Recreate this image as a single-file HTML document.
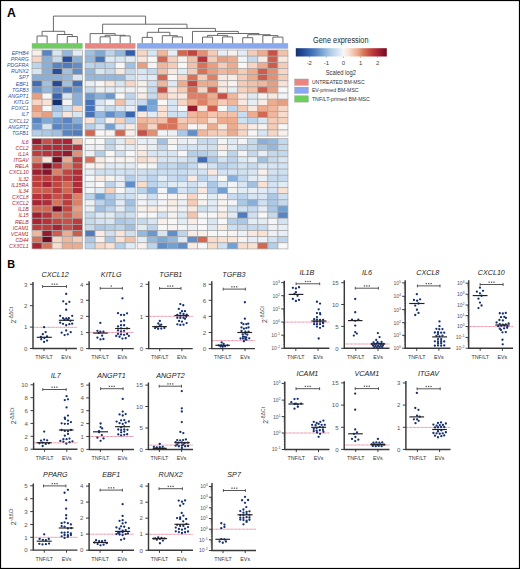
<!DOCTYPE html><html><head><meta charset="utf-8"><style>html,body{margin:0;padding:0;background:#fff}svg{display:block}text{font-family:"Liberation Sans",sans-serif}</style></head><body>
<svg width="520" height="569" viewBox="0 0 520 569">
<rect x="0" y="0" width="520" height="569" fill="#fff"/>
<rect x="0.5" y="0.5" width="519" height="568" fill="none" stroke="#000" stroke-width="1.2"/>
<text x="7.0" y="16.5" font-size="12.2" font-weight="bold" fill="#000">A</text>
<text x="7.2" y="268.3" font-size="10.8" font-weight="bold" fill="#000">B</text>
<rect x="32.00" y="43.3" width="10.08" height="5.2" fill="#6ccf5c" stroke="#a0a0a0" stroke-width="0.35"/>
<rect x="42.08" y="43.3" width="10.08" height="5.2" fill="#6ccf5c" stroke="#a0a0a0" stroke-width="0.35"/>
<rect x="52.16" y="43.3" width="10.08" height="5.2" fill="#6ccf5c" stroke="#a0a0a0" stroke-width="0.35"/>
<rect x="62.24" y="43.3" width="10.08" height="5.2" fill="#6ccf5c" stroke="#a0a0a0" stroke-width="0.35"/>
<rect x="72.32" y="43.3" width="10.08" height="5.2" fill="#6ccf5c" stroke="#a0a0a0" stroke-width="0.35"/>
<rect x="85.10" y="43.3" width="10.02" height="5.2" fill="#ea857f" stroke="#a0a0a0" stroke-width="0.35"/>
<rect x="95.12" y="43.3" width="10.02" height="5.2" fill="#ea857f" stroke="#a0a0a0" stroke-width="0.35"/>
<rect x="105.14" y="43.3" width="10.02" height="5.2" fill="#ea857f" stroke="#a0a0a0" stroke-width="0.35"/>
<rect x="115.16" y="43.3" width="10.02" height="5.2" fill="#ea857f" stroke="#a0a0a0" stroke-width="0.35"/>
<rect x="125.18" y="43.3" width="10.02" height="5.2" fill="#ea857f" stroke="#a0a0a0" stroke-width="0.35"/>
<rect x="137.20" y="43.3" width="10.05" height="5.2" fill="#88a8f2" stroke="#a0a0a0" stroke-width="0.35"/>
<rect x="147.25" y="43.3" width="10.05" height="5.2" fill="#88a8f2" stroke="#a0a0a0" stroke-width="0.35"/>
<rect x="157.30" y="43.3" width="10.05" height="5.2" fill="#88a8f2" stroke="#a0a0a0" stroke-width="0.35"/>
<rect x="167.35" y="43.3" width="10.05" height="5.2" fill="#88a8f2" stroke="#a0a0a0" stroke-width="0.35"/>
<rect x="177.40" y="43.3" width="10.05" height="5.2" fill="#88a8f2" stroke="#a0a0a0" stroke-width="0.35"/>
<rect x="187.45" y="43.3" width="10.05" height="5.2" fill="#88a8f2" stroke="#a0a0a0" stroke-width="0.35"/>
<rect x="197.50" y="43.3" width="10.05" height="5.2" fill="#88a8f2" stroke="#a0a0a0" stroke-width="0.35"/>
<rect x="207.55" y="43.3" width="10.05" height="5.2" fill="#88a8f2" stroke="#a0a0a0" stroke-width="0.35"/>
<rect x="217.60" y="43.3" width="10.05" height="5.2" fill="#88a8f2" stroke="#a0a0a0" stroke-width="0.35"/>
<rect x="227.65" y="43.3" width="10.05" height="5.2" fill="#88a8f2" stroke="#a0a0a0" stroke-width="0.35"/>
<rect x="237.70" y="43.3" width="10.05" height="5.2" fill="#88a8f2" stroke="#a0a0a0" stroke-width="0.35"/>
<rect x="247.75" y="43.3" width="10.05" height="5.2" fill="#88a8f2" stroke="#a0a0a0" stroke-width="0.35"/>
<rect x="257.80" y="43.3" width="10.05" height="5.2" fill="#88a8f2" stroke="#a0a0a0" stroke-width="0.35"/>
<rect x="267.85" y="43.3" width="10.05" height="5.2" fill="#88a8f2" stroke="#a0a0a0" stroke-width="0.35"/>
<rect x="277.90" y="43.3" width="10.05" height="5.2" fill="#88a8f2" stroke="#a0a0a0" stroke-width="0.35"/>
<rect x="32.00" y="50.00" width="10.08" height="6.15" fill="#f8f0eb" stroke="#a6a6a6" stroke-width="0.7"/>
<rect x="42.08" y="50.00" width="10.08" height="6.15" fill="#5785c3" stroke="#a6a6a6" stroke-width="0.7"/>
<rect x="52.16" y="50.00" width="10.08" height="6.15" fill="#d8e6f4" stroke="#a6a6a6" stroke-width="0.7"/>
<rect x="62.24" y="50.00" width="10.08" height="6.15" fill="#95b9de" stroke="#a6a6a6" stroke-width="0.7"/>
<rect x="72.32" y="50.00" width="10.08" height="6.15" fill="#e2ecf5" stroke="#a6a6a6" stroke-width="0.7"/>
<rect x="85.10" y="50.00" width="10.02" height="6.15" fill="#a0c1e2" stroke="#a6a6a6" stroke-width="0.7"/>
<rect x="95.12" y="50.00" width="10.02" height="6.15" fill="#7ea8d6" stroke="#a6a6a6" stroke-width="0.7"/>
<rect x="105.14" y="50.00" width="10.02" height="6.15" fill="#bdd5ec" stroke="#a6a6a6" stroke-width="0.7"/>
<rect x="115.16" y="50.00" width="10.02" height="6.15" fill="#95b9de" stroke="#a6a6a6" stroke-width="0.7"/>
<rect x="125.18" y="50.00" width="10.02" height="6.15" fill="#345da9" stroke="#a6a6a6" stroke-width="0.7"/>
<rect x="137.20" y="50.00" width="10.05" height="6.15" fill="#f7d6c5" stroke="#a6a6a6" stroke-width="0.7"/>
<rect x="147.25" y="50.00" width="10.05" height="6.15" fill="#d8e6f4" stroke="#a6a6a6" stroke-width="0.7"/>
<rect x="157.30" y="50.00" width="10.05" height="6.15" fill="#f0b79c" stroke="#a6a6a6" stroke-width="0.7"/>
<rect x="167.35" y="50.00" width="10.05" height="6.15" fill="#e8eef6" stroke="#a6a6a6" stroke-width="0.7"/>
<rect x="177.40" y="50.00" width="10.05" height="6.15" fill="#d26752" stroke="#a6a6a6" stroke-width="0.7"/>
<rect x="187.45" y="50.00" width="10.05" height="6.15" fill="#c2453f" stroke="#a6a6a6" stroke-width="0.7"/>
<rect x="197.50" y="50.00" width="10.05" height="6.15" fill="#e38f74" stroke="#a6a6a6" stroke-width="0.7"/>
<rect x="207.55" y="50.00" width="10.05" height="6.15" fill="#f5ccb7" stroke="#a6a6a6" stroke-width="0.7"/>
<rect x="217.60" y="50.00" width="10.05" height="6.15" fill="#e8eef6" stroke="#a6a6a6" stroke-width="0.7"/>
<rect x="227.65" y="50.00" width="10.05" height="6.15" fill="#f8f0eb" stroke="#a6a6a6" stroke-width="0.7"/>
<rect x="237.70" y="50.00" width="10.05" height="6.15" fill="#e2ecf5" stroke="#a6a6a6" stroke-width="0.7"/>
<rect x="247.75" y="50.00" width="10.05" height="6.15" fill="#f5ccb7" stroke="#a6a6a6" stroke-width="0.7"/>
<rect x="257.80" y="50.00" width="10.05" height="6.15" fill="#eeac8e" stroke="#a6a6a6" stroke-width="0.7"/>
<rect x="267.85" y="50.00" width="10.05" height="6.15" fill="#c85046" stroke="#a6a6a6" stroke-width="0.7"/>
<rect x="277.90" y="50.00" width="10.05" height="6.15" fill="#f2c1aa" stroke="#a6a6a6" stroke-width="0.7"/>
<rect x="32.00" y="56.15" width="10.08" height="6.15" fill="#f7d6c5" stroke="#a6a6a6" stroke-width="0.7"/>
<rect x="42.08" y="56.15" width="10.08" height="6.15" fill="#89b0da" stroke="#a6a6a6" stroke-width="0.7"/>
<rect x="52.16" y="56.15" width="10.08" height="6.15" fill="#c6daee" stroke="#a6a6a6" stroke-width="0.7"/>
<rect x="62.24" y="56.15" width="10.08" height="6.15" fill="#284f9f" stroke="#a6a6a6" stroke-width="0.7"/>
<rect x="72.32" y="56.15" width="10.08" height="6.15" fill="#89b0da" stroke="#a6a6a6" stroke-width="0.7"/>
<rect x="85.10" y="56.15" width="10.02" height="6.15" fill="#95b9de" stroke="#a6a6a6" stroke-width="0.7"/>
<rect x="95.12" y="56.15" width="10.02" height="6.15" fill="#4573b9" stroke="#a6a6a6" stroke-width="0.7"/>
<rect x="105.14" y="56.15" width="10.02" height="6.15" fill="#dde9f4" stroke="#a6a6a6" stroke-width="0.7"/>
<rect x="115.16" y="56.15" width="10.02" height="6.15" fill="#d8e6f4" stroke="#a6a6a6" stroke-width="0.7"/>
<rect x="125.18" y="56.15" width="10.02" height="6.15" fill="#e2ecf5" stroke="#a6a6a6" stroke-width="0.7"/>
<rect x="137.20" y="56.15" width="10.05" height="6.15" fill="#f9e5d9" stroke="#a6a6a6" stroke-width="0.7"/>
<rect x="147.25" y="56.15" width="10.05" height="6.15" fill="#f7f7f7" stroke="#a6a6a6" stroke-width="0.7"/>
<rect x="157.30" y="56.15" width="10.05" height="6.15" fill="#d26752" stroke="#a6a6a6" stroke-width="0.7"/>
<rect x="167.35" y="56.15" width="10.05" height="6.15" fill="#f6d1be" stroke="#a6a6a6" stroke-width="0.7"/>
<rect x="177.40" y="56.15" width="10.05" height="6.15" fill="#f8f0eb" stroke="#a6a6a6" stroke-width="0.7"/>
<rect x="187.45" y="56.15" width="10.05" height="6.15" fill="#f2c1aa" stroke="#a6a6a6" stroke-width="0.7"/>
<rect x="197.50" y="56.15" width="10.05" height="6.15" fill="#b63439" stroke="#a6a6a6" stroke-width="0.7"/>
<rect x="207.55" y="56.15" width="10.05" height="6.15" fill="#f5ccb7" stroke="#a6a6a6" stroke-width="0.7"/>
<rect x="217.60" y="56.15" width="10.05" height="6.15" fill="#e89e81" stroke="#a6a6a6" stroke-width="0.7"/>
<rect x="227.65" y="56.15" width="10.05" height="6.15" fill="#eeac8e" stroke="#a6a6a6" stroke-width="0.7"/>
<rect x="237.70" y="56.15" width="10.05" height="6.15" fill="#f2f4f6" stroke="#a6a6a6" stroke-width="0.7"/>
<rect x="247.75" y="56.15" width="10.05" height="6.15" fill="#c6daee" stroke="#a6a6a6" stroke-width="0.7"/>
<rect x="257.80" y="56.15" width="10.05" height="6.15" fill="#f8ece5" stroke="#a6a6a6" stroke-width="0.7"/>
<rect x="267.85" y="56.15" width="10.05" height="6.15" fill="#cd5c4c" stroke="#a6a6a6" stroke-width="0.7"/>
<rect x="277.90" y="56.15" width="10.05" height="6.15" fill="#f8e8df" stroke="#a6a6a6" stroke-width="0.7"/>
<rect x="32.00" y="62.30" width="10.08" height="6.15" fill="#bdd5ec" stroke="#a6a6a6" stroke-width="0.7"/>
<rect x="42.08" y="62.30" width="10.08" height="6.15" fill="#89b0da" stroke="#a6a6a6" stroke-width="0.7"/>
<rect x="52.16" y="62.30" width="10.08" height="6.15" fill="#5785c3" stroke="#a6a6a6" stroke-width="0.7"/>
<rect x="62.24" y="62.30" width="10.08" height="6.15" fill="#4e7cbe" stroke="#a6a6a6" stroke-width="0.7"/>
<rect x="72.32" y="62.30" width="10.08" height="6.15" fill="#618ec8" stroke="#a6a6a6" stroke-width="0.7"/>
<rect x="85.10" y="62.30" width="10.02" height="6.15" fill="#bdd5ec" stroke="#a6a6a6" stroke-width="0.7"/>
<rect x="95.12" y="62.30" width="10.02" height="6.15" fill="#b4cfe9" stroke="#a6a6a6" stroke-width="0.7"/>
<rect x="105.14" y="62.30" width="10.02" height="6.15" fill="#bdd5ec" stroke="#a6a6a6" stroke-width="0.7"/>
<rect x="115.16" y="62.30" width="10.02" height="6.15" fill="#f7f7f7" stroke="#a6a6a6" stroke-width="0.7"/>
<rect x="125.18" y="62.30" width="10.02" height="6.15" fill="#a0c1e2" stroke="#a6a6a6" stroke-width="0.7"/>
<rect x="137.20" y="62.30" width="10.05" height="6.15" fill="#e89e81" stroke="#a6a6a6" stroke-width="0.7"/>
<rect x="147.25" y="62.30" width="10.05" height="6.15" fill="#f2f4f6" stroke="#a6a6a6" stroke-width="0.7"/>
<rect x="157.30" y="62.30" width="10.05" height="6.15" fill="#f0b79c" stroke="#a6a6a6" stroke-width="0.7"/>
<rect x="167.35" y="62.30" width="10.05" height="6.15" fill="#f5ccb7" stroke="#a6a6a6" stroke-width="0.7"/>
<rect x="177.40" y="62.30" width="10.05" height="6.15" fill="#f7f7f7" stroke="#a6a6a6" stroke-width="0.7"/>
<rect x="187.45" y="62.30" width="10.05" height="6.15" fill="#f2c1aa" stroke="#a6a6a6" stroke-width="0.7"/>
<rect x="197.50" y="62.30" width="10.05" height="6.15" fill="#d87259" stroke="#a6a6a6" stroke-width="0.7"/>
<rect x="207.55" y="62.30" width="10.05" height="6.15" fill="#e89e81" stroke="#a6a6a6" stroke-width="0.7"/>
<rect x="217.60" y="62.30" width="10.05" height="6.15" fill="#f5ccb7" stroke="#a6a6a6" stroke-width="0.7"/>
<rect x="227.65" y="62.30" width="10.05" height="6.15" fill="#eeac8e" stroke="#a6a6a6" stroke-width="0.7"/>
<rect x="237.70" y="62.30" width="10.05" height="6.15" fill="#f7f7f7" stroke="#a6a6a6" stroke-width="0.7"/>
<rect x="247.75" y="62.30" width="10.05" height="6.15" fill="#f7d6c5" stroke="#a6a6a6" stroke-width="0.7"/>
<rect x="257.80" y="62.30" width="10.05" height="6.15" fill="#eeac8e" stroke="#a6a6a6" stroke-width="0.7"/>
<rect x="267.85" y="62.30" width="10.05" height="6.15" fill="#cd5c4c" stroke="#a6a6a6" stroke-width="0.7"/>
<rect x="277.90" y="62.30" width="10.05" height="6.15" fill="#f5ccb7" stroke="#a6a6a6" stroke-width="0.7"/>
<rect x="32.00" y="68.45" width="10.08" height="6.15" fill="#d8e6f4" stroke="#a6a6a6" stroke-width="0.7"/>
<rect x="42.08" y="68.45" width="10.08" height="6.15" fill="#89b0da" stroke="#a6a6a6" stroke-width="0.7"/>
<rect x="52.16" y="68.45" width="10.08" height="6.15" fill="#284f9f" stroke="#a6a6a6" stroke-width="0.7"/>
<rect x="62.24" y="68.45" width="10.08" height="6.15" fill="#a0c1e2" stroke="#a6a6a6" stroke-width="0.7"/>
<rect x="72.32" y="68.45" width="10.08" height="6.15" fill="#618ec8" stroke="#a6a6a6" stroke-width="0.7"/>
<rect x="85.10" y="68.45" width="10.02" height="6.15" fill="#95b9de" stroke="#a6a6a6" stroke-width="0.7"/>
<rect x="95.12" y="68.45" width="10.02" height="6.15" fill="#d8e6f4" stroke="#a6a6a6" stroke-width="0.7"/>
<rect x="105.14" y="68.45" width="10.02" height="6.15" fill="#c6daee" stroke="#a6a6a6" stroke-width="0.7"/>
<rect x="115.16" y="68.45" width="10.02" height="6.15" fill="#f8e8df" stroke="#a6a6a6" stroke-width="0.7"/>
<rect x="125.18" y="68.45" width="10.02" height="6.15" fill="#c6daee" stroke="#a6a6a6" stroke-width="0.7"/>
<rect x="137.20" y="68.45" width="10.05" height="6.15" fill="#d8e6f4" stroke="#a6a6a6" stroke-width="0.7"/>
<rect x="147.25" y="68.45" width="10.05" height="6.15" fill="#c6daee" stroke="#a6a6a6" stroke-width="0.7"/>
<rect x="157.30" y="68.45" width="10.05" height="6.15" fill="#f2c1aa" stroke="#a6a6a6" stroke-width="0.7"/>
<rect x="167.35" y="68.45" width="10.05" height="6.15" fill="#f8e8df" stroke="#a6a6a6" stroke-width="0.7"/>
<rect x="177.40" y="68.45" width="10.05" height="6.15" fill="#e2ecf5" stroke="#a6a6a6" stroke-width="0.7"/>
<rect x="187.45" y="68.45" width="10.05" height="6.15" fill="#f5ccb7" stroke="#a6a6a6" stroke-width="0.7"/>
<rect x="197.50" y="68.45" width="10.05" height="6.15" fill="#d87259" stroke="#a6a6a6" stroke-width="0.7"/>
<rect x="207.55" y="68.45" width="10.05" height="6.15" fill="#e89e81" stroke="#a6a6a6" stroke-width="0.7"/>
<rect x="217.60" y="68.45" width="10.05" height="6.15" fill="#f0b79c" stroke="#a6a6a6" stroke-width="0.7"/>
<rect x="227.65" y="68.45" width="10.05" height="6.15" fill="#eeac8e" stroke="#a6a6a6" stroke-width="0.7"/>
<rect x="237.70" y="68.45" width="10.05" height="6.15" fill="#f5ccb7" stroke="#a6a6a6" stroke-width="0.7"/>
<rect x="247.75" y="68.45" width="10.05" height="6.15" fill="#eeac8e" stroke="#a6a6a6" stroke-width="0.7"/>
<rect x="257.80" y="68.45" width="10.05" height="6.15" fill="#cd5c4c" stroke="#a6a6a6" stroke-width="0.7"/>
<rect x="267.85" y="68.45" width="10.05" height="6.15" fill="#e38f74" stroke="#a6a6a6" stroke-width="0.7"/>
<rect x="277.90" y="68.45" width="10.05" height="6.15" fill="#f7d6c5" stroke="#a6a6a6" stroke-width="0.7"/>
<rect x="32.00" y="74.60" width="10.08" height="6.15" fill="#89b0da" stroke="#a6a6a6" stroke-width="0.7"/>
<rect x="42.08" y="74.60" width="10.08" height="6.15" fill="#89b0da" stroke="#a6a6a6" stroke-width="0.7"/>
<rect x="52.16" y="74.60" width="10.08" height="6.15" fill="#89b0da" stroke="#a6a6a6" stroke-width="0.7"/>
<rect x="62.24" y="74.60" width="10.08" height="6.15" fill="#95b9de" stroke="#a6a6a6" stroke-width="0.7"/>
<rect x="72.32" y="74.60" width="10.08" height="6.15" fill="#d8e6f4" stroke="#a6a6a6" stroke-width="0.7"/>
<rect x="85.10" y="74.60" width="10.02" height="6.15" fill="#95b9de" stroke="#a6a6a6" stroke-width="0.7"/>
<rect x="95.12" y="74.60" width="10.02" height="6.15" fill="#95b9de" stroke="#a6a6a6" stroke-width="0.7"/>
<rect x="105.14" y="74.60" width="10.02" height="6.15" fill="#95b9de" stroke="#a6a6a6" stroke-width="0.7"/>
<rect x="115.16" y="74.60" width="10.02" height="6.15" fill="#95b9de" stroke="#a6a6a6" stroke-width="0.7"/>
<rect x="125.18" y="74.60" width="10.02" height="6.15" fill="#cfe0f1" stroke="#a6a6a6" stroke-width="0.7"/>
<rect x="137.20" y="74.60" width="10.05" height="6.15" fill="#dde9f4" stroke="#a6a6a6" stroke-width="0.7"/>
<rect x="147.25" y="74.60" width="10.05" height="6.15" fill="#e2ecf5" stroke="#a6a6a6" stroke-width="0.7"/>
<rect x="157.30" y="74.60" width="10.05" height="6.15" fill="#d26752" stroke="#a6a6a6" stroke-width="0.7"/>
<rect x="167.35" y="74.60" width="10.05" height="6.15" fill="#f7f7f7" stroke="#a6a6a6" stroke-width="0.7"/>
<rect x="177.40" y="74.60" width="10.05" height="6.15" fill="#f7d6c5" stroke="#a6a6a6" stroke-width="0.7"/>
<rect x="187.45" y="74.60" width="10.05" height="6.15" fill="#d87259" stroke="#a6a6a6" stroke-width="0.7"/>
<rect x="197.50" y="74.60" width="10.05" height="6.15" fill="#f5ccb7" stroke="#a6a6a6" stroke-width="0.7"/>
<rect x="207.55" y="74.60" width="10.05" height="6.15" fill="#de8066" stroke="#a6a6a6" stroke-width="0.7"/>
<rect x="217.60" y="74.60" width="10.05" height="6.15" fill="#f8e8df" stroke="#a6a6a6" stroke-width="0.7"/>
<rect x="227.65" y="74.60" width="10.05" height="6.15" fill="#f8ece5" stroke="#a6a6a6" stroke-width="0.7"/>
<rect x="237.70" y="74.60" width="10.05" height="6.15" fill="#f5ccb7" stroke="#a6a6a6" stroke-width="0.7"/>
<rect x="247.75" y="74.60" width="10.05" height="6.15" fill="#eeac8e" stroke="#a6a6a6" stroke-width="0.7"/>
<rect x="257.80" y="74.60" width="10.05" height="6.15" fill="#cd5c4c" stroke="#a6a6a6" stroke-width="0.7"/>
<rect x="267.85" y="74.60" width="10.05" height="6.15" fill="#e38f74" stroke="#a6a6a6" stroke-width="0.7"/>
<rect x="277.90" y="74.60" width="10.05" height="6.15" fill="#f5ccb7" stroke="#a6a6a6" stroke-width="0.7"/>
<rect x="32.00" y="80.75" width="10.08" height="6.15" fill="#3f6cb4" stroke="#a6a6a6" stroke-width="0.7"/>
<rect x="42.08" y="80.75" width="10.08" height="6.15" fill="#a0c1e2" stroke="#a6a6a6" stroke-width="0.7"/>
<rect x="52.16" y="80.75" width="10.08" height="6.15" fill="#244995" stroke="#a6a6a6" stroke-width="0.7"/>
<rect x="62.24" y="80.75" width="10.08" height="6.15" fill="#a0c1e2" stroke="#a6a6a6" stroke-width="0.7"/>
<rect x="72.32" y="80.75" width="10.08" height="6.15" fill="#3f6cb4" stroke="#a6a6a6" stroke-width="0.7"/>
<rect x="85.10" y="80.75" width="10.02" height="6.15" fill="#e8eef6" stroke="#a6a6a6" stroke-width="0.7"/>
<rect x="95.12" y="80.75" width="10.02" height="6.15" fill="#f7f7f7" stroke="#a6a6a6" stroke-width="0.7"/>
<rect x="105.14" y="80.75" width="10.02" height="6.15" fill="#f8e8df" stroke="#a6a6a6" stroke-width="0.7"/>
<rect x="115.16" y="80.75" width="10.02" height="6.15" fill="#d8e6f4" stroke="#a6a6a6" stroke-width="0.7"/>
<rect x="125.18" y="80.75" width="10.02" height="6.15" fill="#f7d6c5" stroke="#a6a6a6" stroke-width="0.7"/>
<rect x="137.20" y="80.75" width="10.05" height="6.15" fill="#f8f0eb" stroke="#a6a6a6" stroke-width="0.7"/>
<rect x="147.25" y="80.75" width="10.05" height="6.15" fill="#cfe0f1" stroke="#a6a6a6" stroke-width="0.7"/>
<rect x="157.30" y="80.75" width="10.05" height="6.15" fill="#f0b79c" stroke="#a6a6a6" stroke-width="0.7"/>
<rect x="167.35" y="80.75" width="10.05" height="6.15" fill="#dde9f4" stroke="#a6a6a6" stroke-width="0.7"/>
<rect x="177.40" y="80.75" width="10.05" height="6.15" fill="#eeac8e" stroke="#a6a6a6" stroke-width="0.7"/>
<rect x="187.45" y="80.75" width="10.05" height="6.15" fill="#c2453f" stroke="#a6a6a6" stroke-width="0.7"/>
<rect x="197.50" y="80.75" width="10.05" height="6.15" fill="#eeac8e" stroke="#a6a6a6" stroke-width="0.7"/>
<rect x="207.55" y="80.75" width="10.05" height="6.15" fill="#eeac8e" stroke="#a6a6a6" stroke-width="0.7"/>
<rect x="217.60" y="80.75" width="10.05" height="6.15" fill="#f8e8df" stroke="#a6a6a6" stroke-width="0.7"/>
<rect x="227.65" y="80.75" width="10.05" height="6.15" fill="#f7f3f1" stroke="#a6a6a6" stroke-width="0.7"/>
<rect x="237.70" y="80.75" width="10.05" height="6.15" fill="#f5ccb7" stroke="#a6a6a6" stroke-width="0.7"/>
<rect x="247.75" y="80.75" width="10.05" height="6.15" fill="#f2c1aa" stroke="#a6a6a6" stroke-width="0.7"/>
<rect x="257.80" y="80.75" width="10.05" height="6.15" fill="#f0b79c" stroke="#a6a6a6" stroke-width="0.7"/>
<rect x="267.85" y="80.75" width="10.05" height="6.15" fill="#e89e81" stroke="#a6a6a6" stroke-width="0.7"/>
<rect x="277.90" y="80.75" width="10.05" height="6.15" fill="#f9e1d3" stroke="#a6a6a6" stroke-width="0.7"/>
<rect x="32.00" y="86.90" width="10.08" height="6.15" fill="#6a97cd" stroke="#a6a6a6" stroke-width="0.7"/>
<rect x="42.08" y="86.90" width="10.08" height="6.15" fill="#95b9de" stroke="#a6a6a6" stroke-width="0.7"/>
<rect x="52.16" y="86.90" width="10.08" height="6.15" fill="#618ec8" stroke="#a6a6a6" stroke-width="0.7"/>
<rect x="62.24" y="86.90" width="10.08" height="6.15" fill="#4e7cbe" stroke="#a6a6a6" stroke-width="0.7"/>
<rect x="72.32" y="86.90" width="10.08" height="6.15" fill="#6a97cd" stroke="#a6a6a6" stroke-width="0.7"/>
<rect x="85.10" y="86.90" width="10.02" height="6.15" fill="#c6daee" stroke="#a6a6a6" stroke-width="0.7"/>
<rect x="95.12" y="86.90" width="10.02" height="6.15" fill="#edf1f6" stroke="#a6a6a6" stroke-width="0.7"/>
<rect x="105.14" y="86.90" width="10.02" height="6.15" fill="#e2ecf5" stroke="#a6a6a6" stroke-width="0.7"/>
<rect x="115.16" y="86.90" width="10.02" height="6.15" fill="#edf1f6" stroke="#a6a6a6" stroke-width="0.7"/>
<rect x="125.18" y="86.90" width="10.02" height="6.15" fill="#edf1f6" stroke="#a6a6a6" stroke-width="0.7"/>
<rect x="137.20" y="86.90" width="10.05" height="6.15" fill="#f7f3f1" stroke="#a6a6a6" stroke-width="0.7"/>
<rect x="147.25" y="86.90" width="10.05" height="6.15" fill="#c6daee" stroke="#a6a6a6" stroke-width="0.7"/>
<rect x="157.30" y="86.90" width="10.05" height="6.15" fill="#c85046" stroke="#a6a6a6" stroke-width="0.7"/>
<rect x="167.35" y="86.90" width="10.05" height="6.15" fill="#f8e8df" stroke="#a6a6a6" stroke-width="0.7"/>
<rect x="177.40" y="86.90" width="10.05" height="6.15" fill="#f5ccb7" stroke="#a6a6a6" stroke-width="0.7"/>
<rect x="187.45" y="86.90" width="10.05" height="6.15" fill="#d87259" stroke="#a6a6a6" stroke-width="0.7"/>
<rect x="197.50" y="86.90" width="10.05" height="6.15" fill="#f7d6c5" stroke="#a6a6a6" stroke-width="0.7"/>
<rect x="207.55" y="86.90" width="10.05" height="6.15" fill="#cd5c4c" stroke="#a6a6a6" stroke-width="0.7"/>
<rect x="217.60" y="86.90" width="10.05" height="6.15" fill="#f8e8df" stroke="#a6a6a6" stroke-width="0.7"/>
<rect x="227.65" y="86.90" width="10.05" height="6.15" fill="#e8eef6" stroke="#a6a6a6" stroke-width="0.7"/>
<rect x="237.70" y="86.90" width="10.05" height="6.15" fill="#f6d1be" stroke="#a6a6a6" stroke-width="0.7"/>
<rect x="247.75" y="86.90" width="10.05" height="6.15" fill="#f2c1aa" stroke="#a6a6a6" stroke-width="0.7"/>
<rect x="257.80" y="86.90" width="10.05" height="6.15" fill="#cd5c4c" stroke="#a6a6a6" stroke-width="0.7"/>
<rect x="267.85" y="86.90" width="10.05" height="6.15" fill="#e89e81" stroke="#a6a6a6" stroke-width="0.7"/>
<rect x="277.90" y="86.90" width="10.05" height="6.15" fill="#f7f7f7" stroke="#a6a6a6" stroke-width="0.7"/>
<rect x="32.00" y="93.05" width="10.08" height="6.15" fill="#e89e81" stroke="#a6a6a6" stroke-width="0.7"/>
<rect x="42.08" y="93.05" width="10.08" height="6.15" fill="#f7f7f7" stroke="#a6a6a6" stroke-width="0.7"/>
<rect x="52.16" y="93.05" width="10.08" height="6.15" fill="#3965af" stroke="#a6a6a6" stroke-width="0.7"/>
<rect x="62.24" y="93.05" width="10.08" height="6.15" fill="#d8e6f4" stroke="#a6a6a6" stroke-width="0.7"/>
<rect x="72.32" y="93.05" width="10.08" height="6.15" fill="#89b0da" stroke="#a6a6a6" stroke-width="0.7"/>
<rect x="85.10" y="93.05" width="10.02" height="6.15" fill="#6a97cd" stroke="#a6a6a6" stroke-width="0.7"/>
<rect x="95.12" y="93.05" width="10.02" height="6.15" fill="#89b0da" stroke="#a6a6a6" stroke-width="0.7"/>
<rect x="105.14" y="93.05" width="10.02" height="6.15" fill="#6a97cd" stroke="#a6a6a6" stroke-width="0.7"/>
<rect x="115.16" y="93.05" width="10.02" height="6.15" fill="#f7f7f7" stroke="#a6a6a6" stroke-width="0.7"/>
<rect x="125.18" y="93.05" width="10.02" height="6.15" fill="#bdd5ec" stroke="#a6a6a6" stroke-width="0.7"/>
<rect x="137.20" y="93.05" width="10.05" height="6.15" fill="#f8ece5" stroke="#a6a6a6" stroke-width="0.7"/>
<rect x="147.25" y="93.05" width="10.05" height="6.15" fill="#c6daee" stroke="#a6a6a6" stroke-width="0.7"/>
<rect x="157.30" y="93.05" width="10.05" height="6.15" fill="#f2c1aa" stroke="#a6a6a6" stroke-width="0.7"/>
<rect x="167.35" y="93.05" width="10.05" height="6.15" fill="#f9e5d9" stroke="#a6a6a6" stroke-width="0.7"/>
<rect x="177.40" y="93.05" width="10.05" height="6.15" fill="#f8e8df" stroke="#a6a6a6" stroke-width="0.7"/>
<rect x="187.45" y="93.05" width="10.05" height="6.15" fill="#de8066" stroke="#a6a6a6" stroke-width="0.7"/>
<rect x="197.50" y="93.05" width="10.05" height="6.15" fill="#de8066" stroke="#a6a6a6" stroke-width="0.7"/>
<rect x="207.55" y="93.05" width="10.05" height="6.15" fill="#eeac8e" stroke="#a6a6a6" stroke-width="0.7"/>
<rect x="217.60" y="93.05" width="10.05" height="6.15" fill="#c85046" stroke="#a6a6a6" stroke-width="0.7"/>
<rect x="227.65" y="93.05" width="10.05" height="6.15" fill="#f0b79c" stroke="#a6a6a6" stroke-width="0.7"/>
<rect x="237.70" y="93.05" width="10.05" height="6.15" fill="#f8e8df" stroke="#a6a6a6" stroke-width="0.7"/>
<rect x="247.75" y="93.05" width="10.05" height="6.15" fill="#dde9f4" stroke="#a6a6a6" stroke-width="0.7"/>
<rect x="257.80" y="93.05" width="10.05" height="6.15" fill="#f7f3f1" stroke="#a6a6a6" stroke-width="0.7"/>
<rect x="267.85" y="93.05" width="10.05" height="6.15" fill="#f8e8df" stroke="#a6a6a6" stroke-width="0.7"/>
<rect x="277.90" y="93.05" width="10.05" height="6.15" fill="#f2f4f6" stroke="#a6a6a6" stroke-width="0.7"/>
<rect x="32.00" y="99.20" width="10.08" height="6.15" fill="#f7d6c5" stroke="#a6a6a6" stroke-width="0.7"/>
<rect x="42.08" y="99.20" width="10.08" height="6.15" fill="#f9e1d3" stroke="#a6a6a6" stroke-width="0.7"/>
<rect x="52.16" y="99.20" width="10.08" height="6.15" fill="#14306e" stroke="#a6a6a6" stroke-width="0.7"/>
<rect x="62.24" y="99.20" width="10.08" height="6.15" fill="#f2f4f6" stroke="#a6a6a6" stroke-width="0.7"/>
<rect x="72.32" y="99.20" width="10.08" height="6.15" fill="#89b0da" stroke="#a6a6a6" stroke-width="0.7"/>
<rect x="85.10" y="99.20" width="10.02" height="6.15" fill="#4573b9" stroke="#a6a6a6" stroke-width="0.7"/>
<rect x="95.12" y="99.20" width="10.02" height="6.15" fill="#d8e6f4" stroke="#a6a6a6" stroke-width="0.7"/>
<rect x="105.14" y="99.20" width="10.02" height="6.15" fill="#f2f4f6" stroke="#a6a6a6" stroke-width="0.7"/>
<rect x="115.16" y="99.20" width="10.02" height="6.15" fill="#f2c1aa" stroke="#a6a6a6" stroke-width="0.7"/>
<rect x="125.18" y="99.20" width="10.02" height="6.15" fill="#d8e6f4" stroke="#a6a6a6" stroke-width="0.7"/>
<rect x="137.20" y="99.20" width="10.05" height="6.15" fill="#c6daee" stroke="#a6a6a6" stroke-width="0.7"/>
<rect x="147.25" y="99.20" width="10.05" height="6.15" fill="#73a0d2" stroke="#a6a6a6" stroke-width="0.7"/>
<rect x="157.30" y="99.20" width="10.05" height="6.15" fill="#f7f7f7" stroke="#a6a6a6" stroke-width="0.7"/>
<rect x="167.35" y="99.20" width="10.05" height="6.15" fill="#d8e6f4" stroke="#a6a6a6" stroke-width="0.7"/>
<rect x="177.40" y="99.20" width="10.05" height="6.15" fill="#f7d6c5" stroke="#a6a6a6" stroke-width="0.7"/>
<rect x="187.45" y="99.20" width="10.05" height="6.15" fill="#eeac8e" stroke="#a6a6a6" stroke-width="0.7"/>
<rect x="197.50" y="99.20" width="10.05" height="6.15" fill="#de8066" stroke="#a6a6a6" stroke-width="0.7"/>
<rect x="207.55" y="99.20" width="10.05" height="6.15" fill="#eeac8e" stroke="#a6a6a6" stroke-width="0.7"/>
<rect x="217.60" y="99.20" width="10.05" height="6.15" fill="#f5ccb7" stroke="#a6a6a6" stroke-width="0.7"/>
<rect x="227.65" y="99.20" width="10.05" height="6.15" fill="#f0b79c" stroke="#a6a6a6" stroke-width="0.7"/>
<rect x="237.70" y="99.20" width="10.05" height="6.15" fill="#f8e8df" stroke="#a6a6a6" stroke-width="0.7"/>
<rect x="247.75" y="99.20" width="10.05" height="6.15" fill="#e8eef6" stroke="#a6a6a6" stroke-width="0.7"/>
<rect x="257.80" y="99.20" width="10.05" height="6.15" fill="#f8ece5" stroke="#a6a6a6" stroke-width="0.7"/>
<rect x="267.85" y="99.20" width="10.05" height="6.15" fill="#eeac8e" stroke="#a6a6a6" stroke-width="0.7"/>
<rect x="277.90" y="99.20" width="10.05" height="6.15" fill="#e89e81" stroke="#a6a6a6" stroke-width="0.7"/>
<rect x="32.00" y="105.35" width="10.08" height="6.15" fill="#e89e81" stroke="#a6a6a6" stroke-width="0.7"/>
<rect x="42.08" y="105.35" width="10.08" height="6.15" fill="#f7f7f7" stroke="#a6a6a6" stroke-width="0.7"/>
<rect x="52.16" y="105.35" width="10.08" height="6.15" fill="#a0c1e2" stroke="#a6a6a6" stroke-width="0.7"/>
<rect x="62.24" y="105.35" width="10.08" height="6.15" fill="#c6daee" stroke="#a6a6a6" stroke-width="0.7"/>
<rect x="72.32" y="105.35" width="10.08" height="6.15" fill="#f7d6c5" stroke="#a6a6a6" stroke-width="0.7"/>
<rect x="85.10" y="105.35" width="10.02" height="6.15" fill="#4573b9" stroke="#a6a6a6" stroke-width="0.7"/>
<rect x="95.12" y="105.35" width="10.02" height="6.15" fill="#e2ecf5" stroke="#a6a6a6" stroke-width="0.7"/>
<rect x="105.14" y="105.35" width="10.02" height="6.15" fill="#c6daee" stroke="#a6a6a6" stroke-width="0.7"/>
<rect x="115.16" y="105.35" width="10.02" height="6.15" fill="#d8e6f4" stroke="#a6a6a6" stroke-width="0.7"/>
<rect x="125.18" y="105.35" width="10.02" height="6.15" fill="#e8eef6" stroke="#a6a6a6" stroke-width="0.7"/>
<rect x="137.20" y="105.35" width="10.05" height="6.15" fill="#4573b9" stroke="#a6a6a6" stroke-width="0.7"/>
<rect x="147.25" y="105.35" width="10.05" height="6.15" fill="#7ea8d6" stroke="#a6a6a6" stroke-width="0.7"/>
<rect x="157.30" y="105.35" width="10.05" height="6.15" fill="#f9e1d3" stroke="#a6a6a6" stroke-width="0.7"/>
<rect x="167.35" y="105.35" width="10.05" height="6.15" fill="#d8e6f4" stroke="#a6a6a6" stroke-width="0.7"/>
<rect x="177.40" y="105.35" width="10.05" height="6.15" fill="#f7f7f7" stroke="#a6a6a6" stroke-width="0.7"/>
<rect x="187.45" y="105.35" width="10.05" height="6.15" fill="#941a2c" stroke="#a6a6a6" stroke-width="0.7"/>
<rect x="197.50" y="105.35" width="10.05" height="6.15" fill="#f9e5d9" stroke="#a6a6a6" stroke-width="0.7"/>
<rect x="207.55" y="105.35" width="10.05" height="6.15" fill="#cd5c4c" stroke="#a6a6a6" stroke-width="0.7"/>
<rect x="217.60" y="105.35" width="10.05" height="6.15" fill="#f7f7f7" stroke="#a6a6a6" stroke-width="0.7"/>
<rect x="227.65" y="105.35" width="10.05" height="6.15" fill="#bdd5ec" stroke="#a6a6a6" stroke-width="0.7"/>
<rect x="237.70" y="105.35" width="10.05" height="6.15" fill="#f5ccb7" stroke="#a6a6a6" stroke-width="0.7"/>
<rect x="247.75" y="105.35" width="10.05" height="6.15" fill="#f8e8df" stroke="#a6a6a6" stroke-width="0.7"/>
<rect x="257.80" y="105.35" width="10.05" height="6.15" fill="#eeac8e" stroke="#a6a6a6" stroke-width="0.7"/>
<rect x="267.85" y="105.35" width="10.05" height="6.15" fill="#f0b79c" stroke="#a6a6a6" stroke-width="0.7"/>
<rect x="277.90" y="105.35" width="10.05" height="6.15" fill="#f7d6c5" stroke="#a6a6a6" stroke-width="0.7"/>
<rect x="32.00" y="111.50" width="10.08" height="6.15" fill="#f0b79c" stroke="#a6a6a6" stroke-width="0.7"/>
<rect x="42.08" y="111.50" width="10.08" height="6.15" fill="#e89e81" stroke="#a6a6a6" stroke-width="0.7"/>
<rect x="52.16" y="111.50" width="10.08" height="6.15" fill="#bdd5ec" stroke="#a6a6a6" stroke-width="0.7"/>
<rect x="62.24" y="111.50" width="10.08" height="6.15" fill="#f9e5d9" stroke="#a6a6a6" stroke-width="0.7"/>
<rect x="72.32" y="111.50" width="10.08" height="6.15" fill="#d8e6f4" stroke="#a6a6a6" stroke-width="0.7"/>
<rect x="85.10" y="111.50" width="10.02" height="6.15" fill="#4573b9" stroke="#a6a6a6" stroke-width="0.7"/>
<rect x="95.12" y="111.50" width="10.02" height="6.15" fill="#95b9de" stroke="#a6a6a6" stroke-width="0.7"/>
<rect x="105.14" y="111.50" width="10.02" height="6.15" fill="#618ec8" stroke="#a6a6a6" stroke-width="0.7"/>
<rect x="115.16" y="111.50" width="10.02" height="6.15" fill="#89b0da" stroke="#a6a6a6" stroke-width="0.7"/>
<rect x="125.18" y="111.50" width="10.02" height="6.15" fill="#3965af" stroke="#a6a6a6" stroke-width="0.7"/>
<rect x="137.20" y="111.50" width="10.05" height="6.15" fill="#f8e8df" stroke="#a6a6a6" stroke-width="0.7"/>
<rect x="147.25" y="111.50" width="10.05" height="6.15" fill="#e2ecf5" stroke="#a6a6a6" stroke-width="0.7"/>
<rect x="157.30" y="111.50" width="10.05" height="6.15" fill="#f9e1d3" stroke="#a6a6a6" stroke-width="0.7"/>
<rect x="167.35" y="111.50" width="10.05" height="6.15" fill="#cfe0f1" stroke="#a6a6a6" stroke-width="0.7"/>
<rect x="177.40" y="111.50" width="10.05" height="6.15" fill="#cfe0f1" stroke="#a6a6a6" stroke-width="0.7"/>
<rect x="187.45" y="111.50" width="10.05" height="6.15" fill="#f0b79c" stroke="#a6a6a6" stroke-width="0.7"/>
<rect x="197.50" y="111.50" width="10.05" height="6.15" fill="#eeac8e" stroke="#a6a6a6" stroke-width="0.7"/>
<rect x="207.55" y="111.50" width="10.05" height="6.15" fill="#f4c6b0" stroke="#a6a6a6" stroke-width="0.7"/>
<rect x="217.60" y="111.50" width="10.05" height="6.15" fill="#f2c1aa" stroke="#a6a6a6" stroke-width="0.7"/>
<rect x="227.65" y="111.50" width="10.05" height="6.15" fill="#f2c1aa" stroke="#a6a6a6" stroke-width="0.7"/>
<rect x="237.70" y="111.50" width="10.05" height="6.15" fill="#caddf0" stroke="#a6a6a6" stroke-width="0.7"/>
<rect x="247.75" y="111.50" width="10.05" height="6.15" fill="#eeac8e" stroke="#a6a6a6" stroke-width="0.7"/>
<rect x="257.80" y="111.50" width="10.05" height="6.15" fill="#d26752" stroke="#a6a6a6" stroke-width="0.7"/>
<rect x="267.85" y="111.50" width="10.05" height="6.15" fill="#f0b79c" stroke="#a6a6a6" stroke-width="0.7"/>
<rect x="277.90" y="111.50" width="10.05" height="6.15" fill="#f8dccc" stroke="#a6a6a6" stroke-width="0.7"/>
<rect x="32.00" y="117.65" width="10.08" height="6.15" fill="#5785c3" stroke="#a6a6a6" stroke-width="0.7"/>
<rect x="42.08" y="117.65" width="10.08" height="6.15" fill="#7ea8d6" stroke="#a6a6a6" stroke-width="0.7"/>
<rect x="52.16" y="117.65" width="10.08" height="6.15" fill="#6a97cd" stroke="#a6a6a6" stroke-width="0.7"/>
<rect x="62.24" y="117.65" width="10.08" height="6.15" fill="#5785c3" stroke="#a6a6a6" stroke-width="0.7"/>
<rect x="72.32" y="117.65" width="10.08" height="6.15" fill="#89b0da" stroke="#a6a6a6" stroke-width="0.7"/>
<rect x="85.10" y="117.65" width="10.02" height="6.15" fill="#f9e1d3" stroke="#a6a6a6" stroke-width="0.7"/>
<rect x="95.12" y="117.65" width="10.02" height="6.15" fill="#bdd5ec" stroke="#a6a6a6" stroke-width="0.7"/>
<rect x="105.14" y="117.65" width="10.02" height="6.15" fill="#f8f0eb" stroke="#a6a6a6" stroke-width="0.7"/>
<rect x="115.16" y="117.65" width="10.02" height="6.15" fill="#f6d1be" stroke="#a6a6a6" stroke-width="0.7"/>
<rect x="125.18" y="117.65" width="10.02" height="6.15" fill="#bdd5ec" stroke="#a6a6a6" stroke-width="0.7"/>
<rect x="137.20" y="117.65" width="10.05" height="6.15" fill="#f0b79c" stroke="#a6a6a6" stroke-width="0.7"/>
<rect x="147.25" y="117.65" width="10.05" height="6.15" fill="#f2c1aa" stroke="#a6a6a6" stroke-width="0.7"/>
<rect x="157.30" y="117.65" width="10.05" height="6.15" fill="#f2c1aa" stroke="#a6a6a6" stroke-width="0.7"/>
<rect x="167.35" y="117.65" width="10.05" height="6.15" fill="#d87259" stroke="#a6a6a6" stroke-width="0.7"/>
<rect x="177.40" y="117.65" width="10.05" height="6.15" fill="#f5ccb7" stroke="#a6a6a6" stroke-width="0.7"/>
<rect x="187.45" y="117.65" width="10.05" height="6.15" fill="#f2c1aa" stroke="#a6a6a6" stroke-width="0.7"/>
<rect x="197.50" y="117.65" width="10.05" height="6.15" fill="#f0b79c" stroke="#a6a6a6" stroke-width="0.7"/>
<rect x="207.55" y="117.65" width="10.05" height="6.15" fill="#f9e1d3" stroke="#a6a6a6" stroke-width="0.7"/>
<rect x="217.60" y="117.65" width="10.05" height="6.15" fill="#eeac8e" stroke="#a6a6a6" stroke-width="0.7"/>
<rect x="227.65" y="117.65" width="10.05" height="6.15" fill="#eeac8e" stroke="#a6a6a6" stroke-width="0.7"/>
<rect x="237.70" y="117.65" width="10.05" height="6.15" fill="#cfe0f1" stroke="#a6a6a6" stroke-width="0.7"/>
<rect x="247.75" y="117.65" width="10.05" height="6.15" fill="#bdd5ec" stroke="#a6a6a6" stroke-width="0.7"/>
<rect x="257.80" y="117.65" width="10.05" height="6.15" fill="#d8e6f4" stroke="#a6a6a6" stroke-width="0.7"/>
<rect x="267.85" y="117.65" width="10.05" height="6.15" fill="#f5ccb7" stroke="#a6a6a6" stroke-width="0.7"/>
<rect x="277.90" y="117.65" width="10.05" height="6.15" fill="#f6d1be" stroke="#a6a6a6" stroke-width="0.7"/>
<rect x="32.00" y="123.80" width="10.08" height="6.15" fill="#6a97cd" stroke="#a6a6a6" stroke-width="0.7"/>
<rect x="42.08" y="123.80" width="10.08" height="6.15" fill="#d8e6f4" stroke="#a6a6a6" stroke-width="0.7"/>
<rect x="52.16" y="123.80" width="10.08" height="6.15" fill="#5785c3" stroke="#a6a6a6" stroke-width="0.7"/>
<rect x="62.24" y="123.80" width="10.08" height="6.15" fill="#618ec8" stroke="#a6a6a6" stroke-width="0.7"/>
<rect x="72.32" y="123.80" width="10.08" height="6.15" fill="#618ec8" stroke="#a6a6a6" stroke-width="0.7"/>
<rect x="85.10" y="123.80" width="10.02" height="6.15" fill="#b4cfe9" stroke="#a6a6a6" stroke-width="0.7"/>
<rect x="95.12" y="123.80" width="10.02" height="6.15" fill="#d8e6f4" stroke="#a6a6a6" stroke-width="0.7"/>
<rect x="105.14" y="123.80" width="10.02" height="6.15" fill="#73a0d2" stroke="#a6a6a6" stroke-width="0.7"/>
<rect x="115.16" y="123.80" width="10.02" height="6.15" fill="#d8e6f4" stroke="#a6a6a6" stroke-width="0.7"/>
<rect x="125.18" y="123.80" width="10.02" height="6.15" fill="#f8ece5" stroke="#a6a6a6" stroke-width="0.7"/>
<rect x="137.20" y="123.80" width="10.05" height="6.15" fill="#e89e81" stroke="#a6a6a6" stroke-width="0.7"/>
<rect x="147.25" y="123.80" width="10.05" height="6.15" fill="#f7d6c5" stroke="#a6a6a6" stroke-width="0.7"/>
<rect x="157.30" y="123.80" width="10.05" height="6.15" fill="#d87259" stroke="#a6a6a6" stroke-width="0.7"/>
<rect x="167.35" y="123.80" width="10.05" height="6.15" fill="#d87259" stroke="#a6a6a6" stroke-width="0.7"/>
<rect x="177.40" y="123.80" width="10.05" height="6.15" fill="#f0b79c" stroke="#a6a6a6" stroke-width="0.7"/>
<rect x="187.45" y="123.80" width="10.05" height="6.15" fill="#f7f7f7" stroke="#a6a6a6" stroke-width="0.7"/>
<rect x="197.50" y="123.80" width="10.05" height="6.15" fill="#f8ece5" stroke="#a6a6a6" stroke-width="0.7"/>
<rect x="207.55" y="123.80" width="10.05" height="6.15" fill="#eeac8e" stroke="#a6a6a6" stroke-width="0.7"/>
<rect x="217.60" y="123.80" width="10.05" height="6.15" fill="#f8e8df" stroke="#a6a6a6" stroke-width="0.7"/>
<rect x="227.65" y="123.80" width="10.05" height="6.15" fill="#eeac8e" stroke="#a6a6a6" stroke-width="0.7"/>
<rect x="237.70" y="123.80" width="10.05" height="6.15" fill="#f7d6c5" stroke="#a6a6a6" stroke-width="0.7"/>
<rect x="247.75" y="123.80" width="10.05" height="6.15" fill="#f8ece5" stroke="#a6a6a6" stroke-width="0.7"/>
<rect x="257.80" y="123.80" width="10.05" height="6.15" fill="#f7f3f1" stroke="#a6a6a6" stroke-width="0.7"/>
<rect x="267.85" y="123.80" width="10.05" height="6.15" fill="#f5ccb7" stroke="#a6a6a6" stroke-width="0.7"/>
<rect x="277.90" y="123.80" width="10.05" height="6.15" fill="#f7f7f7" stroke="#a6a6a6" stroke-width="0.7"/>
<rect x="32.00" y="129.95" width="10.08" height="6.15" fill="#b4cfe9" stroke="#a6a6a6" stroke-width="0.7"/>
<rect x="42.08" y="129.95" width="10.08" height="6.15" fill="#abc9e6" stroke="#a6a6a6" stroke-width="0.7"/>
<rect x="52.16" y="129.95" width="10.08" height="6.15" fill="#a0c1e2" stroke="#a6a6a6" stroke-width="0.7"/>
<rect x="62.24" y="129.95" width="10.08" height="6.15" fill="#5785c3" stroke="#a6a6a6" stroke-width="0.7"/>
<rect x="72.32" y="129.95" width="10.08" height="6.15" fill="#4e7cbe" stroke="#a6a6a6" stroke-width="0.7"/>
<rect x="85.10" y="129.95" width="10.02" height="6.15" fill="#d26752" stroke="#a6a6a6" stroke-width="0.7"/>
<rect x="95.12" y="129.95" width="10.02" height="6.15" fill="#f7f7f7" stroke="#a6a6a6" stroke-width="0.7"/>
<rect x="105.14" y="129.95" width="10.02" height="6.15" fill="#f7f3f1" stroke="#a6a6a6" stroke-width="0.7"/>
<rect x="115.16" y="129.95" width="10.02" height="6.15" fill="#d26752" stroke="#a6a6a6" stroke-width="0.7"/>
<rect x="125.18" y="129.95" width="10.02" height="6.15" fill="#f8f0eb" stroke="#a6a6a6" stroke-width="0.7"/>
<rect x="137.20" y="129.95" width="10.05" height="6.15" fill="#c85046" stroke="#a6a6a6" stroke-width="0.7"/>
<rect x="147.25" y="129.95" width="10.05" height="6.15" fill="#e38f74" stroke="#a6a6a6" stroke-width="0.7"/>
<rect x="157.30" y="129.95" width="10.05" height="6.15" fill="#f2f4f6" stroke="#a6a6a6" stroke-width="0.7"/>
<rect x="167.35" y="129.95" width="10.05" height="6.15" fill="#edf1f6" stroke="#a6a6a6" stroke-width="0.7"/>
<rect x="177.40" y="129.95" width="10.05" height="6.15" fill="#abc9e6" stroke="#a6a6a6" stroke-width="0.7"/>
<rect x="187.45" y="129.95" width="10.05" height="6.15" fill="#618ec8" stroke="#a6a6a6" stroke-width="0.7"/>
<rect x="197.50" y="129.95" width="10.05" height="6.15" fill="#f0b79c" stroke="#a6a6a6" stroke-width="0.7"/>
<rect x="207.55" y="129.95" width="10.05" height="6.15" fill="#f5ccb7" stroke="#a6a6a6" stroke-width="0.7"/>
<rect x="217.60" y="129.95" width="10.05" height="6.15" fill="#f6d1be" stroke="#a6a6a6" stroke-width="0.7"/>
<rect x="227.65" y="129.95" width="10.05" height="6.15" fill="#eeac8e" stroke="#a6a6a6" stroke-width="0.7"/>
<rect x="237.70" y="129.95" width="10.05" height="6.15" fill="#f7d6c5" stroke="#a6a6a6" stroke-width="0.7"/>
<rect x="247.75" y="129.95" width="10.05" height="6.15" fill="#f7f7f7" stroke="#a6a6a6" stroke-width="0.7"/>
<rect x="257.80" y="129.95" width="10.05" height="6.15" fill="#d8e6f4" stroke="#a6a6a6" stroke-width="0.7"/>
<rect x="267.85" y="129.95" width="10.05" height="6.15" fill="#f7d6c5" stroke="#a6a6a6" stroke-width="0.7"/>
<rect x="277.90" y="129.95" width="10.05" height="6.15" fill="#f8f0eb" stroke="#a6a6a6" stroke-width="0.7"/>
<rect x="32.00" y="138.40" width="10.08" height="6.14" fill="#941a2c" stroke="#a6a6a6" stroke-width="0.7"/>
<rect x="42.08" y="138.40" width="10.08" height="6.14" fill="#c85046" stroke="#a6a6a6" stroke-width="0.7"/>
<rect x="52.16" y="138.40" width="10.08" height="6.14" fill="#b02c36" stroke="#a6a6a6" stroke-width="0.7"/>
<rect x="62.24" y="138.40" width="10.08" height="6.14" fill="#aa2433" stroke="#a6a6a6" stroke-width="0.7"/>
<rect x="72.32" y="138.40" width="10.08" height="6.14" fill="#f2c1aa" stroke="#a6a6a6" stroke-width="0.7"/>
<rect x="85.10" y="138.40" width="10.02" height="6.14" fill="#f7f7f7" stroke="#a6a6a6" stroke-width="0.7"/>
<rect x="95.12" y="138.40" width="10.02" height="6.14" fill="#f7f7f7" stroke="#a6a6a6" stroke-width="0.7"/>
<rect x="105.14" y="138.40" width="10.02" height="6.14" fill="#bdd5ec" stroke="#a6a6a6" stroke-width="0.7"/>
<rect x="115.16" y="138.40" width="10.02" height="6.14" fill="#e2ecf5" stroke="#a6a6a6" stroke-width="0.7"/>
<rect x="125.18" y="138.40" width="10.02" height="6.14" fill="#f8dccc" stroke="#a6a6a6" stroke-width="0.7"/>
<rect x="137.20" y="138.40" width="10.05" height="6.14" fill="#e8eef6" stroke="#a6a6a6" stroke-width="0.7"/>
<rect x="147.25" y="138.40" width="10.05" height="6.14" fill="#e8eef6" stroke="#a6a6a6" stroke-width="0.7"/>
<rect x="157.30" y="138.40" width="10.05" height="6.14" fill="#a0c1e2" stroke="#a6a6a6" stroke-width="0.7"/>
<rect x="167.35" y="138.40" width="10.05" height="6.14" fill="#f8f0eb" stroke="#a6a6a6" stroke-width="0.7"/>
<rect x="177.40" y="138.40" width="10.05" height="6.14" fill="#e8eef6" stroke="#a6a6a6" stroke-width="0.7"/>
<rect x="187.45" y="138.40" width="10.05" height="6.14" fill="#edf1f6" stroke="#a6a6a6" stroke-width="0.7"/>
<rect x="197.50" y="138.40" width="10.05" height="6.14" fill="#c6daee" stroke="#a6a6a6" stroke-width="0.7"/>
<rect x="207.55" y="138.40" width="10.05" height="6.14" fill="#c6daee" stroke="#a6a6a6" stroke-width="0.7"/>
<rect x="217.60" y="138.40" width="10.05" height="6.14" fill="#f2f4f6" stroke="#a6a6a6" stroke-width="0.7"/>
<rect x="227.65" y="138.40" width="10.05" height="6.14" fill="#dde9f4" stroke="#a6a6a6" stroke-width="0.7"/>
<rect x="237.70" y="138.40" width="10.05" height="6.14" fill="#f2f4f6" stroke="#a6a6a6" stroke-width="0.7"/>
<rect x="247.75" y="138.40" width="10.05" height="6.14" fill="#c6daee" stroke="#a6a6a6" stroke-width="0.7"/>
<rect x="257.80" y="138.40" width="10.05" height="6.14" fill="#89b0da" stroke="#a6a6a6" stroke-width="0.7"/>
<rect x="267.85" y="138.40" width="10.05" height="6.14" fill="#95b9de" stroke="#a6a6a6" stroke-width="0.7"/>
<rect x="277.90" y="138.40" width="10.05" height="6.14" fill="#c2d8ed" stroke="#a6a6a6" stroke-width="0.7"/>
<rect x="32.00" y="144.54" width="10.08" height="6.14" fill="#bc3d3c" stroke="#a6a6a6" stroke-width="0.7"/>
<rect x="42.08" y="144.54" width="10.08" height="6.14" fill="#b02c36" stroke="#a6a6a6" stroke-width="0.7"/>
<rect x="52.16" y="144.54" width="10.08" height="6.14" fill="#b02c36" stroke="#a6a6a6" stroke-width="0.7"/>
<rect x="62.24" y="144.54" width="10.08" height="6.14" fill="#b02c36" stroke="#a6a6a6" stroke-width="0.7"/>
<rect x="72.32" y="144.54" width="10.08" height="6.14" fill="#b63439" stroke="#a6a6a6" stroke-width="0.7"/>
<rect x="85.10" y="144.54" width="10.02" height="6.14" fill="#edf1f6" stroke="#a6a6a6" stroke-width="0.7"/>
<rect x="95.12" y="144.54" width="10.02" height="6.14" fill="#edf1f6" stroke="#a6a6a6" stroke-width="0.7"/>
<rect x="105.14" y="144.54" width="10.02" height="6.14" fill="#c2d8ed" stroke="#a6a6a6" stroke-width="0.7"/>
<rect x="115.16" y="144.54" width="10.02" height="6.14" fill="#edf1f6" stroke="#a6a6a6" stroke-width="0.7"/>
<rect x="125.18" y="144.54" width="10.02" height="6.14" fill="#e2ecf5" stroke="#a6a6a6" stroke-width="0.7"/>
<rect x="137.20" y="144.54" width="10.05" height="6.14" fill="#f8f0eb" stroke="#a6a6a6" stroke-width="0.7"/>
<rect x="147.25" y="144.54" width="10.05" height="6.14" fill="#e8eef6" stroke="#a6a6a6" stroke-width="0.7"/>
<rect x="157.30" y="144.54" width="10.05" height="6.14" fill="#c2d8ed" stroke="#a6a6a6" stroke-width="0.7"/>
<rect x="167.35" y="144.54" width="10.05" height="6.14" fill="#f7f7f7" stroke="#a6a6a6" stroke-width="0.7"/>
<rect x="177.40" y="144.54" width="10.05" height="6.14" fill="#d4e3f3" stroke="#a6a6a6" stroke-width="0.7"/>
<rect x="187.45" y="144.54" width="10.05" height="6.14" fill="#d4e3f3" stroke="#a6a6a6" stroke-width="0.7"/>
<rect x="197.50" y="144.54" width="10.05" height="6.14" fill="#d4e3f3" stroke="#a6a6a6" stroke-width="0.7"/>
<rect x="207.55" y="144.54" width="10.05" height="6.14" fill="#cfe0f1" stroke="#a6a6a6" stroke-width="0.7"/>
<rect x="217.60" y="144.54" width="10.05" height="6.14" fill="#f8ece5" stroke="#a6a6a6" stroke-width="0.7"/>
<rect x="227.65" y="144.54" width="10.05" height="6.14" fill="#e2ecf5" stroke="#a6a6a6" stroke-width="0.7"/>
<rect x="237.70" y="144.54" width="10.05" height="6.14" fill="#c6daee" stroke="#a6a6a6" stroke-width="0.7"/>
<rect x="247.75" y="144.54" width="10.05" height="6.14" fill="#c6daee" stroke="#a6a6a6" stroke-width="0.7"/>
<rect x="257.80" y="144.54" width="10.05" height="6.14" fill="#abc9e6" stroke="#a6a6a6" stroke-width="0.7"/>
<rect x="267.85" y="144.54" width="10.05" height="6.14" fill="#95b9de" stroke="#a6a6a6" stroke-width="0.7"/>
<rect x="277.90" y="144.54" width="10.05" height="6.14" fill="#c6daee" stroke="#a6a6a6" stroke-width="0.7"/>
<rect x="32.00" y="150.68" width="10.08" height="6.14" fill="#bc3d3c" stroke="#a6a6a6" stroke-width="0.7"/>
<rect x="42.08" y="150.68" width="10.08" height="6.14" fill="#b63439" stroke="#a6a6a6" stroke-width="0.7"/>
<rect x="52.16" y="150.68" width="10.08" height="6.14" fill="#aa2433" stroke="#a6a6a6" stroke-width="0.7"/>
<rect x="62.24" y="150.68" width="10.08" height="6.14" fill="#941a2c" stroke="#a6a6a6" stroke-width="0.7"/>
<rect x="72.32" y="150.68" width="10.08" height="6.14" fill="#e38f74" stroke="#a6a6a6" stroke-width="0.7"/>
<rect x="85.10" y="150.68" width="10.02" height="6.14" fill="#edf1f6" stroke="#a6a6a6" stroke-width="0.7"/>
<rect x="95.12" y="150.68" width="10.02" height="6.14" fill="#b4cfe9" stroke="#a6a6a6" stroke-width="0.7"/>
<rect x="105.14" y="150.68" width="10.02" height="6.14" fill="#f7f7f7" stroke="#a6a6a6" stroke-width="0.7"/>
<rect x="115.16" y="150.68" width="10.02" height="6.14" fill="#cfe0f1" stroke="#a6a6a6" stroke-width="0.7"/>
<rect x="125.18" y="150.68" width="10.02" height="6.14" fill="#f7f7f7" stroke="#a6a6a6" stroke-width="0.7"/>
<rect x="137.20" y="150.68" width="10.05" height="6.14" fill="#f8e8df" stroke="#a6a6a6" stroke-width="0.7"/>
<rect x="147.25" y="150.68" width="10.05" height="6.14" fill="#d8e6f4" stroke="#a6a6a6" stroke-width="0.7"/>
<rect x="157.30" y="150.68" width="10.05" height="6.14" fill="#d8e6f4" stroke="#a6a6a6" stroke-width="0.7"/>
<rect x="167.35" y="150.68" width="10.05" height="6.14" fill="#d8e6f4" stroke="#a6a6a6" stroke-width="0.7"/>
<rect x="177.40" y="150.68" width="10.05" height="6.14" fill="#f7f7f7" stroke="#a6a6a6" stroke-width="0.7"/>
<rect x="187.45" y="150.68" width="10.05" height="6.14" fill="#b4cfe9" stroke="#a6a6a6" stroke-width="0.7"/>
<rect x="197.50" y="150.68" width="10.05" height="6.14" fill="#b4cfe9" stroke="#a6a6a6" stroke-width="0.7"/>
<rect x="207.55" y="150.68" width="10.05" height="6.14" fill="#c2d8ed" stroke="#a6a6a6" stroke-width="0.7"/>
<rect x="217.60" y="150.68" width="10.05" height="6.14" fill="#f2f4f6" stroke="#a6a6a6" stroke-width="0.7"/>
<rect x="227.65" y="150.68" width="10.05" height="6.14" fill="#bdd5ec" stroke="#a6a6a6" stroke-width="0.7"/>
<rect x="237.70" y="150.68" width="10.05" height="6.14" fill="#f2f4f6" stroke="#a6a6a6" stroke-width="0.7"/>
<rect x="247.75" y="150.68" width="10.05" height="6.14" fill="#c2d8ed" stroke="#a6a6a6" stroke-width="0.7"/>
<rect x="257.80" y="150.68" width="10.05" height="6.14" fill="#e8eef6" stroke="#a6a6a6" stroke-width="0.7"/>
<rect x="267.85" y="150.68" width="10.05" height="6.14" fill="#c2d8ed" stroke="#a6a6a6" stroke-width="0.7"/>
<rect x="277.90" y="150.68" width="10.05" height="6.14" fill="#c2d8ed" stroke="#a6a6a6" stroke-width="0.7"/>
<rect x="32.00" y="156.82" width="10.08" height="6.14" fill="#de8066" stroke="#a6a6a6" stroke-width="0.7"/>
<rect x="42.08" y="156.82" width="10.08" height="6.14" fill="#f9e5d9" stroke="#a6a6a6" stroke-width="0.7"/>
<rect x="52.16" y="156.82" width="10.08" height="6.14" fill="#720b22" stroke="#a6a6a6" stroke-width="0.7"/>
<rect x="62.24" y="156.82" width="10.08" height="6.14" fill="#eeac8e" stroke="#a6a6a6" stroke-width="0.7"/>
<rect x="72.32" y="156.82" width="10.08" height="6.14" fill="#bc3d3c" stroke="#a6a6a6" stroke-width="0.7"/>
<rect x="85.10" y="156.82" width="10.02" height="6.14" fill="#d87259" stroke="#a6a6a6" stroke-width="0.7"/>
<rect x="95.12" y="156.82" width="10.02" height="6.14" fill="#f8ece5" stroke="#a6a6a6" stroke-width="0.7"/>
<rect x="105.14" y="156.82" width="10.02" height="6.14" fill="#f7f7f7" stroke="#a6a6a6" stroke-width="0.7"/>
<rect x="115.16" y="156.82" width="10.02" height="6.14" fill="#f7f3f1" stroke="#a6a6a6" stroke-width="0.7"/>
<rect x="125.18" y="156.82" width="10.02" height="6.14" fill="#f7f3f1" stroke="#a6a6a6" stroke-width="0.7"/>
<rect x="137.20" y="156.82" width="10.05" height="6.14" fill="#f8dccc" stroke="#a6a6a6" stroke-width="0.7"/>
<rect x="147.25" y="156.82" width="10.05" height="6.14" fill="#f8e8df" stroke="#a6a6a6" stroke-width="0.7"/>
<rect x="157.30" y="156.82" width="10.05" height="6.14" fill="#d8e6f4" stroke="#a6a6a6" stroke-width="0.7"/>
<rect x="167.35" y="156.82" width="10.05" height="6.14" fill="#d8e6f4" stroke="#a6a6a6" stroke-width="0.7"/>
<rect x="177.40" y="156.82" width="10.05" height="6.14" fill="#d8e6f4" stroke="#a6a6a6" stroke-width="0.7"/>
<rect x="187.45" y="156.82" width="10.05" height="6.14" fill="#c6daee" stroke="#a6a6a6" stroke-width="0.7"/>
<rect x="197.50" y="156.82" width="10.05" height="6.14" fill="#3f6cb4" stroke="#a6a6a6" stroke-width="0.7"/>
<rect x="207.55" y="156.82" width="10.05" height="6.14" fill="#abc9e6" stroke="#a6a6a6" stroke-width="0.7"/>
<rect x="217.60" y="156.82" width="10.05" height="6.14" fill="#d4e3f3" stroke="#a6a6a6" stroke-width="0.7"/>
<rect x="227.65" y="156.82" width="10.05" height="6.14" fill="#bdd5ec" stroke="#a6a6a6" stroke-width="0.7"/>
<rect x="237.70" y="156.82" width="10.05" height="6.14" fill="#dde9f4" stroke="#a6a6a6" stroke-width="0.7"/>
<rect x="247.75" y="156.82" width="10.05" height="6.14" fill="#e8eef6" stroke="#a6a6a6" stroke-width="0.7"/>
<rect x="257.80" y="156.82" width="10.05" height="6.14" fill="#a0c1e2" stroke="#a6a6a6" stroke-width="0.7"/>
<rect x="267.85" y="156.82" width="10.05" height="6.14" fill="#c6daee" stroke="#a6a6a6" stroke-width="0.7"/>
<rect x="277.90" y="156.82" width="10.05" height="6.14" fill="#d8e6f4" stroke="#a6a6a6" stroke-width="0.7"/>
<rect x="32.00" y="162.96" width="10.08" height="6.14" fill="#bc3d3c" stroke="#a6a6a6" stroke-width="0.7"/>
<rect x="42.08" y="162.96" width="10.08" height="6.14" fill="#720b22" stroke="#a6a6a6" stroke-width="0.7"/>
<rect x="52.16" y="162.96" width="10.08" height="6.14" fill="#b63439" stroke="#a6a6a6" stroke-width="0.7"/>
<rect x="62.24" y="162.96" width="10.08" height="6.14" fill="#de8066" stroke="#a6a6a6" stroke-width="0.7"/>
<rect x="72.32" y="162.96" width="10.08" height="6.14" fill="#c2453f" stroke="#a6a6a6" stroke-width="0.7"/>
<rect x="85.10" y="162.96" width="10.02" height="6.14" fill="#f7f3f1" stroke="#a6a6a6" stroke-width="0.7"/>
<rect x="95.12" y="162.96" width="10.02" height="6.14" fill="#f8f0eb" stroke="#a6a6a6" stroke-width="0.7"/>
<rect x="105.14" y="162.96" width="10.02" height="6.14" fill="#dde9f4" stroke="#a6a6a6" stroke-width="0.7"/>
<rect x="115.16" y="162.96" width="10.02" height="6.14" fill="#e2ecf5" stroke="#a6a6a6" stroke-width="0.7"/>
<rect x="125.18" y="162.96" width="10.02" height="6.14" fill="#e2ecf5" stroke="#a6a6a6" stroke-width="0.7"/>
<rect x="137.20" y="162.96" width="10.05" height="6.14" fill="#f7f7f7" stroke="#a6a6a6" stroke-width="0.7"/>
<rect x="147.25" y="162.96" width="10.05" height="6.14" fill="#f2f4f6" stroke="#a6a6a6" stroke-width="0.7"/>
<rect x="157.30" y="162.96" width="10.05" height="6.14" fill="#bdd5ec" stroke="#a6a6a6" stroke-width="0.7"/>
<rect x="167.35" y="162.96" width="10.05" height="6.14" fill="#c6daee" stroke="#a6a6a6" stroke-width="0.7"/>
<rect x="177.40" y="162.96" width="10.05" height="6.14" fill="#b0cce7" stroke="#a6a6a6" stroke-width="0.7"/>
<rect x="187.45" y="162.96" width="10.05" height="6.14" fill="#c6daee" stroke="#a6a6a6" stroke-width="0.7"/>
<rect x="197.50" y="162.96" width="10.05" height="6.14" fill="#edf1f6" stroke="#a6a6a6" stroke-width="0.7"/>
<rect x="207.55" y="162.96" width="10.05" height="6.14" fill="#d4e3f3" stroke="#a6a6a6" stroke-width="0.7"/>
<rect x="217.60" y="162.96" width="10.05" height="6.14" fill="#b4cfe9" stroke="#a6a6a6" stroke-width="0.7"/>
<rect x="227.65" y="162.96" width="10.05" height="6.14" fill="#c2d8ed" stroke="#a6a6a6" stroke-width="0.7"/>
<rect x="237.70" y="162.96" width="10.05" height="6.14" fill="#d4e3f3" stroke="#a6a6a6" stroke-width="0.7"/>
<rect x="247.75" y="162.96" width="10.05" height="6.14" fill="#c6daee" stroke="#a6a6a6" stroke-width="0.7"/>
<rect x="257.80" y="162.96" width="10.05" height="6.14" fill="#dde9f4" stroke="#a6a6a6" stroke-width="0.7"/>
<rect x="267.85" y="162.96" width="10.05" height="6.14" fill="#d8e6f4" stroke="#a6a6a6" stroke-width="0.7"/>
<rect x="277.90" y="162.96" width="10.05" height="6.14" fill="#d4e3f3" stroke="#a6a6a6" stroke-width="0.7"/>
<rect x="32.00" y="169.10" width="10.08" height="6.14" fill="#9f1f30" stroke="#a6a6a6" stroke-width="0.7"/>
<rect x="42.08" y="169.10" width="10.08" height="6.14" fill="#881529" stroke="#a6a6a6" stroke-width="0.7"/>
<rect x="52.16" y="169.10" width="10.08" height="6.14" fill="#de8066" stroke="#a6a6a6" stroke-width="0.7"/>
<rect x="62.24" y="169.10" width="10.08" height="6.14" fill="#c2453f" stroke="#a6a6a6" stroke-width="0.7"/>
<rect x="72.32" y="169.10" width="10.08" height="6.14" fill="#b02c36" stroke="#a6a6a6" stroke-width="0.7"/>
<rect x="85.10" y="169.10" width="10.02" height="6.14" fill="#e8eef6" stroke="#a6a6a6" stroke-width="0.7"/>
<rect x="95.12" y="169.10" width="10.02" height="6.14" fill="#cfe0f1" stroke="#a6a6a6" stroke-width="0.7"/>
<rect x="105.14" y="169.10" width="10.02" height="6.14" fill="#cfe0f1" stroke="#a6a6a6" stroke-width="0.7"/>
<rect x="115.16" y="169.10" width="10.02" height="6.14" fill="#d4e3f3" stroke="#a6a6a6" stroke-width="0.7"/>
<rect x="125.18" y="169.10" width="10.02" height="6.14" fill="#cfe0f1" stroke="#a6a6a6" stroke-width="0.7"/>
<rect x="137.20" y="169.10" width="10.05" height="6.14" fill="#cfe0f1" stroke="#a6a6a6" stroke-width="0.7"/>
<rect x="147.25" y="169.10" width="10.05" height="6.14" fill="#caddf0" stroke="#a6a6a6" stroke-width="0.7"/>
<rect x="157.30" y="169.10" width="10.05" height="6.14" fill="#caddf0" stroke="#a6a6a6" stroke-width="0.7"/>
<rect x="167.35" y="169.10" width="10.05" height="6.14" fill="#caddf0" stroke="#a6a6a6" stroke-width="0.7"/>
<rect x="177.40" y="169.10" width="10.05" height="6.14" fill="#caddf0" stroke="#a6a6a6" stroke-width="0.7"/>
<rect x="187.45" y="169.10" width="10.05" height="6.14" fill="#d4e3f3" stroke="#a6a6a6" stroke-width="0.7"/>
<rect x="197.50" y="169.10" width="10.05" height="6.14" fill="#d4e3f3" stroke="#a6a6a6" stroke-width="0.7"/>
<rect x="207.55" y="169.10" width="10.05" height="6.14" fill="#f8e8df" stroke="#a6a6a6" stroke-width="0.7"/>
<rect x="217.60" y="169.10" width="10.05" height="6.14" fill="#d4e3f3" stroke="#a6a6a6" stroke-width="0.7"/>
<rect x="227.65" y="169.10" width="10.05" height="6.14" fill="#d4e3f3" stroke="#a6a6a6" stroke-width="0.7"/>
<rect x="237.70" y="169.10" width="10.05" height="6.14" fill="#cfe0f1" stroke="#a6a6a6" stroke-width="0.7"/>
<rect x="247.75" y="169.10" width="10.05" height="6.14" fill="#d8e6f4" stroke="#a6a6a6" stroke-width="0.7"/>
<rect x="257.80" y="169.10" width="10.05" height="6.14" fill="#f8f0eb" stroke="#a6a6a6" stroke-width="0.7"/>
<rect x="267.85" y="169.10" width="10.05" height="6.14" fill="#d4e3f3" stroke="#a6a6a6" stroke-width="0.7"/>
<rect x="277.90" y="169.10" width="10.05" height="6.14" fill="#cfe0f1" stroke="#a6a6a6" stroke-width="0.7"/>
<rect x="32.00" y="175.24" width="10.08" height="6.14" fill="#bc3d3c" stroke="#a6a6a6" stroke-width="0.7"/>
<rect x="42.08" y="175.24" width="10.08" height="6.14" fill="#bc3d3c" stroke="#a6a6a6" stroke-width="0.7"/>
<rect x="52.16" y="175.24" width="10.08" height="6.14" fill="#bc3d3c" stroke="#a6a6a6" stroke-width="0.7"/>
<rect x="62.24" y="175.24" width="10.08" height="6.14" fill="#bc3d3c" stroke="#a6a6a6" stroke-width="0.7"/>
<rect x="72.32" y="175.24" width="10.08" height="6.14" fill="#b02c36" stroke="#a6a6a6" stroke-width="0.7"/>
<rect x="85.10" y="175.24" width="10.02" height="6.14" fill="#f7f7f7" stroke="#a6a6a6" stroke-width="0.7"/>
<rect x="95.12" y="175.24" width="10.02" height="6.14" fill="#f8ece5" stroke="#a6a6a6" stroke-width="0.7"/>
<rect x="105.14" y="175.24" width="10.02" height="6.14" fill="#f7f3f1" stroke="#a6a6a6" stroke-width="0.7"/>
<rect x="115.16" y="175.24" width="10.02" height="6.14" fill="#e8eef6" stroke="#a6a6a6" stroke-width="0.7"/>
<rect x="125.18" y="175.24" width="10.02" height="6.14" fill="#b4cfe9" stroke="#a6a6a6" stroke-width="0.7"/>
<rect x="137.20" y="175.24" width="10.05" height="6.14" fill="#cfe0f1" stroke="#a6a6a6" stroke-width="0.7"/>
<rect x="147.25" y="175.24" width="10.05" height="6.14" fill="#bdd5ec" stroke="#a6a6a6" stroke-width="0.7"/>
<rect x="157.30" y="175.24" width="10.05" height="6.14" fill="#e2ecf5" stroke="#a6a6a6" stroke-width="0.7"/>
<rect x="167.35" y="175.24" width="10.05" height="6.14" fill="#caddf0" stroke="#a6a6a6" stroke-width="0.7"/>
<rect x="177.40" y="175.24" width="10.05" height="6.14" fill="#bdd5ec" stroke="#a6a6a6" stroke-width="0.7"/>
<rect x="187.45" y="175.24" width="10.05" height="6.14" fill="#f8ece5" stroke="#a6a6a6" stroke-width="0.7"/>
<rect x="197.50" y="175.24" width="10.05" height="6.14" fill="#bdd5ec" stroke="#a6a6a6" stroke-width="0.7"/>
<rect x="207.55" y="175.24" width="10.05" height="6.14" fill="#d4e3f3" stroke="#a6a6a6" stroke-width="0.7"/>
<rect x="217.60" y="175.24" width="10.05" height="6.14" fill="#f7f7f7" stroke="#a6a6a6" stroke-width="0.7"/>
<rect x="227.65" y="175.24" width="10.05" height="6.14" fill="#89b0da" stroke="#a6a6a6" stroke-width="0.7"/>
<rect x="237.70" y="175.24" width="10.05" height="6.14" fill="#c2d8ed" stroke="#a6a6a6" stroke-width="0.7"/>
<rect x="247.75" y="175.24" width="10.05" height="6.14" fill="#e2ecf5" stroke="#a6a6a6" stroke-width="0.7"/>
<rect x="257.80" y="175.24" width="10.05" height="6.14" fill="#e8eef6" stroke="#a6a6a6" stroke-width="0.7"/>
<rect x="267.85" y="175.24" width="10.05" height="6.14" fill="#c6daee" stroke="#a6a6a6" stroke-width="0.7"/>
<rect x="277.90" y="175.24" width="10.05" height="6.14" fill="#c6daee" stroke="#a6a6a6" stroke-width="0.7"/>
<rect x="32.00" y="181.38" width="10.08" height="6.14" fill="#bc3d3c" stroke="#a6a6a6" stroke-width="0.7"/>
<rect x="42.08" y="181.38" width="10.08" height="6.14" fill="#aa2433" stroke="#a6a6a6" stroke-width="0.7"/>
<rect x="52.16" y="181.38" width="10.08" height="6.14" fill="#c2453f" stroke="#a6a6a6" stroke-width="0.7"/>
<rect x="62.24" y="181.38" width="10.08" height="6.14" fill="#d26752" stroke="#a6a6a6" stroke-width="0.7"/>
<rect x="72.32" y="181.38" width="10.08" height="6.14" fill="#b02c36" stroke="#a6a6a6" stroke-width="0.7"/>
<rect x="85.10" y="181.38" width="10.02" height="6.14" fill="#edf1f6" stroke="#a6a6a6" stroke-width="0.7"/>
<rect x="95.12" y="181.38" width="10.02" height="6.14" fill="#f7f7f7" stroke="#a6a6a6" stroke-width="0.7"/>
<rect x="105.14" y="181.38" width="10.02" height="6.14" fill="#bdd5ec" stroke="#a6a6a6" stroke-width="0.7"/>
<rect x="115.16" y="181.38" width="10.02" height="6.14" fill="#e8eef6" stroke="#a6a6a6" stroke-width="0.7"/>
<rect x="125.18" y="181.38" width="10.02" height="6.14" fill="#618ec8" stroke="#a6a6a6" stroke-width="0.7"/>
<rect x="137.20" y="181.38" width="10.05" height="6.14" fill="#f8dccc" stroke="#a6a6a6" stroke-width="0.7"/>
<rect x="147.25" y="181.38" width="10.05" height="6.14" fill="#bdd5ec" stroke="#a6a6a6" stroke-width="0.7"/>
<rect x="157.30" y="181.38" width="10.05" height="6.14" fill="#cfe0f1" stroke="#a6a6a6" stroke-width="0.7"/>
<rect x="167.35" y="181.38" width="10.05" height="6.14" fill="#e2ecf5" stroke="#a6a6a6" stroke-width="0.7"/>
<rect x="177.40" y="181.38" width="10.05" height="6.14" fill="#e2ecf5" stroke="#a6a6a6" stroke-width="0.7"/>
<rect x="187.45" y="181.38" width="10.05" height="6.14" fill="#cfe0f1" stroke="#a6a6a6" stroke-width="0.7"/>
<rect x="197.50" y="181.38" width="10.05" height="6.14" fill="#e8eef6" stroke="#a6a6a6" stroke-width="0.7"/>
<rect x="207.55" y="181.38" width="10.05" height="6.14" fill="#abc9e6" stroke="#a6a6a6" stroke-width="0.7"/>
<rect x="217.60" y="181.38" width="10.05" height="6.14" fill="#d8e6f4" stroke="#a6a6a6" stroke-width="0.7"/>
<rect x="227.65" y="181.38" width="10.05" height="6.14" fill="#f2f4f6" stroke="#a6a6a6" stroke-width="0.7"/>
<rect x="237.70" y="181.38" width="10.05" height="6.14" fill="#d8e6f4" stroke="#a6a6a6" stroke-width="0.7"/>
<rect x="247.75" y="181.38" width="10.05" height="6.14" fill="#a0c1e2" stroke="#a6a6a6" stroke-width="0.7"/>
<rect x="257.80" y="181.38" width="10.05" height="6.14" fill="#f9e1d3" stroke="#a6a6a6" stroke-width="0.7"/>
<rect x="267.85" y="181.38" width="10.05" height="6.14" fill="#d4e3f3" stroke="#a6a6a6" stroke-width="0.7"/>
<rect x="277.90" y="181.38" width="10.05" height="6.14" fill="#e2ecf5" stroke="#a6a6a6" stroke-width="0.7"/>
<rect x="32.00" y="187.52" width="10.08" height="6.14" fill="#cd5c4c" stroke="#a6a6a6" stroke-width="0.7"/>
<rect x="42.08" y="187.52" width="10.08" height="6.14" fill="#cd5c4c" stroke="#a6a6a6" stroke-width="0.7"/>
<rect x="52.16" y="187.52" width="10.08" height="6.14" fill="#bc3d3c" stroke="#a6a6a6" stroke-width="0.7"/>
<rect x="62.24" y="187.52" width="10.08" height="6.14" fill="#d26752" stroke="#a6a6a6" stroke-width="0.7"/>
<rect x="72.32" y="187.52" width="10.08" height="6.14" fill="#b02c36" stroke="#a6a6a6" stroke-width="0.7"/>
<rect x="85.10" y="187.52" width="10.02" height="6.14" fill="#f2f4f6" stroke="#a6a6a6" stroke-width="0.7"/>
<rect x="95.12" y="187.52" width="10.02" height="6.14" fill="#e2ecf5" stroke="#a6a6a6" stroke-width="0.7"/>
<rect x="105.14" y="187.52" width="10.02" height="6.14" fill="#f6d1be" stroke="#a6a6a6" stroke-width="0.7"/>
<rect x="115.16" y="187.52" width="10.02" height="6.14" fill="#f7f7f7" stroke="#a6a6a6" stroke-width="0.7"/>
<rect x="125.18" y="187.52" width="10.02" height="6.14" fill="#d8e6f4" stroke="#a6a6a6" stroke-width="0.7"/>
<rect x="137.20" y="187.52" width="10.05" height="6.14" fill="#bdd5ec" stroke="#a6a6a6" stroke-width="0.7"/>
<rect x="147.25" y="187.52" width="10.05" height="6.14" fill="#89b0da" stroke="#a6a6a6" stroke-width="0.7"/>
<rect x="157.30" y="187.52" width="10.05" height="6.14" fill="#f2f4f6" stroke="#a6a6a6" stroke-width="0.7"/>
<rect x="167.35" y="187.52" width="10.05" height="6.14" fill="#7ea8d6" stroke="#a6a6a6" stroke-width="0.7"/>
<rect x="177.40" y="187.52" width="10.05" height="6.14" fill="#d8e6f4" stroke="#a6a6a6" stroke-width="0.7"/>
<rect x="187.45" y="187.52" width="10.05" height="6.14" fill="#c6daee" stroke="#a6a6a6" stroke-width="0.7"/>
<rect x="197.50" y="187.52" width="10.05" height="6.14" fill="#f8e8df" stroke="#a6a6a6" stroke-width="0.7"/>
<rect x="207.55" y="187.52" width="10.05" height="6.14" fill="#b4cfe9" stroke="#a6a6a6" stroke-width="0.7"/>
<rect x="217.60" y="187.52" width="10.05" height="6.14" fill="#73a0d2" stroke="#a6a6a6" stroke-width="0.7"/>
<rect x="227.65" y="187.52" width="10.05" height="6.14" fill="#f2f4f6" stroke="#a6a6a6" stroke-width="0.7"/>
<rect x="237.70" y="187.52" width="10.05" height="6.14" fill="#e2ecf5" stroke="#a6a6a6" stroke-width="0.7"/>
<rect x="247.75" y="187.52" width="10.05" height="6.14" fill="#e8eef6" stroke="#a6a6a6" stroke-width="0.7"/>
<rect x="257.80" y="187.52" width="10.05" height="6.14" fill="#e2ecf5" stroke="#a6a6a6" stroke-width="0.7"/>
<rect x="267.85" y="187.52" width="10.05" height="6.14" fill="#d4e3f3" stroke="#a6a6a6" stroke-width="0.7"/>
<rect x="277.90" y="187.52" width="10.05" height="6.14" fill="#f9e1d3" stroke="#a6a6a6" stroke-width="0.7"/>
<rect x="32.00" y="193.66" width="10.08" height="6.14" fill="#b63439" stroke="#a6a6a6" stroke-width="0.7"/>
<rect x="42.08" y="193.66" width="10.08" height="6.14" fill="#b63439" stroke="#a6a6a6" stroke-width="0.7"/>
<rect x="52.16" y="193.66" width="10.08" height="6.14" fill="#c85046" stroke="#a6a6a6" stroke-width="0.7"/>
<rect x="62.24" y="193.66" width="10.08" height="6.14" fill="#bc3d3c" stroke="#a6a6a6" stroke-width="0.7"/>
<rect x="72.32" y="193.66" width="10.08" height="6.14" fill="#de8066" stroke="#a6a6a6" stroke-width="0.7"/>
<rect x="85.10" y="193.66" width="10.02" height="6.14" fill="#bdd5ec" stroke="#a6a6a6" stroke-width="0.7"/>
<rect x="95.12" y="193.66" width="10.02" height="6.14" fill="#73a0d2" stroke="#a6a6a6" stroke-width="0.7"/>
<rect x="105.14" y="193.66" width="10.02" height="6.14" fill="#abc9e6" stroke="#a6a6a6" stroke-width="0.7"/>
<rect x="115.16" y="193.66" width="10.02" height="6.14" fill="#cfe0f1" stroke="#a6a6a6" stroke-width="0.7"/>
<rect x="125.18" y="193.66" width="10.02" height="6.14" fill="#cfe0f1" stroke="#a6a6a6" stroke-width="0.7"/>
<rect x="137.20" y="193.66" width="10.05" height="6.14" fill="#edf1f6" stroke="#a6a6a6" stroke-width="0.7"/>
<rect x="147.25" y="193.66" width="10.05" height="6.14" fill="#cfe0f1" stroke="#a6a6a6" stroke-width="0.7"/>
<rect x="157.30" y="193.66" width="10.05" height="6.14" fill="#f7f7f7" stroke="#a6a6a6" stroke-width="0.7"/>
<rect x="167.35" y="193.66" width="10.05" height="6.14" fill="#f7f3f1" stroke="#a6a6a6" stroke-width="0.7"/>
<rect x="177.40" y="193.66" width="10.05" height="6.14" fill="#f7f3f1" stroke="#a6a6a6" stroke-width="0.7"/>
<rect x="187.45" y="193.66" width="10.05" height="6.14" fill="#f7d6c5" stroke="#a6a6a6" stroke-width="0.7"/>
<rect x="197.50" y="193.66" width="10.05" height="6.14" fill="#f7f7f7" stroke="#a6a6a6" stroke-width="0.7"/>
<rect x="207.55" y="193.66" width="10.05" height="6.14" fill="#e2ecf5" stroke="#a6a6a6" stroke-width="0.7"/>
<rect x="217.60" y="193.66" width="10.05" height="6.14" fill="#f7f3f1" stroke="#a6a6a6" stroke-width="0.7"/>
<rect x="227.65" y="193.66" width="10.05" height="6.14" fill="#caddf0" stroke="#a6a6a6" stroke-width="0.7"/>
<rect x="237.70" y="193.66" width="10.05" height="6.14" fill="#bdd5ec" stroke="#a6a6a6" stroke-width="0.7"/>
<rect x="247.75" y="193.66" width="10.05" height="6.14" fill="#d8e6f4" stroke="#a6a6a6" stroke-width="0.7"/>
<rect x="257.80" y="193.66" width="10.05" height="6.14" fill="#d8e6f4" stroke="#a6a6a6" stroke-width="0.7"/>
<rect x="267.85" y="193.66" width="10.05" height="6.14" fill="#abc9e6" stroke="#a6a6a6" stroke-width="0.7"/>
<rect x="277.90" y="193.66" width="10.05" height="6.14" fill="#cfe0f1" stroke="#a6a6a6" stroke-width="0.7"/>
<rect x="32.00" y="199.80" width="10.08" height="6.14" fill="#aa2433" stroke="#a6a6a6" stroke-width="0.7"/>
<rect x="42.08" y="199.80" width="10.08" height="6.14" fill="#b02c36" stroke="#a6a6a6" stroke-width="0.7"/>
<rect x="52.16" y="199.80" width="10.08" height="6.14" fill="#d87259" stroke="#a6a6a6" stroke-width="0.7"/>
<rect x="62.24" y="199.80" width="10.08" height="6.14" fill="#bc3d3c" stroke="#a6a6a6" stroke-width="0.7"/>
<rect x="72.32" y="199.80" width="10.08" height="6.14" fill="#de8066" stroke="#a6a6a6" stroke-width="0.7"/>
<rect x="85.10" y="199.80" width="10.02" height="6.14" fill="#edf1f6" stroke="#a6a6a6" stroke-width="0.7"/>
<rect x="95.12" y="199.80" width="10.02" height="6.14" fill="#bdd5ec" stroke="#a6a6a6" stroke-width="0.7"/>
<rect x="105.14" y="199.80" width="10.02" height="6.14" fill="#a0c1e2" stroke="#a6a6a6" stroke-width="0.7"/>
<rect x="115.16" y="199.80" width="10.02" height="6.14" fill="#e2ecf5" stroke="#a6a6a6" stroke-width="0.7"/>
<rect x="125.18" y="199.80" width="10.02" height="6.14" fill="#a0c1e2" stroke="#a6a6a6" stroke-width="0.7"/>
<rect x="137.20" y="199.80" width="10.05" height="6.14" fill="#f2f4f6" stroke="#a6a6a6" stroke-width="0.7"/>
<rect x="147.25" y="199.80" width="10.05" height="6.14" fill="#e2ecf5" stroke="#a6a6a6" stroke-width="0.7"/>
<rect x="157.30" y="199.80" width="10.05" height="6.14" fill="#f2f4f6" stroke="#a6a6a6" stroke-width="0.7"/>
<rect x="167.35" y="199.80" width="10.05" height="6.14" fill="#f8ece5" stroke="#a6a6a6" stroke-width="0.7"/>
<rect x="177.40" y="199.80" width="10.05" height="6.14" fill="#edf1f6" stroke="#a6a6a6" stroke-width="0.7"/>
<rect x="187.45" y="199.80" width="10.05" height="6.14" fill="#f5ccb7" stroke="#a6a6a6" stroke-width="0.7"/>
<rect x="197.50" y="199.80" width="10.05" height="6.14" fill="#f7f3f1" stroke="#a6a6a6" stroke-width="0.7"/>
<rect x="207.55" y="199.80" width="10.05" height="6.14" fill="#e2ecf5" stroke="#a6a6a6" stroke-width="0.7"/>
<rect x="217.60" y="199.80" width="10.05" height="6.14" fill="#f7f3f1" stroke="#a6a6a6" stroke-width="0.7"/>
<rect x="227.65" y="199.80" width="10.05" height="6.14" fill="#f2f4f6" stroke="#a6a6a6" stroke-width="0.7"/>
<rect x="237.70" y="199.80" width="10.05" height="6.14" fill="#abc9e6" stroke="#a6a6a6" stroke-width="0.7"/>
<rect x="247.75" y="199.80" width="10.05" height="6.14" fill="#89b0da" stroke="#a6a6a6" stroke-width="0.7"/>
<rect x="257.80" y="199.80" width="10.05" height="6.14" fill="#cfe0f1" stroke="#a6a6a6" stroke-width="0.7"/>
<rect x="267.85" y="199.80" width="10.05" height="6.14" fill="#abc9e6" stroke="#a6a6a6" stroke-width="0.7"/>
<rect x="277.90" y="199.80" width="10.05" height="6.14" fill="#c6daee" stroke="#a6a6a6" stroke-width="0.7"/>
<rect x="32.00" y="205.94" width="10.08" height="6.14" fill="#d26752" stroke="#a6a6a6" stroke-width="0.7"/>
<rect x="42.08" y="205.94" width="10.08" height="6.14" fill="#d26752" stroke="#a6a6a6" stroke-width="0.7"/>
<rect x="52.16" y="205.94" width="10.08" height="6.14" fill="#720b22" stroke="#a6a6a6" stroke-width="0.7"/>
<rect x="62.24" y="205.94" width="10.08" height="6.14" fill="#c2453f" stroke="#a6a6a6" stroke-width="0.7"/>
<rect x="72.32" y="205.94" width="10.08" height="6.14" fill="#e89e81" stroke="#a6a6a6" stroke-width="0.7"/>
<rect x="85.10" y="205.94" width="10.02" height="6.14" fill="#e8eef6" stroke="#a6a6a6" stroke-width="0.7"/>
<rect x="95.12" y="205.94" width="10.02" height="6.14" fill="#a0c1e2" stroke="#a6a6a6" stroke-width="0.7"/>
<rect x="105.14" y="205.94" width="10.02" height="6.14" fill="#bdd5ec" stroke="#a6a6a6" stroke-width="0.7"/>
<rect x="115.16" y="205.94" width="10.02" height="6.14" fill="#e2ecf5" stroke="#a6a6a6" stroke-width="0.7"/>
<rect x="125.18" y="205.94" width="10.02" height="6.14" fill="#b4cfe9" stroke="#a6a6a6" stroke-width="0.7"/>
<rect x="137.20" y="205.94" width="10.05" height="6.14" fill="#f8f0eb" stroke="#a6a6a6" stroke-width="0.7"/>
<rect x="147.25" y="205.94" width="10.05" height="6.14" fill="#f8ece5" stroke="#a6a6a6" stroke-width="0.7"/>
<rect x="157.30" y="205.94" width="10.05" height="6.14" fill="#f7f3f1" stroke="#a6a6a6" stroke-width="0.7"/>
<rect x="167.35" y="205.94" width="10.05" height="6.14" fill="#f8f0eb" stroke="#a6a6a6" stroke-width="0.7"/>
<rect x="177.40" y="205.94" width="10.05" height="6.14" fill="#edf1f6" stroke="#a6a6a6" stroke-width="0.7"/>
<rect x="187.45" y="205.94" width="10.05" height="6.14" fill="#f8e8df" stroke="#a6a6a6" stroke-width="0.7"/>
<rect x="197.50" y="205.94" width="10.05" height="6.14" fill="#cfe0f1" stroke="#a6a6a6" stroke-width="0.7"/>
<rect x="207.55" y="205.94" width="10.05" height="6.14" fill="#dde9f4" stroke="#a6a6a6" stroke-width="0.7"/>
<rect x="217.60" y="205.94" width="10.05" height="6.14" fill="#f7f3f1" stroke="#a6a6a6" stroke-width="0.7"/>
<rect x="227.65" y="205.94" width="10.05" height="6.14" fill="#d4e3f3" stroke="#a6a6a6" stroke-width="0.7"/>
<rect x="237.70" y="205.94" width="10.05" height="6.14" fill="#cfe0f1" stroke="#a6a6a6" stroke-width="0.7"/>
<rect x="247.75" y="205.94" width="10.05" height="6.14" fill="#c6daee" stroke="#a6a6a6" stroke-width="0.7"/>
<rect x="257.80" y="205.94" width="10.05" height="6.14" fill="#e2ecf5" stroke="#a6a6a6" stroke-width="0.7"/>
<rect x="267.85" y="205.94" width="10.05" height="6.14" fill="#abc9e6" stroke="#a6a6a6" stroke-width="0.7"/>
<rect x="277.90" y="205.94" width="10.05" height="6.14" fill="#73a0d2" stroke="#a6a6a6" stroke-width="0.7"/>
<rect x="32.00" y="212.08" width="10.08" height="6.14" fill="#9f1f30" stroke="#a6a6a6" stroke-width="0.7"/>
<rect x="42.08" y="212.08" width="10.08" height="6.14" fill="#b63439" stroke="#a6a6a6" stroke-width="0.7"/>
<rect x="52.16" y="212.08" width="10.08" height="6.14" fill="#d87259" stroke="#a6a6a6" stroke-width="0.7"/>
<rect x="62.24" y="212.08" width="10.08" height="6.14" fill="#cd5c4c" stroke="#a6a6a6" stroke-width="0.7"/>
<rect x="72.32" y="212.08" width="10.08" height="6.14" fill="#e38f74" stroke="#a6a6a6" stroke-width="0.7"/>
<rect x="85.10" y="212.08" width="10.02" height="6.14" fill="#c6daee" stroke="#a6a6a6" stroke-width="0.7"/>
<rect x="95.12" y="212.08" width="10.02" height="6.14" fill="#dde9f4" stroke="#a6a6a6" stroke-width="0.7"/>
<rect x="105.14" y="212.08" width="10.02" height="6.14" fill="#e2ecf5" stroke="#a6a6a6" stroke-width="0.7"/>
<rect x="115.16" y="212.08" width="10.02" height="6.14" fill="#c6daee" stroke="#a6a6a6" stroke-width="0.7"/>
<rect x="125.18" y="212.08" width="10.02" height="6.14" fill="#cfe0f1" stroke="#a6a6a6" stroke-width="0.7"/>
<rect x="137.20" y="212.08" width="10.05" height="6.14" fill="#f7f7f7" stroke="#a6a6a6" stroke-width="0.7"/>
<rect x="147.25" y="212.08" width="10.05" height="6.14" fill="#f7f7f7" stroke="#a6a6a6" stroke-width="0.7"/>
<rect x="157.30" y="212.08" width="10.05" height="6.14" fill="#d4e3f3" stroke="#a6a6a6" stroke-width="0.7"/>
<rect x="167.35" y="212.08" width="10.05" height="6.14" fill="#f7f3f1" stroke="#a6a6a6" stroke-width="0.7"/>
<rect x="177.40" y="212.08" width="10.05" height="6.14" fill="#dde9f4" stroke="#a6a6a6" stroke-width="0.7"/>
<rect x="187.45" y="212.08" width="10.05" height="6.14" fill="#f4c6b0" stroke="#a6a6a6" stroke-width="0.7"/>
<rect x="197.50" y="212.08" width="10.05" height="6.14" fill="#f7f7f7" stroke="#a6a6a6" stroke-width="0.7"/>
<rect x="207.55" y="212.08" width="10.05" height="6.14" fill="#f7f7f7" stroke="#a6a6a6" stroke-width="0.7"/>
<rect x="217.60" y="212.08" width="10.05" height="6.14" fill="#f8ece5" stroke="#a6a6a6" stroke-width="0.7"/>
<rect x="227.65" y="212.08" width="10.05" height="6.14" fill="#e2ecf5" stroke="#a6a6a6" stroke-width="0.7"/>
<rect x="237.70" y="212.08" width="10.05" height="6.14" fill="#4e7cbe" stroke="#a6a6a6" stroke-width="0.7"/>
<rect x="247.75" y="212.08" width="10.05" height="6.14" fill="#cfe0f1" stroke="#a6a6a6" stroke-width="0.7"/>
<rect x="257.80" y="212.08" width="10.05" height="6.14" fill="#f7f7f7" stroke="#a6a6a6" stroke-width="0.7"/>
<rect x="267.85" y="212.08" width="10.05" height="6.14" fill="#c6daee" stroke="#a6a6a6" stroke-width="0.7"/>
<rect x="277.90" y="212.08" width="10.05" height="6.14" fill="#5785c3" stroke="#a6a6a6" stroke-width="0.7"/>
<rect x="32.00" y="218.22" width="10.08" height="6.14" fill="#aa2433" stroke="#a6a6a6" stroke-width="0.7"/>
<rect x="42.08" y="218.22" width="10.08" height="6.14" fill="#b63439" stroke="#a6a6a6" stroke-width="0.7"/>
<rect x="52.16" y="218.22" width="10.08" height="6.14" fill="#c2453f" stroke="#a6a6a6" stroke-width="0.7"/>
<rect x="62.24" y="218.22" width="10.08" height="6.14" fill="#c85046" stroke="#a6a6a6" stroke-width="0.7"/>
<rect x="72.32" y="218.22" width="10.08" height="6.14" fill="#bc3d3c" stroke="#a6a6a6" stroke-width="0.7"/>
<rect x="85.10" y="218.22" width="10.02" height="6.14" fill="#c6daee" stroke="#a6a6a6" stroke-width="0.7"/>
<rect x="95.12" y="218.22" width="10.02" height="6.14" fill="#d4e3f3" stroke="#a6a6a6" stroke-width="0.7"/>
<rect x="105.14" y="218.22" width="10.02" height="6.14" fill="#d8e6f4" stroke="#a6a6a6" stroke-width="0.7"/>
<rect x="115.16" y="218.22" width="10.02" height="6.14" fill="#abc9e6" stroke="#a6a6a6" stroke-width="0.7"/>
<rect x="125.18" y="218.22" width="10.02" height="6.14" fill="#b4cfe9" stroke="#a6a6a6" stroke-width="0.7"/>
<rect x="137.20" y="218.22" width="10.05" height="6.14" fill="#c6daee" stroke="#a6a6a6" stroke-width="0.7"/>
<rect x="147.25" y="218.22" width="10.05" height="6.14" fill="#d8e6f4" stroke="#a6a6a6" stroke-width="0.7"/>
<rect x="157.30" y="218.22" width="10.05" height="6.14" fill="#f8f0eb" stroke="#a6a6a6" stroke-width="0.7"/>
<rect x="167.35" y="218.22" width="10.05" height="6.14" fill="#f7f7f7" stroke="#a6a6a6" stroke-width="0.7"/>
<rect x="177.40" y="218.22" width="10.05" height="6.14" fill="#e2ecf5" stroke="#a6a6a6" stroke-width="0.7"/>
<rect x="187.45" y="218.22" width="10.05" height="6.14" fill="#f8ece5" stroke="#a6a6a6" stroke-width="0.7"/>
<rect x="197.50" y="218.22" width="10.05" height="6.14" fill="#f7f7f7" stroke="#a6a6a6" stroke-width="0.7"/>
<rect x="207.55" y="218.22" width="10.05" height="6.14" fill="#d8e6f4" stroke="#a6a6a6" stroke-width="0.7"/>
<rect x="217.60" y="218.22" width="10.05" height="6.14" fill="#f7f7f7" stroke="#a6a6a6" stroke-width="0.7"/>
<rect x="227.65" y="218.22" width="10.05" height="6.14" fill="#b4cfe9" stroke="#a6a6a6" stroke-width="0.7"/>
<rect x="237.70" y="218.22" width="10.05" height="6.14" fill="#abc9e6" stroke="#a6a6a6" stroke-width="0.7"/>
<rect x="247.75" y="218.22" width="10.05" height="6.14" fill="#e2ecf5" stroke="#a6a6a6" stroke-width="0.7"/>
<rect x="257.80" y="218.22" width="10.05" height="6.14" fill="#e2ecf5" stroke="#a6a6a6" stroke-width="0.7"/>
<rect x="267.85" y="218.22" width="10.05" height="6.14" fill="#f2f4f6" stroke="#a6a6a6" stroke-width="0.7"/>
<rect x="277.90" y="218.22" width="10.05" height="6.14" fill="#d4e3f3" stroke="#a6a6a6" stroke-width="0.7"/>
<rect x="32.00" y="224.36" width="10.08" height="6.14" fill="#bc3d3c" stroke="#a6a6a6" stroke-width="0.7"/>
<rect x="42.08" y="224.36" width="10.08" height="6.14" fill="#bc3d3c" stroke="#a6a6a6" stroke-width="0.7"/>
<rect x="52.16" y="224.36" width="10.08" height="6.14" fill="#aa2433" stroke="#a6a6a6" stroke-width="0.7"/>
<rect x="62.24" y="224.36" width="10.08" height="6.14" fill="#c85046" stroke="#a6a6a6" stroke-width="0.7"/>
<rect x="72.32" y="224.36" width="10.08" height="6.14" fill="#b63439" stroke="#a6a6a6" stroke-width="0.7"/>
<rect x="85.10" y="224.36" width="10.02" height="6.14" fill="#c6daee" stroke="#a6a6a6" stroke-width="0.7"/>
<rect x="95.12" y="224.36" width="10.02" height="6.14" fill="#abc9e6" stroke="#a6a6a6" stroke-width="0.7"/>
<rect x="105.14" y="224.36" width="10.02" height="6.14" fill="#b4cfe9" stroke="#a6a6a6" stroke-width="0.7"/>
<rect x="115.16" y="224.36" width="10.02" height="6.14" fill="#bdd5ec" stroke="#a6a6a6" stroke-width="0.7"/>
<rect x="125.18" y="224.36" width="10.02" height="6.14" fill="#a0c1e2" stroke="#a6a6a6" stroke-width="0.7"/>
<rect x="137.20" y="224.36" width="10.05" height="6.14" fill="#e2ecf5" stroke="#a6a6a6" stroke-width="0.7"/>
<rect x="147.25" y="224.36" width="10.05" height="6.14" fill="#bdd5ec" stroke="#a6a6a6" stroke-width="0.7"/>
<rect x="157.30" y="224.36" width="10.05" height="6.14" fill="#f7f7f7" stroke="#a6a6a6" stroke-width="0.7"/>
<rect x="167.35" y="224.36" width="10.05" height="6.14" fill="#f7f3f1" stroke="#a6a6a6" stroke-width="0.7"/>
<rect x="177.40" y="224.36" width="10.05" height="6.14" fill="#f2f4f6" stroke="#a6a6a6" stroke-width="0.7"/>
<rect x="187.45" y="224.36" width="10.05" height="6.14" fill="#edf1f6" stroke="#a6a6a6" stroke-width="0.7"/>
<rect x="197.50" y="224.36" width="10.05" height="6.14" fill="#f7f7f7" stroke="#a6a6a6" stroke-width="0.7"/>
<rect x="207.55" y="224.36" width="10.05" height="6.14" fill="#dde9f4" stroke="#a6a6a6" stroke-width="0.7"/>
<rect x="217.60" y="224.36" width="10.05" height="6.14" fill="#f8ece5" stroke="#a6a6a6" stroke-width="0.7"/>
<rect x="227.65" y="224.36" width="10.05" height="6.14" fill="#cfe0f1" stroke="#a6a6a6" stroke-width="0.7"/>
<rect x="237.70" y="224.36" width="10.05" height="6.14" fill="#c6daee" stroke="#a6a6a6" stroke-width="0.7"/>
<rect x="247.75" y="224.36" width="10.05" height="6.14" fill="#c6daee" stroke="#a6a6a6" stroke-width="0.7"/>
<rect x="257.80" y="224.36" width="10.05" height="6.14" fill="#c6daee" stroke="#a6a6a6" stroke-width="0.7"/>
<rect x="267.85" y="224.36" width="10.05" height="6.14" fill="#edf1f6" stroke="#a6a6a6" stroke-width="0.7"/>
<rect x="277.90" y="224.36" width="10.05" height="6.14" fill="#e8eef6" stroke="#a6a6a6" stroke-width="0.7"/>
<rect x="32.00" y="230.50" width="10.08" height="6.14" fill="#f0b79c" stroke="#a6a6a6" stroke-width="0.7"/>
<rect x="42.08" y="230.50" width="10.08" height="6.14" fill="#941a2c" stroke="#a6a6a6" stroke-width="0.7"/>
<rect x="52.16" y="230.50" width="10.08" height="6.14" fill="#cd5c4c" stroke="#a6a6a6" stroke-width="0.7"/>
<rect x="62.24" y="230.50" width="10.08" height="6.14" fill="#eeac8e" stroke="#a6a6a6" stroke-width="0.7"/>
<rect x="72.32" y="230.50" width="10.08" height="6.14" fill="#cd5c4c" stroke="#a6a6a6" stroke-width="0.7"/>
<rect x="85.10" y="230.50" width="10.02" height="6.14" fill="#4e7cbe" stroke="#a6a6a6" stroke-width="0.7"/>
<rect x="95.12" y="230.50" width="10.02" height="6.14" fill="#f8ece5" stroke="#a6a6a6" stroke-width="0.7"/>
<rect x="105.14" y="230.50" width="10.02" height="6.14" fill="#cfe0f1" stroke="#a6a6a6" stroke-width="0.7"/>
<rect x="115.16" y="230.50" width="10.02" height="6.14" fill="#f9e5d9" stroke="#a6a6a6" stroke-width="0.7"/>
<rect x="125.18" y="230.50" width="10.02" height="6.14" fill="#cfe0f1" stroke="#a6a6a6" stroke-width="0.7"/>
<rect x="137.20" y="230.50" width="10.05" height="6.14" fill="#95b9de" stroke="#a6a6a6" stroke-width="0.7"/>
<rect x="147.25" y="230.50" width="10.05" height="6.14" fill="#6a97cd" stroke="#a6a6a6" stroke-width="0.7"/>
<rect x="157.30" y="230.50" width="10.05" height="6.14" fill="#d8e6f4" stroke="#a6a6a6" stroke-width="0.7"/>
<rect x="167.35" y="230.50" width="10.05" height="6.14" fill="#618ec8" stroke="#a6a6a6" stroke-width="0.7"/>
<rect x="177.40" y="230.50" width="10.05" height="6.14" fill="#bdd5ec" stroke="#a6a6a6" stroke-width="0.7"/>
<rect x="187.45" y="230.50" width="10.05" height="6.14" fill="#f8ece5" stroke="#a6a6a6" stroke-width="0.7"/>
<rect x="197.50" y="230.50" width="10.05" height="6.14" fill="#f8f0eb" stroke="#a6a6a6" stroke-width="0.7"/>
<rect x="207.55" y="230.50" width="10.05" height="6.14" fill="#f7f7f7" stroke="#a6a6a6" stroke-width="0.7"/>
<rect x="217.60" y="230.50" width="10.05" height="6.14" fill="#f7f7f7" stroke="#a6a6a6" stroke-width="0.7"/>
<rect x="227.65" y="230.50" width="10.05" height="6.14" fill="#f7f3f1" stroke="#a6a6a6" stroke-width="0.7"/>
<rect x="237.70" y="230.50" width="10.05" height="6.14" fill="#edf1f6" stroke="#a6a6a6" stroke-width="0.7"/>
<rect x="247.75" y="230.50" width="10.05" height="6.14" fill="#f8e8df" stroke="#a6a6a6" stroke-width="0.7"/>
<rect x="257.80" y="230.50" width="10.05" height="6.14" fill="#f9e1d3" stroke="#a6a6a6" stroke-width="0.7"/>
<rect x="267.85" y="230.50" width="10.05" height="6.14" fill="#edf1f6" stroke="#a6a6a6" stroke-width="0.7"/>
<rect x="277.90" y="230.50" width="10.05" height="6.14" fill="#e8eef6" stroke="#a6a6a6" stroke-width="0.7"/>
<rect x="32.00" y="236.64" width="10.08" height="6.14" fill="#d87259" stroke="#a6a6a6" stroke-width="0.7"/>
<rect x="42.08" y="236.64" width="10.08" height="6.14" fill="#720b22" stroke="#a6a6a6" stroke-width="0.7"/>
<rect x="52.16" y="236.64" width="10.08" height="6.14" fill="#f7d6c5" stroke="#a6a6a6" stroke-width="0.7"/>
<rect x="62.24" y="236.64" width="10.08" height="6.14" fill="#f0b79c" stroke="#a6a6a6" stroke-width="0.7"/>
<rect x="72.32" y="236.64" width="10.08" height="6.14" fill="#f5ccb7" stroke="#a6a6a6" stroke-width="0.7"/>
<rect x="85.10" y="236.64" width="10.02" height="6.14" fill="#abc9e6" stroke="#a6a6a6" stroke-width="0.7"/>
<rect x="95.12" y="236.64" width="10.02" height="6.14" fill="#f8f0eb" stroke="#a6a6a6" stroke-width="0.7"/>
<rect x="105.14" y="236.64" width="10.02" height="6.14" fill="#abc9e6" stroke="#a6a6a6" stroke-width="0.7"/>
<rect x="115.16" y="236.64" width="10.02" height="6.14" fill="#f9e1d3" stroke="#a6a6a6" stroke-width="0.7"/>
<rect x="125.18" y="236.64" width="10.02" height="6.14" fill="#f2c1aa" stroke="#a6a6a6" stroke-width="0.7"/>
<rect x="137.20" y="236.64" width="10.05" height="6.14" fill="#e2ecf5" stroke="#a6a6a6" stroke-width="0.7"/>
<rect x="147.25" y="236.64" width="10.05" height="6.14" fill="#95b9de" stroke="#a6a6a6" stroke-width="0.7"/>
<rect x="157.30" y="236.64" width="10.05" height="6.14" fill="#7ea8d6" stroke="#a6a6a6" stroke-width="0.7"/>
<rect x="167.35" y="236.64" width="10.05" height="6.14" fill="#95b9de" stroke="#a6a6a6" stroke-width="0.7"/>
<rect x="177.40" y="236.64" width="10.05" height="6.14" fill="#dde9f4" stroke="#a6a6a6" stroke-width="0.7"/>
<rect x="187.45" y="236.64" width="10.05" height="6.14" fill="#618ec8" stroke="#a6a6a6" stroke-width="0.7"/>
<rect x="197.50" y="236.64" width="10.05" height="6.14" fill="#d26752" stroke="#a6a6a6" stroke-width="0.7"/>
<rect x="207.55" y="236.64" width="10.05" height="6.14" fill="#f8dccc" stroke="#a6a6a6" stroke-width="0.7"/>
<rect x="217.60" y="236.64" width="10.05" height="6.14" fill="#f9e1d3" stroke="#a6a6a6" stroke-width="0.7"/>
<rect x="227.65" y="236.64" width="10.05" height="6.14" fill="#f9e5d9" stroke="#a6a6a6" stroke-width="0.7"/>
<rect x="237.70" y="236.64" width="10.05" height="6.14" fill="#f7f3f1" stroke="#a6a6a6" stroke-width="0.7"/>
<rect x="247.75" y="236.64" width="10.05" height="6.14" fill="#e8eef6" stroke="#a6a6a6" stroke-width="0.7"/>
<rect x="257.80" y="236.64" width="10.05" height="6.14" fill="#edf1f6" stroke="#a6a6a6" stroke-width="0.7"/>
<rect x="267.85" y="236.64" width="10.05" height="6.14" fill="#d4e3f3" stroke="#a6a6a6" stroke-width="0.7"/>
<rect x="277.90" y="236.64" width="10.05" height="6.14" fill="#bdd5ec" stroke="#a6a6a6" stroke-width="0.7"/>
<rect x="32.00" y="242.78" width="10.08" height="6.14" fill="#aa2433" stroke="#a6a6a6" stroke-width="0.7"/>
<rect x="42.08" y="242.78" width="10.08" height="6.14" fill="#d87259" stroke="#a6a6a6" stroke-width="0.7"/>
<rect x="52.16" y="242.78" width="10.08" height="6.14" fill="#f8dccc" stroke="#a6a6a6" stroke-width="0.7"/>
<rect x="62.24" y="242.78" width="10.08" height="6.14" fill="#eeac8e" stroke="#a6a6a6" stroke-width="0.7"/>
<rect x="72.32" y="242.78" width="10.08" height="6.14" fill="#eeac8e" stroke="#a6a6a6" stroke-width="0.7"/>
<rect x="85.10" y="242.78" width="10.02" height="6.14" fill="#bdd5ec" stroke="#a6a6a6" stroke-width="0.7"/>
<rect x="95.12" y="242.78" width="10.02" height="6.14" fill="#f7d6c5" stroke="#a6a6a6" stroke-width="0.7"/>
<rect x="105.14" y="242.78" width="10.02" height="6.14" fill="#f9e1d3" stroke="#a6a6a6" stroke-width="0.7"/>
<rect x="115.16" y="242.78" width="10.02" height="6.14" fill="#b4cfe9" stroke="#a6a6a6" stroke-width="0.7"/>
<rect x="125.18" y="242.78" width="10.02" height="6.14" fill="#e2ecf5" stroke="#a6a6a6" stroke-width="0.7"/>
<rect x="137.20" y="242.78" width="10.05" height="6.14" fill="#f8f0eb" stroke="#a6a6a6" stroke-width="0.7"/>
<rect x="147.25" y="242.78" width="10.05" height="6.14" fill="#bdd5ec" stroke="#a6a6a6" stroke-width="0.7"/>
<rect x="157.30" y="242.78" width="10.05" height="6.14" fill="#618ec8" stroke="#a6a6a6" stroke-width="0.7"/>
<rect x="167.35" y="242.78" width="10.05" height="6.14" fill="#73a0d2" stroke="#a6a6a6" stroke-width="0.7"/>
<rect x="177.40" y="242.78" width="10.05" height="6.14" fill="#618ec8" stroke="#a6a6a6" stroke-width="0.7"/>
<rect x="187.45" y="242.78" width="10.05" height="6.14" fill="#f8ece5" stroke="#a6a6a6" stroke-width="0.7"/>
<rect x="197.50" y="242.78" width="10.05" height="6.14" fill="#f7f7f7" stroke="#a6a6a6" stroke-width="0.7"/>
<rect x="207.55" y="242.78" width="10.05" height="6.14" fill="#f8dccc" stroke="#a6a6a6" stroke-width="0.7"/>
<rect x="217.60" y="242.78" width="10.05" height="6.14" fill="#cfe0f1" stroke="#a6a6a6" stroke-width="0.7"/>
<rect x="227.65" y="242.78" width="10.05" height="6.14" fill="#73a0d2" stroke="#a6a6a6" stroke-width="0.7"/>
<rect x="237.70" y="242.78" width="10.05" height="6.14" fill="#f8dccc" stroke="#a6a6a6" stroke-width="0.7"/>
<rect x="247.75" y="242.78" width="10.05" height="6.14" fill="#f9e1d3" stroke="#a6a6a6" stroke-width="0.7"/>
<rect x="257.80" y="242.78" width="10.05" height="6.14" fill="#d26752" stroke="#a6a6a6" stroke-width="0.7"/>
<rect x="267.85" y="242.78" width="10.05" height="6.14" fill="#b4cfe9" stroke="#a6a6a6" stroke-width="0.7"/>
<rect x="277.90" y="242.78" width="10.05" height="6.14" fill="#f7f7f7" stroke="#a6a6a6" stroke-width="0.7"/>
<text transform="translate(28.7,54.87) scale(0.84,1)" font-size="6.2" font-style="italic" text-anchor="end" fill="#3654a0">EPHB4</text>
<text transform="translate(28.7,61.02) scale(0.84,1)" font-size="6.2" font-style="italic" text-anchor="end" fill="#3654a0">PPARG</text>
<text transform="translate(28.7,67.17) scale(0.84,1)" font-size="6.2" font-style="italic" text-anchor="end" fill="#3654a0">PDGFRA</text>
<text transform="translate(28.7,73.32) scale(0.84,1)" font-size="6.2" font-style="italic" text-anchor="end" fill="#3654a0">RUNX2</text>
<text transform="translate(28.7,79.47) scale(0.84,1)" font-size="6.2" font-style="italic" text-anchor="end" fill="#3654a0">SP7</text>
<text transform="translate(28.7,85.62) scale(0.84,1)" font-size="6.2" font-style="italic" text-anchor="end" fill="#3654a0">EBF1</text>
<text transform="translate(28.7,91.77) scale(0.84,1)" font-size="6.2" font-style="italic" text-anchor="end" fill="#3654a0">TGFB3</text>
<text transform="translate(28.7,97.92) scale(0.84,1)" font-size="6.2" font-style="italic" text-anchor="end" fill="#3654a0">ANGPT1</text>
<text transform="translate(28.7,104.07) scale(0.84,1)" font-size="6.2" font-style="italic" text-anchor="end" fill="#3654a0">KITLG</text>
<text transform="translate(28.7,110.22) scale(0.84,1)" font-size="6.2" font-style="italic" text-anchor="end" fill="#3654a0">FOXC1</text>
<text transform="translate(28.7,116.37) scale(0.84,1)" font-size="6.2" font-style="italic" text-anchor="end" fill="#3654a0">IL7</text>
<text transform="translate(28.7,122.52) scale(0.84,1)" font-size="6.2" font-style="italic" text-anchor="end" fill="#3654a0">CXCL12</text>
<text transform="translate(28.7,128.67) scale(0.84,1)" font-size="6.2" font-style="italic" text-anchor="end" fill="#3654a0">ANGPT2</text>
<text transform="translate(28.7,134.82) scale(0.84,1)" font-size="6.2" font-style="italic" text-anchor="end" fill="#3654a0">TGFB1</text>
<text transform="translate(28.7,143.72) scale(0.84,1)" font-size="6.2" font-style="italic" text-anchor="end" fill="#b0282c">IL6</text>
<text transform="translate(28.7,149.86) scale(0.84,1)" font-size="6.2" font-style="italic" text-anchor="end" fill="#b0282c">CCL2</text>
<text transform="translate(28.7,156.00) scale(0.84,1)" font-size="6.2" font-style="italic" text-anchor="end" fill="#b0282c">IL1A</text>
<text transform="translate(28.7,162.14) scale(0.84,1)" font-size="6.2" font-style="italic" text-anchor="end" fill="#b0282c">ITGAV</text>
<text transform="translate(28.7,168.28) scale(0.84,1)" font-size="6.2" font-style="italic" text-anchor="end" fill="#b0282c">RELA</text>
<text transform="translate(28.7,174.42) scale(0.84,1)" font-size="6.2" font-style="italic" text-anchor="end" fill="#b0282c">CXCL10</text>
<text transform="translate(28.7,180.56) scale(0.84,1)" font-size="6.2" font-style="italic" text-anchor="end" fill="#b0282c">IL32</text>
<text transform="translate(28.7,186.70) scale(0.84,1)" font-size="6.2" font-style="italic" text-anchor="end" fill="#b0282c">IL15RA</text>
<text transform="translate(28.7,192.84) scale(0.84,1)" font-size="6.2" font-style="italic" text-anchor="end" fill="#b0282c">IL34</text>
<text transform="translate(28.7,198.98) scale(0.84,1)" font-size="6.2" font-style="italic" text-anchor="end" fill="#b0282c">CXCL8</text>
<text transform="translate(28.7,205.12) scale(0.84,1)" font-size="6.2" font-style="italic" text-anchor="end" fill="#b0282c">CXCL2</text>
<text transform="translate(28.7,211.26) scale(0.84,1)" font-size="6.2" font-style="italic" text-anchor="end" fill="#b0282c">IL1B</text>
<text transform="translate(28.7,217.40) scale(0.84,1)" font-size="6.2" font-style="italic" text-anchor="end" fill="#b0282c">IL15</text>
<text transform="translate(28.7,223.54) scale(0.84,1)" font-size="6.2" font-style="italic" text-anchor="end" fill="#b0282c">RELB</text>
<text transform="translate(28.7,229.68) scale(0.84,1)" font-size="6.2" font-style="italic" text-anchor="end" fill="#b0282c">ICAM1</text>
<text transform="translate(28.7,235.82) scale(0.84,1)" font-size="6.2" font-style="italic" text-anchor="end" fill="#b0282c">VCAM1</text>
<text transform="translate(28.7,241.96) scale(0.84,1)" font-size="6.2" font-style="italic" text-anchor="end" fill="#b0282c">CD44</text>
<text transform="translate(28.7,248.10) scale(0.84,1)" font-size="6.2" font-style="italic" text-anchor="end" fill="#b0282c">CX3CL1</text>
<path d="M37.04,43.30V36.00H47.12V43.30M67.28,43.30V36.50H77.36V43.30M57.20,43.30V34.50H72.32V36.50M42.08,36.00V31.30H64.76V34.50M100.13,43.30V36.80H110.15V43.30M120.17,43.30V35.90H130.19V43.30M105.14,36.80V35.30H125.18V35.90M90.11,43.30V33.60H115.16V35.30M142.22,43.30V37.40H152.28V43.30M172.38,43.30V36.90H182.42V43.30M162.32,43.30V35.70H177.40V36.90M147.25,37.40V32.30H169.86V35.70M202.53,43.30V37.10H212.58V43.30M222.62,43.30V36.90H232.67V43.30M207.55,37.10V35.40H227.65V36.90M242.72,43.30V37.70H252.78V43.30M272.88,43.30V37.10H282.92V43.30M262.82,43.30V35.60H277.90V37.10M247.75,37.70V34.70H270.36V35.60M217.60,35.40V33.50H259.06V34.70M192.47,43.30V31.40H238.33V33.50M158.56,32.30V28.40H215.40V31.40M102.63,33.60V24.20H186.98V28.40M53.42,31.30V16.10H145.60V24.20" fill="none" stroke="#5a5a5a" stroke-width="0.9"/>
<text x="313.1" y="42.8" font-size="8.5" fill="#2a2a2a" textLength="55.4" lengthAdjust="spacingAndGlyphs">Gene expression</text>
<defs><linearGradient id="lg" x1="0" x2="1" y1="0" y2="0">
<stop offset="0.000" stop-color="#14316f"/>
<stop offset="0.025" stop-color="#1a397c"/>
<stop offset="0.050" stop-color="#1f4189"/>
<stop offset="0.075" stop-color="#244996"/>
<stop offset="0.100" stop-color="#2a52a1"/>
<stop offset="0.125" stop-color="#325ca8"/>
<stop offset="0.150" stop-color="#3a65af"/>
<stop offset="0.175" stop-color="#426fb6"/>
<stop offset="0.200" stop-color="#4c7abd"/>
<stop offset="0.225" stop-color="#5886c3"/>
<stop offset="0.250" stop-color="#6492ca"/>
<stop offset="0.275" stop-color="#719ed1"/>
<stop offset="0.300" stop-color="#7fa9d6"/>
<stop offset="0.325" stop-color="#8eb4dc"/>
<stop offset="0.350" stop-color="#9dbfe1"/>
<stop offset="0.375" stop-color="#abc9e6"/>
<stop offset="0.400" stop-color="#b7d1ea"/>
<stop offset="0.425" stop-color="#c3d9ee"/>
<stop offset="0.450" stop-color="#cfe0f1"/>
<stop offset="0.475" stop-color="#dce8f4"/>
<stop offset="0.500" stop-color="#eaf0f6"/>
<stop offset="0.525" stop-color="#f7f7f7"/>
<stop offset="0.550" stop-color="#f8ede7"/>
<stop offset="0.575" stop-color="#f9e3d7"/>
<stop offset="0.600" stop-color="#f7d6c5"/>
<stop offset="0.625" stop-color="#f4c8b3"/>
<stop offset="0.650" stop-color="#f1baa0"/>
<stop offset="0.675" stop-color="#eeac8e"/>
<stop offset="0.700" stop-color="#e7997c"/>
<stop offset="0.725" stop-color="#df856b"/>
<stop offset="0.750" stop-color="#d87259"/>
<stop offset="0.775" stop-color="#d16350"/>
<stop offset="0.800" stop-color="#c95448"/>
<stop offset="0.825" stop-color="#c2453f"/>
<stop offset="0.850" stop-color="#ba3a3b"/>
<stop offset="0.875" stop-color="#b22f37"/>
<stop offset="0.900" stop-color="#aa2433"/>
<stop offset="0.925" stop-color="#9b1d2f"/>
<stop offset="0.950" stop-color="#8c172a"/>
<stop offset="0.975" stop-color="#7e1026"/>
<stop offset="1.000" stop-color="#720b22"/>
</linearGradient></defs>
<rect x="295.8" y="48.2" width="91" height="8.3" fill="url(#lg)"/>
<line x1="309.3" y1="56.5" x2="309.3" y2="57.8" stroke="#666" stroke-width="0.5"/>
<text x="309.3" y="65.1" font-size="6" text-anchor="middle" fill="#444">-2</text>
<line x1="326.4" y1="56.5" x2="326.4" y2="57.8" stroke="#666" stroke-width="0.5"/>
<text x="326.4" y="65.1" font-size="6" text-anchor="middle" fill="#444">-1</text>
<line x1="343.5" y1="56.5" x2="343.5" y2="57.8" stroke="#666" stroke-width="0.5"/>
<text x="343.5" y="65.1" font-size="6" text-anchor="middle" fill="#444">0</text>
<line x1="360.6" y1="56.5" x2="360.6" y2="57.8" stroke="#666" stroke-width="0.5"/>
<text x="360.6" y="65.1" font-size="6" text-anchor="middle" fill="#444">1</text>
<line x1="377.7" y1="56.5" x2="377.7" y2="57.8" stroke="#666" stroke-width="0.5"/>
<text x="377.7" y="65.1" font-size="6" text-anchor="middle" fill="#444">2</text>
<text x="325.7" y="75.2" font-size="7.2" fill="#333" textLength="30.3" lengthAdjust="spacingAndGlyphs">Scaled log2</text>
<rect x="294.6" y="79.0" width="13.8" height="6.3" fill="#ea857f" stroke="#999" stroke-width="0.4"/>
<text x="311.9" y="84.2" font-size="5.1" fill="#333" textLength="52.8" lengthAdjust="spacingAndGlyphs">UNTREATED BM-MSC</text>
<rect x="294.6" y="87.1" width="13.8" height="6.3" fill="#88a8f2" stroke="#999" stroke-width="0.4"/>
<text x="311.9" y="92.3" font-size="5.1" fill="#333" textLength="46.7" lengthAdjust="spacingAndGlyphs">EV-primed BM-MSC</text>
<rect x="294.6" y="95.8" width="13.8" height="6.3" fill="#6ccf5c" stroke="#999" stroke-width="0.4"/>
<text x="311.9" y="101.0" font-size="5.1" fill="#333" textLength="58.0" lengthAdjust="spacingAndGlyphs">TNF/LT-primed BM-MSC</text>
<text transform="translate(55.10,276.50) scale(0.92,1)" font-size="7.8" font-style="italic" text-anchor="middle" fill="#222">CXCL12</text>
<line x1="33.0" y1="327.30" x2="76.9" y2="327.30" stroke="#e05574" stroke-width="0.72" stroke-dasharray="0.95,0.4"/>
<path d="M33.00,282.00V348.50H76.90" fill="none" stroke="#3a3a3a" stroke-width="1.45"/>
<line x1="29.9" y1="348.50" x2="33.0" y2="348.50" stroke="#333" stroke-width="0.95"/>
<text x="27.4" y="350.70" font-size="6.1" text-anchor="end" fill="#555">0</text>
<line x1="29.9" y1="327.10" x2="33.0" y2="327.10" stroke="#333" stroke-width="0.95"/>
<text x="27.4" y="329.30" font-size="6.1" text-anchor="end" fill="#555">1</text>
<line x1="29.9" y1="305.70" x2="33.0" y2="305.70" stroke="#333" stroke-width="0.95"/>
<text x="27.4" y="307.90" font-size="6.1" text-anchor="end" fill="#555">2</text>
<line x1="29.9" y1="284.30" x2="33.0" y2="284.30" stroke="#333" stroke-width="0.95"/>
<text x="27.4" y="286.50" font-size="6.1" text-anchor="end" fill="#555">3</text>
<line x1="44.0" y1="348.50" x2="44.0" y2="351.10" stroke="#2e2e2e" stroke-width="0.9"/>
<text x="44.0" y="359.2" font-size="5.3" text-anchor="middle" fill="#333">TNF/LT</text>
<line x1="66.2" y1="348.50" x2="66.2" y2="351.10" stroke="#2e2e2e" stroke-width="0.9"/>
<text x="66.2" y="359.2" font-size="5.3" text-anchor="middle" fill="#333">EVs</text>
<path d="M42.6,285.1V287.9M42.6,286.5H66.5M66.5,285.1V287.9" fill="none" stroke="#444" stroke-width="0.9"/>
<rect x="51.50" y="283.55" width="1.3" height="1.3" fill="#555"/>
<rect x="53.90" y="283.55" width="1.3" height="1.3" fill="#555"/>
<rect x="56.30" y="283.55" width="1.3" height="1.3" fill="#555"/>
<circle cx="44.06" cy="327.15" r="1.15" fill="#15306f"/>
<circle cx="45.64" cy="332.10" r="1.15" fill="#15306f"/>
<circle cx="42.80" cy="334.21" r="1.15" fill="#15306f"/>
<circle cx="47.01" cy="336.42" r="1.15" fill="#15306f"/>
<circle cx="40.90" cy="336.95" r="1.15" fill="#15306f"/>
<circle cx="44.38" cy="338.00" r="1.15" fill="#15306f"/>
<circle cx="41.22" cy="339.27" r="1.15" fill="#15306f"/>
<circle cx="47.01" cy="340.53" r="1.15" fill="#15306f"/>
<circle cx="44.06" cy="341.90" r="1.15" fill="#15306f"/>
<circle cx="66.19" cy="293.96" r="1.15" fill="#15306f"/>
<circle cx="63.24" cy="301.33" r="1.15" fill="#15306f"/>
<circle cx="69.35" cy="301.86" r="1.15" fill="#15306f"/>
<circle cx="66.19" cy="303.97" r="1.15" fill="#15306f"/>
<circle cx="66.19" cy="309.76" r="1.15" fill="#15306f"/>
<circle cx="60.19" cy="315.87" r="1.15" fill="#15306f"/>
<circle cx="72.20" cy="315.87" r="1.15" fill="#15306f"/>
<circle cx="63.03" cy="318.19" r="1.15" fill="#15306f"/>
<circle cx="66.19" cy="318.51" r="1.15" fill="#15306f"/>
<circle cx="68.83" cy="318.19" r="1.15" fill="#15306f"/>
<circle cx="64.40" cy="319.77" r="1.15" fill="#15306f"/>
<circle cx="67.77" cy="319.77" r="1.15" fill="#15306f"/>
<circle cx="70.41" cy="320.83" r="1.15" fill="#15306f"/>
<circle cx="60.19" cy="322.72" r="1.15" fill="#15306f"/>
<circle cx="63.03" cy="323.78" r="1.15" fill="#15306f"/>
<circle cx="66.19" cy="325.25" r="1.15" fill="#15306f"/>
<circle cx="69.35" cy="324.20" r="1.15" fill="#15306f"/>
<circle cx="72.20" cy="323.67" r="1.15" fill="#15306f"/>
<circle cx="66.19" cy="330.52" r="1.15" fill="#15306f"/>
<circle cx="61.66" cy="332.63" r="1.15" fill="#15306f"/>
<circle cx="70.72" cy="332.21" r="1.15" fill="#15306f"/>
<circle cx="64.61" cy="335.05" r="1.15" fill="#15306f"/>
<circle cx="67.77" cy="334.32" r="1.15" fill="#15306f"/>
<line x1="36.7" y1="337.30" x2="51.8" y2="337.30" stroke="#222" stroke-width="1.15"/>
<line x1="58.8" y1="320.30" x2="73.9" y2="320.30" stroke="#222" stroke-width="1.15"/>
<text transform="translate(15.7,315.2) rotate(-90)" font-size="6.8" text-anchor="middle" fill="#444">2<tspan dy="-2.6" font-size="4.9">-ΔΔCt</tspan></text>
<text transform="translate(111.20,276.50) scale(0.92,1)" font-size="7.8" font-style="italic" text-anchor="middle" fill="#222">KITLG</text>
<line x1="89.1" y1="332.40" x2="133.8" y2="332.40" stroke="#e05574" stroke-width="0.72" stroke-dasharray="0.95,0.4"/>
<path d="M89.10,281.30V348.60H133.80" fill="none" stroke="#3a3a3a" stroke-width="1.45"/>
<line x1="86.0" y1="348.60" x2="89.1" y2="348.60" stroke="#333" stroke-width="0.95"/>
<text x="83.5" y="350.80" font-size="6.1" text-anchor="end" fill="#555">0</text>
<line x1="86.0" y1="332.60" x2="89.1" y2="332.60" stroke="#333" stroke-width="0.95"/>
<text x="83.5" y="334.80" font-size="6.1" text-anchor="end" fill="#555">1</text>
<line x1="86.0" y1="316.40" x2="89.1" y2="316.40" stroke="#333" stroke-width="0.95"/>
<text x="83.5" y="318.60" font-size="6.1" text-anchor="end" fill="#555">2</text>
<line x1="86.0" y1="300.30" x2="89.1" y2="300.30" stroke="#333" stroke-width="0.95"/>
<text x="83.5" y="302.50" font-size="6.1" text-anchor="end" fill="#555">3</text>
<line x1="86.0" y1="284.30" x2="89.1" y2="284.30" stroke="#333" stroke-width="0.95"/>
<text x="83.5" y="286.50" font-size="6.1" text-anchor="end" fill="#555">4</text>
<line x1="100.1" y1="348.60" x2="100.1" y2="351.20" stroke="#2e2e2e" stroke-width="0.9"/>
<text x="100.1" y="359.2" font-size="5.3" text-anchor="middle" fill="#333">TNF/LT</text>
<line x1="122.3" y1="348.60" x2="122.3" y2="351.20" stroke="#2e2e2e" stroke-width="0.9"/>
<text x="122.3" y="359.2" font-size="5.3" text-anchor="middle" fill="#333">EVs</text>
<path d="M100.2,286.9V289.7M100.2,288.3H122.4M122.4,286.9V289.7" fill="none" stroke="#444" stroke-width="0.9"/>
<rect x="110.65" y="285.35" width="1.3" height="1.3" fill="#555"/>
<circle cx="100.33" cy="322.88" r="1.15" fill="#15306f"/>
<circle cx="97.41" cy="330.84" r="1.15" fill="#15306f"/>
<circle cx="100.33" cy="331.73" r="1.15" fill="#15306f"/>
<circle cx="103.42" cy="331.73" r="1.15" fill="#15306f"/>
<circle cx="98.73" cy="332.88" r="1.15" fill="#15306f"/>
<circle cx="102.10" cy="335.71" r="1.15" fill="#15306f"/>
<circle cx="97.41" cy="337.65" r="1.15" fill="#15306f"/>
<circle cx="100.50" cy="339.42" r="1.15" fill="#15306f"/>
<circle cx="103.42" cy="338.98" r="1.15" fill="#15306f"/>
<circle cx="122.45" cy="298.36" r="1.15" fill="#15306f"/>
<circle cx="118.03" cy="313.14" r="1.15" fill="#15306f"/>
<circle cx="121.04" cy="314.91" r="1.15" fill="#15306f"/>
<circle cx="124.13" cy="314.91" r="1.15" fill="#15306f"/>
<circle cx="127.05" cy="313.32" r="1.15" fill="#15306f"/>
<circle cx="121.04" cy="321.37" r="1.15" fill="#15306f"/>
<circle cx="124.13" cy="320.49" r="1.15" fill="#15306f"/>
<circle cx="118.03" cy="326.42" r="1.15" fill="#15306f"/>
<circle cx="121.04" cy="325.27" r="1.15" fill="#15306f"/>
<circle cx="124.13" cy="325.27" r="1.15" fill="#15306f"/>
<circle cx="121.04" cy="328.45" r="1.15" fill="#15306f"/>
<circle cx="127.05" cy="328.45" r="1.15" fill="#15306f"/>
<circle cx="118.03" cy="330.40" r="1.15" fill="#15306f"/>
<circle cx="121.04" cy="331.46" r="1.15" fill="#15306f"/>
<circle cx="124.13" cy="330.84" r="1.15" fill="#15306f"/>
<circle cx="118.03" cy="333.94" r="1.15" fill="#15306f"/>
<circle cx="121.04" cy="334.38" r="1.15" fill="#15306f"/>
<circle cx="124.13" cy="334.82" r="1.15" fill="#15306f"/>
<circle cx="127.05" cy="333.94" r="1.15" fill="#15306f"/>
<circle cx="116.26" cy="335.88" r="1.15" fill="#15306f"/>
<circle cx="119.53" cy="336.77" r="1.15" fill="#15306f"/>
<circle cx="122.45" cy="338.54" r="1.15" fill="#15306f"/>
<circle cx="125.73" cy="338.19" r="1.15" fill="#15306f"/>
<circle cx="128.82" cy="335.88" r="1.15" fill="#15306f"/>
<line x1="93.2" y1="333.10" x2="107.8" y2="333.10" stroke="#222" stroke-width="1.15"/>
<line x1="115.1" y1="328.50" x2="130.2" y2="328.50" stroke="#222" stroke-width="1.15"/>
<text transform="translate(170.80,276.50) scale(0.92,1)" font-size="7.8" font-style="italic" text-anchor="middle" fill="#222">TGFB1</text>
<line x1="148.7" y1="316.30" x2="192.7" y2="316.30" stroke="#e05574" stroke-width="0.72" stroke-dasharray="0.95,0.4"/>
<path d="M148.70,281.30V348.60H192.70" fill="none" stroke="#3a3a3a" stroke-width="1.45"/>
<line x1="145.6" y1="348.60" x2="148.7" y2="348.60" stroke="#333" stroke-width="0.95"/>
<text x="143.1" y="350.80" font-size="6.1" text-anchor="end" fill="#555">0</text>
<line x1="145.6" y1="316.40" x2="148.7" y2="316.40" stroke="#333" stroke-width="0.95"/>
<text x="143.1" y="318.60" font-size="6.1" text-anchor="end" fill="#555">1</text>
<line x1="145.6" y1="284.30" x2="148.7" y2="284.30" stroke="#333" stroke-width="0.95"/>
<text x="143.1" y="286.50" font-size="6.1" text-anchor="end" fill="#555">2</text>
<line x1="159.7" y1="348.60" x2="159.7" y2="351.20" stroke="#2e2e2e" stroke-width="0.9"/>
<text x="159.7" y="359.2" font-size="5.3" text-anchor="middle" fill="#333">TNF/LT</text>
<line x1="181.9" y1="348.60" x2="181.9" y2="351.20" stroke="#2e2e2e" stroke-width="0.9"/>
<text x="181.9" y="359.2" font-size="5.3" text-anchor="middle" fill="#333">EVs</text>
<path d="M159.6,287.0V289.8M159.6,288.4H181.0M181.0,287.0V289.8" fill="none" stroke="#444" stroke-width="0.9"/>
<rect x="167.25" y="285.45" width="1.3" height="1.3" fill="#555"/>
<rect x="169.65" y="285.45" width="1.3" height="1.3" fill="#555"/>
<rect x="172.05" y="285.45" width="1.3" height="1.3" fill="#555"/>
<circle cx="159.83" cy="320.90" r="1.15" fill="#15306f"/>
<circle cx="158.31" cy="323.52" r="1.15" fill="#15306f"/>
<circle cx="161.27" cy="324.53" r="1.15" fill="#15306f"/>
<circle cx="159.83" cy="325.38" r="1.15" fill="#15306f"/>
<circle cx="156.61" cy="326.90" r="1.15" fill="#15306f"/>
<circle cx="155.09" cy="328.09" r="1.15" fill="#15306f"/>
<circle cx="158.14" cy="328.76" r="1.15" fill="#15306f"/>
<circle cx="161.27" cy="328.60" r="1.15" fill="#15306f"/>
<circle cx="164.40" cy="327.92" r="1.15" fill="#15306f"/>
<circle cx="180.30" cy="304.06" r="1.15" fill="#15306f"/>
<circle cx="183.26" cy="305.25" r="1.15" fill="#15306f"/>
<circle cx="178.78" cy="308.88" r="1.15" fill="#15306f"/>
<circle cx="181.99" cy="311.17" r="1.15" fill="#15306f"/>
<circle cx="184.96" cy="311.17" r="1.15" fill="#15306f"/>
<circle cx="180.30" cy="313.11" r="1.15" fill="#15306f"/>
<circle cx="177.34" cy="314.81" r="1.15" fill="#15306f"/>
<circle cx="183.52" cy="313.96" r="1.15" fill="#15306f"/>
<circle cx="186.65" cy="314.55" r="1.15" fill="#15306f"/>
<circle cx="180.30" cy="315.65" r="1.15" fill="#15306f"/>
<circle cx="177.34" cy="317.77" r="1.15" fill="#15306f"/>
<circle cx="180.30" cy="317.94" r="1.15" fill="#15306f"/>
<circle cx="183.52" cy="317.77" r="1.15" fill="#15306f"/>
<circle cx="186.23" cy="316.75" r="1.15" fill="#15306f"/>
<circle cx="184.96" cy="318.78" r="1.15" fill="#15306f"/>
<circle cx="179.03" cy="320.98" r="1.15" fill="#15306f"/>
<circle cx="181.99" cy="321.57" r="1.15" fill="#15306f"/>
<circle cx="177.34" cy="324.28" r="1.15" fill="#15306f"/>
<circle cx="180.30" cy="324.96" r="1.15" fill="#15306f"/>
<circle cx="183.52" cy="324.70" r="1.15" fill="#15306f"/>
<circle cx="186.65" cy="323.10" r="1.15" fill="#15306f"/>
<line x1="152.2" y1="326.60" x2="166.9" y2="326.60" stroke="#222" stroke-width="1.15"/>
<line x1="174.4" y1="315.50" x2="188.9" y2="315.50" stroke="#222" stroke-width="1.15"/>
<text transform="translate(233.90,276.50) scale(0.92,1)" font-size="7.8" font-style="italic" text-anchor="middle" fill="#222">TGFB3</text>
<line x1="211.8" y1="340.60" x2="255.0" y2="340.60" stroke="#e05574" stroke-width="0.72" stroke-dasharray="0.95,0.4"/>
<path d="M211.80,281.30V348.60H255.00" fill="none" stroke="#3a3a3a" stroke-width="1.45"/>
<line x1="208.7" y1="348.60" x2="211.8" y2="348.60" stroke="#333" stroke-width="0.95"/>
<text x="206.2" y="350.80" font-size="6.1" text-anchor="end" fill="#555">0</text>
<line x1="208.7" y1="332.50" x2="211.8" y2="332.50" stroke="#333" stroke-width="0.95"/>
<text x="206.2" y="334.70" font-size="6.1" text-anchor="end" fill="#555">2</text>
<line x1="208.7" y1="316.40" x2="211.8" y2="316.40" stroke="#333" stroke-width="0.95"/>
<text x="206.2" y="318.60" font-size="6.1" text-anchor="end" fill="#555">4</text>
<line x1="208.7" y1="300.30" x2="211.8" y2="300.30" stroke="#333" stroke-width="0.95"/>
<text x="206.2" y="302.50" font-size="6.1" text-anchor="end" fill="#555">6</text>
<line x1="208.7" y1="284.30" x2="211.8" y2="284.30" stroke="#333" stroke-width="0.95"/>
<text x="206.2" y="286.50" font-size="6.1" text-anchor="end" fill="#555">8</text>
<line x1="222.8" y1="348.60" x2="222.8" y2="351.20" stroke="#2e2e2e" stroke-width="0.9"/>
<text x="222.8" y="359.2" font-size="5.3" text-anchor="middle" fill="#333">TNF/LT</text>
<line x1="245.0" y1="348.60" x2="245.0" y2="351.20" stroke="#2e2e2e" stroke-width="0.9"/>
<text x="245.0" y="359.2" font-size="5.3" text-anchor="middle" fill="#333">EVs</text>
<path d="M223.2,287.7V290.5M223.2,289.1H245.4M245.4,287.7V290.5" fill="none" stroke="#444" stroke-width="0.9"/>
<rect x="231.25" y="286.15" width="1.3" height="1.3" fill="#555"/>
<rect x="233.65" y="286.15" width="1.3" height="1.3" fill="#555"/>
<rect x="236.05" y="286.15" width="1.3" height="1.3" fill="#555"/>
<circle cx="221.67" cy="342.39" r="1.15" fill="#15306f"/>
<circle cx="223.61" cy="343.84" r="1.15" fill="#15306f"/>
<circle cx="218.77" cy="345.29" r="1.15" fill="#15306f"/>
<circle cx="221.19" cy="345.48" r="1.15" fill="#15306f"/>
<circle cx="223.61" cy="345.29" r="1.15" fill="#15306f"/>
<circle cx="227.47" cy="345.29" r="1.15" fill="#15306f"/>
<circle cx="220.51" cy="346.45" r="1.15" fill="#15306f"/>
<circle cx="222.64" cy="346.74" r="1.15" fill="#15306f"/>
<circle cx="225.06" cy="346.26" r="1.15" fill="#15306f"/>
<circle cx="244.88" cy="302.25" r="1.15" fill="#15306f"/>
<circle cx="244.88" cy="318.69" r="1.15" fill="#15306f"/>
<circle cx="241.50" cy="322.85" r="1.15" fill="#15306f"/>
<circle cx="243.43" cy="324.21" r="1.15" fill="#15306f"/>
<circle cx="246.33" cy="324.21" r="1.15" fill="#15306f"/>
<circle cx="248.27" cy="323.72" r="1.15" fill="#15306f"/>
<circle cx="241.50" cy="327.40" r="1.15" fill="#15306f"/>
<circle cx="243.91" cy="328.66" r="1.15" fill="#15306f"/>
<circle cx="246.33" cy="328.08" r="1.15" fill="#15306f"/>
<circle cx="248.56" cy="327.40" r="1.15" fill="#15306f"/>
<circle cx="241.50" cy="330.98" r="1.15" fill="#15306f"/>
<circle cx="245.37" cy="331.75" r="1.15" fill="#15306f"/>
<circle cx="248.56" cy="331.56" r="1.15" fill="#15306f"/>
<circle cx="242.75" cy="334.46" r="1.15" fill="#15306f"/>
<circle cx="245.37" cy="333.68" r="1.15" fill="#15306f"/>
<circle cx="247.30" cy="334.65" r="1.15" fill="#15306f"/>
<circle cx="242.95" cy="336.59" r="1.15" fill="#15306f"/>
<circle cx="244.88" cy="336.78" r="1.15" fill="#15306f"/>
<circle cx="246.33" cy="337.36" r="1.15" fill="#15306f"/>
<circle cx="240.53" cy="338.52" r="1.15" fill="#15306f"/>
<circle cx="242.95" cy="338.52" r="1.15" fill="#15306f"/>
<circle cx="245.37" cy="339.00" r="1.15" fill="#15306f"/>
<circle cx="249.23" cy="338.33" r="1.15" fill="#15306f"/>
<circle cx="243.91" cy="341.23" r="1.15" fill="#15306f"/>
<circle cx="246.33" cy="339.68" r="1.15" fill="#15306f"/>
<line x1="215.4" y1="345.30" x2="229.9" y2="345.30" stroke="#222" stroke-width="1.15"/>
<line x1="237.3" y1="332.50" x2="252.1" y2="332.50" stroke="#222" stroke-width="1.15"/>
<text transform="translate(306.90,274.60) scale(0.92,1)" font-size="7.8" font-style="italic" text-anchor="middle" fill="#222">IL1B</text>
<line x1="284.3" y1="322.10" x2="329.4" y2="322.10" stroke="#e05574" stroke-width="0.72" stroke-dasharray="0.95,0.4"/>
<line x1="283.0" y1="344.34" x2="284.3" y2="344.34" stroke="#333" stroke-width="0.4"/>
<line x1="283.0" y1="342.03" x2="284.3" y2="342.03" stroke="#333" stroke-width="0.4"/>
<line x1="283.0" y1="340.38" x2="284.3" y2="340.38" stroke="#333" stroke-width="0.4"/>
<line x1="283.0" y1="339.11" x2="284.3" y2="339.11" stroke="#333" stroke-width="0.4"/>
<line x1="283.0" y1="338.07" x2="284.3" y2="338.07" stroke="#333" stroke-width="0.4"/>
<line x1="283.0" y1="337.19" x2="284.3" y2="337.19" stroke="#333" stroke-width="0.4"/>
<line x1="283.0" y1="336.42" x2="284.3" y2="336.42" stroke="#333" stroke-width="0.4"/>
<line x1="283.0" y1="335.75" x2="284.3" y2="335.75" stroke="#333" stroke-width="0.4"/>
<line x1="283.0" y1="331.24" x2="284.3" y2="331.24" stroke="#333" stroke-width="0.4"/>
<line x1="283.0" y1="328.93" x2="284.3" y2="328.93" stroke="#333" stroke-width="0.4"/>
<line x1="283.0" y1="327.28" x2="284.3" y2="327.28" stroke="#333" stroke-width="0.4"/>
<line x1="283.0" y1="326.01" x2="284.3" y2="326.01" stroke="#333" stroke-width="0.4"/>
<line x1="283.0" y1="324.97" x2="284.3" y2="324.97" stroke="#333" stroke-width="0.4"/>
<line x1="283.0" y1="324.09" x2="284.3" y2="324.09" stroke="#333" stroke-width="0.4"/>
<line x1="283.0" y1="323.32" x2="284.3" y2="323.32" stroke="#333" stroke-width="0.4"/>
<line x1="283.0" y1="322.65" x2="284.3" y2="322.65" stroke="#333" stroke-width="0.4"/>
<line x1="283.0" y1="318.14" x2="284.3" y2="318.14" stroke="#333" stroke-width="0.4"/>
<line x1="283.0" y1="315.83" x2="284.3" y2="315.83" stroke="#333" stroke-width="0.4"/>
<line x1="283.0" y1="314.18" x2="284.3" y2="314.18" stroke="#333" stroke-width="0.4"/>
<line x1="283.0" y1="312.91" x2="284.3" y2="312.91" stroke="#333" stroke-width="0.4"/>
<line x1="283.0" y1="311.87" x2="284.3" y2="311.87" stroke="#333" stroke-width="0.4"/>
<line x1="283.0" y1="310.99" x2="284.3" y2="310.99" stroke="#333" stroke-width="0.4"/>
<line x1="283.0" y1="310.22" x2="284.3" y2="310.22" stroke="#333" stroke-width="0.4"/>
<line x1="283.0" y1="309.55" x2="284.3" y2="309.55" stroke="#333" stroke-width="0.4"/>
<line x1="283.0" y1="304.94" x2="284.3" y2="304.94" stroke="#333" stroke-width="0.4"/>
<line x1="283.0" y1="302.63" x2="284.3" y2="302.63" stroke="#333" stroke-width="0.4"/>
<line x1="283.0" y1="300.98" x2="284.3" y2="300.98" stroke="#333" stroke-width="0.4"/>
<line x1="283.0" y1="299.71" x2="284.3" y2="299.71" stroke="#333" stroke-width="0.4"/>
<line x1="283.0" y1="298.67" x2="284.3" y2="298.67" stroke="#333" stroke-width="0.4"/>
<line x1="283.0" y1="297.79" x2="284.3" y2="297.79" stroke="#333" stroke-width="0.4"/>
<line x1="283.0" y1="297.02" x2="284.3" y2="297.02" stroke="#333" stroke-width="0.4"/>
<line x1="283.0" y1="296.35" x2="284.3" y2="296.35" stroke="#333" stroke-width="0.4"/>
<line x1="283.0" y1="291.74" x2="284.3" y2="291.74" stroke="#333" stroke-width="0.4"/>
<line x1="283.0" y1="289.43" x2="284.3" y2="289.43" stroke="#333" stroke-width="0.4"/>
<line x1="283.0" y1="287.78" x2="284.3" y2="287.78" stroke="#333" stroke-width="0.4"/>
<line x1="283.0" y1="286.51" x2="284.3" y2="286.51" stroke="#333" stroke-width="0.4"/>
<line x1="283.0" y1="285.47" x2="284.3" y2="285.47" stroke="#333" stroke-width="0.4"/>
<line x1="283.0" y1="284.59" x2="284.3" y2="284.59" stroke="#333" stroke-width="0.4"/>
<line x1="283.0" y1="283.82" x2="284.3" y2="283.82" stroke="#333" stroke-width="0.4"/>
<line x1="283.0" y1="283.15" x2="284.3" y2="283.15" stroke="#333" stroke-width="0.4"/>
<path d="M284.30,280.70V348.30H329.40" fill="none" stroke="#3a3a3a" stroke-width="1.45"/>
<line x1="281.2" y1="348.30" x2="284.3" y2="348.30" stroke="#333" stroke-width="0.95"/>
<text x="280.1" y="350.20" font-size="5.0" text-anchor="end" fill="#555">10<tspan dy="-2.0" font-size="3.7">-2</tspan></text>
<line x1="281.2" y1="335.20" x2="284.3" y2="335.20" stroke="#333" stroke-width="0.95"/>
<text x="280.1" y="337.10" font-size="5.0" text-anchor="end" fill="#555">10<tspan dy="-2.0" font-size="3.7">-1</tspan></text>
<line x1="281.2" y1="322.10" x2="284.3" y2="322.10" stroke="#333" stroke-width="0.95"/>
<text x="280.1" y="324.00" font-size="5.0" text-anchor="end" fill="#555">10<tspan dy="-2.0" font-size="3.7">0</tspan></text>
<line x1="281.2" y1="308.90" x2="284.3" y2="308.90" stroke="#333" stroke-width="0.95"/>
<text x="280.1" y="310.80" font-size="5.0" text-anchor="end" fill="#555">10<tspan dy="-2.0" font-size="3.7">1</tspan></text>
<line x1="281.2" y1="295.70" x2="284.3" y2="295.70" stroke="#333" stroke-width="0.95"/>
<text x="280.1" y="297.60" font-size="5.0" text-anchor="end" fill="#555">10<tspan dy="-2.0" font-size="3.7">2</tspan></text>
<line x1="281.2" y1="282.60" x2="284.3" y2="282.60" stroke="#333" stroke-width="0.95"/>
<text x="280.1" y="284.50" font-size="5.0" text-anchor="end" fill="#555">10<tspan dy="-2.0" font-size="3.7">3</tspan></text>
<line x1="295.8" y1="348.30" x2="295.8" y2="350.90" stroke="#2e2e2e" stroke-width="0.9"/>
<text x="295.8" y="359.2" font-size="5.3" text-anchor="middle" fill="#333">TNF/LT</text>
<line x1="318.0" y1="348.30" x2="318.0" y2="350.90" stroke="#2e2e2e" stroke-width="0.9"/>
<text x="318.0" y="359.2" font-size="5.3" text-anchor="middle" fill="#333">EVs</text>
<path d="M296.1,282.4V285.2M296.1,283.8H319.7M319.7,282.4V285.2" fill="none" stroke="#444" stroke-width="0.9"/>
<rect x="304.85" y="280.85" width="1.3" height="1.3" fill="#555"/>
<rect x="307.25" y="280.85" width="1.3" height="1.3" fill="#555"/>
<rect x="309.65" y="280.85" width="1.3" height="1.3" fill="#555"/>
<circle cx="292.86" cy="287.84" r="1.15" fill="#15306f"/>
<circle cx="295.93" cy="288.46" r="1.15" fill="#15306f"/>
<circle cx="299.01" cy="287.23" r="1.15" fill="#15306f"/>
<circle cx="295.93" cy="292.15" r="1.15" fill="#15306f"/>
<circle cx="294.46" cy="293.99" r="1.15" fill="#15306f"/>
<circle cx="297.53" cy="295.84" r="1.15" fill="#15306f"/>
<circle cx="292.86" cy="298.91" r="1.15" fill="#15306f"/>
<circle cx="295.93" cy="301.00" r="1.15" fill="#15306f"/>
<circle cx="299.01" cy="299.89" r="1.15" fill="#15306f"/>
<circle cx="316.96" cy="301.74" r="1.15" fill="#15306f"/>
<circle cx="320.04" cy="303.58" r="1.15" fill="#15306f"/>
<circle cx="318.69" cy="309.37" r="1.15" fill="#15306f"/>
<circle cx="316.96" cy="313.06" r="1.15" fill="#15306f"/>
<circle cx="320.04" cy="313.06" r="1.15" fill="#15306f"/>
<circle cx="320.29" cy="314.29" r="1.15" fill="#15306f"/>
<circle cx="316.96" cy="317.11" r="1.15" fill="#15306f"/>
<circle cx="314.14" cy="319.21" r="1.15" fill="#15306f"/>
<circle cx="316.96" cy="319.57" r="1.15" fill="#15306f"/>
<circle cx="320.04" cy="319.82" r="1.15" fill="#15306f"/>
<circle cx="323.11" cy="319.82" r="1.15" fill="#15306f"/>
<circle cx="314.14" cy="321.67" r="1.15" fill="#15306f"/>
<circle cx="316.96" cy="321.67" r="1.15" fill="#15306f"/>
<circle cx="320.04" cy="321.67" r="1.15" fill="#15306f"/>
<circle cx="323.11" cy="322.28" r="1.15" fill="#15306f"/>
<circle cx="314.14" cy="324.13" r="1.15" fill="#15306f"/>
<circle cx="316.96" cy="324.13" r="1.15" fill="#15306f"/>
<circle cx="320.04" cy="324.13" r="1.15" fill="#15306f"/>
<circle cx="323.11" cy="323.14" r="1.15" fill="#15306f"/>
<circle cx="316.96" cy="326.59" r="1.15" fill="#15306f"/>
<circle cx="320.04" cy="327.82" r="1.15" fill="#15306f"/>
<circle cx="323.11" cy="326.22" r="1.15" fill="#15306f"/>
<circle cx="318.69" cy="338.52" r="1.15" fill="#15306f"/>
<line x1="288.7" y1="294.40" x2="303.4" y2="294.40" stroke="#222" stroke-width="1.15"/>
<line x1="311.3" y1="321.00" x2="326.4" y2="321.00" stroke="#222" stroke-width="1.15"/>
<text transform="translate(267.0,314.5) rotate(-90)" font-size="6.8" text-anchor="middle" fill="#444">2<tspan dy="-2.6" font-size="4.9">-ΔΔCt</tspan></text>
<text transform="translate(366.90,274.60) scale(0.92,1)" font-size="7.8" font-style="italic" text-anchor="middle" fill="#222">IL6</text>
<line x1="344.3" y1="344.00" x2="389.5" y2="344.00" stroke="#e05574" stroke-width="0.72" stroke-dasharray="0.95,0.4"/>
<path d="M344.30,280.30V348.30H389.50" fill="none" stroke="#3a3a3a" stroke-width="1.45"/>
<line x1="341.2" y1="348.30" x2="344.3" y2="348.30" stroke="#333" stroke-width="0.95"/>
<text x="338.7" y="350.50" font-size="6.1" text-anchor="end" fill="#555">0</text>
<line x1="341.2" y1="326.40" x2="344.3" y2="326.40" stroke="#333" stroke-width="0.95"/>
<text x="338.7" y="328.60" font-size="6.1" text-anchor="end" fill="#555">5</text>
<line x1="341.2" y1="304.50" x2="344.3" y2="304.50" stroke="#333" stroke-width="0.95"/>
<text x="338.7" y="306.70" font-size="6.1" text-anchor="end" fill="#555">10</text>
<line x1="341.2" y1="282.70" x2="344.3" y2="282.70" stroke="#333" stroke-width="0.95"/>
<text x="338.7" y="284.90" font-size="6.1" text-anchor="end" fill="#555">15</text>
<line x1="355.8" y1="348.30" x2="355.8" y2="350.90" stroke="#2e2e2e" stroke-width="0.9"/>
<text x="355.8" y="359.2" font-size="5.3" text-anchor="middle" fill="#333">TNF/LT</text>
<line x1="378.0" y1="348.30" x2="378.0" y2="350.90" stroke="#2e2e2e" stroke-width="0.9"/>
<text x="378.0" y="359.2" font-size="5.3" text-anchor="middle" fill="#333">EVs</text>
<path d="M355.3,286.8V289.6M355.3,288.2H378.4M378.4,286.8V289.6" fill="none" stroke="#444" stroke-width="0.9"/>
<rect x="363.80" y="285.25" width="1.3" height="1.3" fill="#555"/>
<rect x="366.20" y="285.25" width="1.3" height="1.3" fill="#555"/>
<rect x="368.60" y="285.25" width="1.3" height="1.3" fill="#555"/>
<circle cx="355.22" cy="299.01" r="1.15" fill="#15306f"/>
<circle cx="355.22" cy="312.23" r="1.15" fill="#15306f"/>
<circle cx="352.01" cy="319.75" r="1.15" fill="#15306f"/>
<circle cx="355.22" cy="320.85" r="1.15" fill="#15306f"/>
<circle cx="358.33" cy="319.55" r="1.15" fill="#15306f"/>
<circle cx="355.22" cy="325.56" r="1.15" fill="#15306f"/>
<circle cx="355.22" cy="332.07" r="1.15" fill="#15306f"/>
<circle cx="356.82" cy="333.58" r="1.15" fill="#15306f"/>
<circle cx="353.82" cy="335.58" r="1.15" fill="#15306f"/>
<circle cx="377.87" cy="333.08" r="1.15" fill="#15306f"/>
<circle cx="379.57" cy="337.08" r="1.15" fill="#15306f"/>
<circle cx="376.26" cy="339.89" r="1.15" fill="#15306f"/>
<circle cx="373.56" cy="342.29" r="1.15" fill="#15306f"/>
<circle cx="377.57" cy="342.09" r="1.15" fill="#15306f"/>
<circle cx="381.57" cy="341.89" r="1.15" fill="#15306f"/>
<circle cx="371.85" cy="344.10" r="1.15" fill="#15306f"/>
<circle cx="374.56" cy="344.10" r="1.15" fill="#15306f"/>
<circle cx="376.56" cy="343.60" r="1.15" fill="#15306f"/>
<circle cx="379.07" cy="343.60" r="1.15" fill="#15306f"/>
<circle cx="381.07" cy="343.90" r="1.15" fill="#15306f"/>
<circle cx="383.58" cy="343.90" r="1.15" fill="#15306f"/>
<circle cx="373.06" cy="345.60" r="1.15" fill="#15306f"/>
<circle cx="375.56" cy="345.90" r="1.15" fill="#15306f"/>
<circle cx="378.07" cy="345.90" r="1.15" fill="#15306f"/>
<circle cx="380.57" cy="345.60" r="1.15" fill="#15306f"/>
<circle cx="382.88" cy="345.60" r="1.15" fill="#15306f"/>
<circle cx="374.26" cy="347.10" r="1.15" fill="#15306f"/>
<circle cx="376.86" cy="347.30" r="1.15" fill="#15306f"/>
<circle cx="379.57" cy="347.10" r="1.15" fill="#15306f"/>
<circle cx="382.07" cy="346.90" r="1.15" fill="#15306f"/>
<line x1="348.0" y1="320.60" x2="362.5" y2="320.60" stroke="#222" stroke-width="1.15"/>
<line x1="370.9" y1="343.90" x2="385.1" y2="343.90" stroke="#222" stroke-width="1.15"/>
<text transform="translate(427.80,274.60) scale(0.92,1)" font-size="7.8" font-style="italic" text-anchor="middle" fill="#222">CXCL8</text>
<line x1="403.9" y1="344.27" x2="405.2" y2="344.27" stroke="#333" stroke-width="0.4"/>
<line x1="403.9" y1="341.97" x2="405.2" y2="341.97" stroke="#333" stroke-width="0.4"/>
<line x1="403.9" y1="340.34" x2="405.2" y2="340.34" stroke="#333" stroke-width="0.4"/>
<line x1="403.9" y1="339.08" x2="405.2" y2="339.08" stroke="#333" stroke-width="0.4"/>
<line x1="403.9" y1="338.05" x2="405.2" y2="338.05" stroke="#333" stroke-width="0.4"/>
<line x1="403.9" y1="337.17" x2="405.2" y2="337.17" stroke="#333" stroke-width="0.4"/>
<line x1="403.9" y1="336.41" x2="405.2" y2="336.41" stroke="#333" stroke-width="0.4"/>
<line x1="403.9" y1="335.75" x2="405.2" y2="335.75" stroke="#333" stroke-width="0.4"/>
<line x1="403.9" y1="331.37" x2="405.2" y2="331.37" stroke="#333" stroke-width="0.4"/>
<line x1="403.9" y1="329.07" x2="405.2" y2="329.07" stroke="#333" stroke-width="0.4"/>
<line x1="403.9" y1="327.44" x2="405.2" y2="327.44" stroke="#333" stroke-width="0.4"/>
<line x1="403.9" y1="326.18" x2="405.2" y2="326.18" stroke="#333" stroke-width="0.4"/>
<line x1="403.9" y1="325.15" x2="405.2" y2="325.15" stroke="#333" stroke-width="0.4"/>
<line x1="403.9" y1="324.27" x2="405.2" y2="324.27" stroke="#333" stroke-width="0.4"/>
<line x1="403.9" y1="323.51" x2="405.2" y2="323.51" stroke="#333" stroke-width="0.4"/>
<line x1="403.9" y1="322.85" x2="405.2" y2="322.85" stroke="#333" stroke-width="0.4"/>
<line x1="403.9" y1="318.77" x2="405.2" y2="318.77" stroke="#333" stroke-width="0.4"/>
<line x1="403.9" y1="316.47" x2="405.2" y2="316.47" stroke="#333" stroke-width="0.4"/>
<line x1="403.9" y1="314.84" x2="405.2" y2="314.84" stroke="#333" stroke-width="0.4"/>
<line x1="403.9" y1="313.58" x2="405.2" y2="313.58" stroke="#333" stroke-width="0.4"/>
<line x1="403.9" y1="312.55" x2="405.2" y2="312.55" stroke="#333" stroke-width="0.4"/>
<line x1="403.9" y1="311.67" x2="405.2" y2="311.67" stroke="#333" stroke-width="0.4"/>
<line x1="403.9" y1="310.91" x2="405.2" y2="310.91" stroke="#333" stroke-width="0.4"/>
<line x1="403.9" y1="310.25" x2="405.2" y2="310.25" stroke="#333" stroke-width="0.4"/>
<line x1="403.9" y1="305.67" x2="405.2" y2="305.67" stroke="#333" stroke-width="0.4"/>
<line x1="403.9" y1="303.37" x2="405.2" y2="303.37" stroke="#333" stroke-width="0.4"/>
<line x1="403.9" y1="301.74" x2="405.2" y2="301.74" stroke="#333" stroke-width="0.4"/>
<line x1="403.9" y1="300.48" x2="405.2" y2="300.48" stroke="#333" stroke-width="0.4"/>
<line x1="403.9" y1="299.45" x2="405.2" y2="299.45" stroke="#333" stroke-width="0.4"/>
<line x1="403.9" y1="298.57" x2="405.2" y2="298.57" stroke="#333" stroke-width="0.4"/>
<line x1="403.9" y1="297.81" x2="405.2" y2="297.81" stroke="#333" stroke-width="0.4"/>
<line x1="403.9" y1="297.15" x2="405.2" y2="297.15" stroke="#333" stroke-width="0.4"/>
<line x1="403.9" y1="292.37" x2="405.2" y2="292.37" stroke="#333" stroke-width="0.4"/>
<line x1="403.9" y1="290.07" x2="405.2" y2="290.07" stroke="#333" stroke-width="0.4"/>
<line x1="403.9" y1="288.44" x2="405.2" y2="288.44" stroke="#333" stroke-width="0.4"/>
<line x1="403.9" y1="287.18" x2="405.2" y2="287.18" stroke="#333" stroke-width="0.4"/>
<line x1="403.9" y1="286.15" x2="405.2" y2="286.15" stroke="#333" stroke-width="0.4"/>
<line x1="403.9" y1="285.27" x2="405.2" y2="285.27" stroke="#333" stroke-width="0.4"/>
<line x1="403.9" y1="284.51" x2="405.2" y2="284.51" stroke="#333" stroke-width="0.4"/>
<line x1="403.9" y1="283.85" x2="405.2" y2="283.85" stroke="#333" stroke-width="0.4"/>
<path d="M405.20,280.30V348.20H450.50" fill="none" stroke="#3a3a3a" stroke-width="1.45"/>
<line x1="402.1" y1="348.20" x2="405.2" y2="348.20" stroke="#333" stroke-width="0.95"/>
<text x="401.0" y="350.10" font-size="5.0" text-anchor="end" fill="#555">10<tspan dy="-2.0" font-size="3.7">0</tspan></text>
<line x1="402.1" y1="335.30" x2="405.2" y2="335.30" stroke="#333" stroke-width="0.95"/>
<text x="401.0" y="337.20" font-size="5.0" text-anchor="end" fill="#555">10<tspan dy="-2.0" font-size="3.7">1</tspan></text>
<line x1="402.1" y1="322.70" x2="405.2" y2="322.70" stroke="#333" stroke-width="0.95"/>
<text x="401.0" y="324.60" font-size="5.0" text-anchor="end" fill="#555">10<tspan dy="-2.0" font-size="3.7">2</tspan></text>
<line x1="402.1" y1="309.60" x2="405.2" y2="309.60" stroke="#333" stroke-width="0.95"/>
<text x="401.0" y="311.50" font-size="5.0" text-anchor="end" fill="#555">10<tspan dy="-2.0" font-size="3.7">3</tspan></text>
<line x1="402.1" y1="296.30" x2="405.2" y2="296.30" stroke="#333" stroke-width="0.95"/>
<text x="401.0" y="298.20" font-size="5.0" text-anchor="end" fill="#555">10<tspan dy="-2.0" font-size="3.7">4</tspan></text>
<line x1="402.1" y1="282.90" x2="405.2" y2="282.90" stroke="#333" stroke-width="0.95"/>
<text x="401.0" y="284.80" font-size="5.0" text-anchor="end" fill="#555">10<tspan dy="-2.0" font-size="3.7">5</tspan></text>
<line x1="416.7" y1="348.20" x2="416.7" y2="350.80" stroke="#2e2e2e" stroke-width="0.9"/>
<text x="416.7" y="359.2" font-size="5.3" text-anchor="middle" fill="#333">TNF/LT</text>
<line x1="438.9" y1="348.20" x2="438.9" y2="350.80" stroke="#2e2e2e" stroke-width="0.9"/>
<text x="438.9" y="359.2" font-size="5.3" text-anchor="middle" fill="#333">EVs</text>
<path d="M417.4,284.5V287.3M417.4,285.9H440.0M440.0,284.5V287.3" fill="none" stroke="#444" stroke-width="0.9"/>
<rect x="425.65" y="282.95" width="1.3" height="1.3" fill="#555"/>
<rect x="428.05" y="282.95" width="1.3" height="1.3" fill="#555"/>
<rect x="430.45" y="282.95" width="1.3" height="1.3" fill="#555"/>
<circle cx="416.81" cy="294.22" r="1.15" fill="#15306f"/>
<circle cx="413.97" cy="300.02" r="1.15" fill="#15306f"/>
<circle cx="417.13" cy="300.76" r="1.15" fill="#15306f"/>
<circle cx="420.08" cy="299.28" r="1.15" fill="#15306f"/>
<circle cx="418.50" cy="303.50" r="1.15" fill="#15306f"/>
<circle cx="415.23" cy="305.61" r="1.15" fill="#15306f"/>
<circle cx="416.92" cy="309.73" r="1.15" fill="#15306f"/>
<circle cx="418.50" cy="312.89" r="1.15" fill="#15306f"/>
<circle cx="415.23" cy="315.00" r="1.15" fill="#15306f"/>
<circle cx="439.49" cy="321.43" r="1.15" fill="#15306f"/>
<circle cx="439.49" cy="326.18" r="1.15" fill="#15306f"/>
<circle cx="436.43" cy="328.82" r="1.15" fill="#15306f"/>
<circle cx="439.28" cy="329.24" r="1.15" fill="#15306f"/>
<circle cx="442.45" cy="329.03" r="1.15" fill="#15306f"/>
<circle cx="434.85" cy="332.51" r="1.15" fill="#15306f"/>
<circle cx="438.02" cy="332.19" r="1.15" fill="#15306f"/>
<circle cx="441.18" cy="332.72" r="1.15" fill="#15306f"/>
<circle cx="444.24" cy="332.72" r="1.15" fill="#15306f"/>
<circle cx="438.02" cy="334.09" r="1.15" fill="#15306f"/>
<circle cx="436.43" cy="335.89" r="1.15" fill="#15306f"/>
<circle cx="439.49" cy="336.41" r="1.15" fill="#15306f"/>
<circle cx="442.45" cy="335.57" r="1.15" fill="#15306f"/>
<circle cx="438.02" cy="339.05" r="1.15" fill="#15306f"/>
<circle cx="441.18" cy="339.05" r="1.15" fill="#15306f"/>
<circle cx="434.85" cy="341.37" r="1.15" fill="#15306f"/>
<circle cx="438.02" cy="341.37" r="1.15" fill="#15306f"/>
<circle cx="441.18" cy="341.16" r="1.15" fill="#15306f"/>
<circle cx="444.24" cy="341.48" r="1.15" fill="#15306f"/>
<circle cx="438.02" cy="343.27" r="1.15" fill="#15306f"/>
<circle cx="441.18" cy="343.27" r="1.15" fill="#15306f"/>
<circle cx="434.85" cy="345.70" r="1.15" fill="#15306f"/>
<circle cx="438.02" cy="345.38" r="1.15" fill="#15306f"/>
<circle cx="441.18" cy="345.70" r="1.15" fill="#15306f"/>
<circle cx="444.24" cy="345.38" r="1.15" fill="#15306f"/>
<line x1="409.2" y1="303.50" x2="424.5" y2="303.50" stroke="#222" stroke-width="1.15"/>
<line x1="432.2" y1="336.90" x2="447.0" y2="336.90" stroke="#222" stroke-width="1.15"/>
<text transform="translate(491.30,274.60) scale(0.92,1)" font-size="7.8" font-style="italic" text-anchor="middle" fill="#222">CXCL10</text>
<line x1="468.7" y1="326.60" x2="513.0" y2="326.60" stroke="#e05574" stroke-width="0.72" stroke-dasharray="0.95,0.4"/>
<line x1="467.4" y1="344.95" x2="468.7" y2="344.95" stroke="#333" stroke-width="0.4"/>
<line x1="467.4" y1="343.05" x2="468.7" y2="343.05" stroke="#333" stroke-width="0.4"/>
<line x1="467.4" y1="341.70" x2="468.7" y2="341.70" stroke="#333" stroke-width="0.4"/>
<line x1="467.4" y1="340.65" x2="468.7" y2="340.65" stroke="#333" stroke-width="0.4"/>
<line x1="467.4" y1="339.80" x2="468.7" y2="339.80" stroke="#333" stroke-width="0.4"/>
<line x1="467.4" y1="339.07" x2="468.7" y2="339.07" stroke="#333" stroke-width="0.4"/>
<line x1="467.4" y1="338.45" x2="468.7" y2="338.45" stroke="#333" stroke-width="0.4"/>
<line x1="467.4" y1="337.89" x2="468.7" y2="337.89" stroke="#333" stroke-width="0.4"/>
<line x1="467.4" y1="334.15" x2="468.7" y2="334.15" stroke="#333" stroke-width="0.4"/>
<line x1="467.4" y1="332.25" x2="468.7" y2="332.25" stroke="#333" stroke-width="0.4"/>
<line x1="467.4" y1="330.90" x2="468.7" y2="330.90" stroke="#333" stroke-width="0.4"/>
<line x1="467.4" y1="329.85" x2="468.7" y2="329.85" stroke="#333" stroke-width="0.4"/>
<line x1="467.4" y1="329.00" x2="468.7" y2="329.00" stroke="#333" stroke-width="0.4"/>
<line x1="467.4" y1="328.27" x2="468.7" y2="328.27" stroke="#333" stroke-width="0.4"/>
<line x1="467.4" y1="327.65" x2="468.7" y2="327.65" stroke="#333" stroke-width="0.4"/>
<line x1="467.4" y1="327.09" x2="468.7" y2="327.09" stroke="#333" stroke-width="0.4"/>
<line x1="467.4" y1="323.25" x2="468.7" y2="323.25" stroke="#333" stroke-width="0.4"/>
<line x1="467.4" y1="321.35" x2="468.7" y2="321.35" stroke="#333" stroke-width="0.4"/>
<line x1="467.4" y1="320.00" x2="468.7" y2="320.00" stroke="#333" stroke-width="0.4"/>
<line x1="467.4" y1="318.95" x2="468.7" y2="318.95" stroke="#333" stroke-width="0.4"/>
<line x1="467.4" y1="318.10" x2="468.7" y2="318.10" stroke="#333" stroke-width="0.4"/>
<line x1="467.4" y1="317.37" x2="468.7" y2="317.37" stroke="#333" stroke-width="0.4"/>
<line x1="467.4" y1="316.75" x2="468.7" y2="316.75" stroke="#333" stroke-width="0.4"/>
<line x1="467.4" y1="316.19" x2="468.7" y2="316.19" stroke="#333" stroke-width="0.4"/>
<line x1="467.4" y1="312.35" x2="468.7" y2="312.35" stroke="#333" stroke-width="0.4"/>
<line x1="467.4" y1="310.45" x2="468.7" y2="310.45" stroke="#333" stroke-width="0.4"/>
<line x1="467.4" y1="309.10" x2="468.7" y2="309.10" stroke="#333" stroke-width="0.4"/>
<line x1="467.4" y1="308.05" x2="468.7" y2="308.05" stroke="#333" stroke-width="0.4"/>
<line x1="467.4" y1="307.20" x2="468.7" y2="307.20" stroke="#333" stroke-width="0.4"/>
<line x1="467.4" y1="306.47" x2="468.7" y2="306.47" stroke="#333" stroke-width="0.4"/>
<line x1="467.4" y1="305.85" x2="468.7" y2="305.85" stroke="#333" stroke-width="0.4"/>
<line x1="467.4" y1="305.29" x2="468.7" y2="305.29" stroke="#333" stroke-width="0.4"/>
<line x1="467.4" y1="301.75" x2="468.7" y2="301.75" stroke="#333" stroke-width="0.4"/>
<line x1="467.4" y1="299.85" x2="468.7" y2="299.85" stroke="#333" stroke-width="0.4"/>
<line x1="467.4" y1="298.50" x2="468.7" y2="298.50" stroke="#333" stroke-width="0.4"/>
<line x1="467.4" y1="297.45" x2="468.7" y2="297.45" stroke="#333" stroke-width="0.4"/>
<line x1="467.4" y1="296.60" x2="468.7" y2="296.60" stroke="#333" stroke-width="0.4"/>
<line x1="467.4" y1="295.87" x2="468.7" y2="295.87" stroke="#333" stroke-width="0.4"/>
<line x1="467.4" y1="295.25" x2="468.7" y2="295.25" stroke="#333" stroke-width="0.4"/>
<line x1="467.4" y1="294.69" x2="468.7" y2="294.69" stroke="#333" stroke-width="0.4"/>
<line x1="467.4" y1="290.95" x2="468.7" y2="290.95" stroke="#333" stroke-width="0.4"/>
<line x1="467.4" y1="289.05" x2="468.7" y2="289.05" stroke="#333" stroke-width="0.4"/>
<line x1="467.4" y1="287.70" x2="468.7" y2="287.70" stroke="#333" stroke-width="0.4"/>
<line x1="467.4" y1="286.65" x2="468.7" y2="286.65" stroke="#333" stroke-width="0.4"/>
<line x1="467.4" y1="285.80" x2="468.7" y2="285.80" stroke="#333" stroke-width="0.4"/>
<line x1="467.4" y1="285.07" x2="468.7" y2="285.07" stroke="#333" stroke-width="0.4"/>
<line x1="467.4" y1="284.45" x2="468.7" y2="284.45" stroke="#333" stroke-width="0.4"/>
<line x1="467.4" y1="283.89" x2="468.7" y2="283.89" stroke="#333" stroke-width="0.4"/>
<path d="M468.70,280.30V348.20H513.00" fill="none" stroke="#3a3a3a" stroke-width="1.45"/>
<line x1="465.6" y1="348.20" x2="468.7" y2="348.20" stroke="#333" stroke-width="0.95"/>
<text x="464.5" y="350.10" font-size="5.0" text-anchor="end" fill="#555">10<tspan dy="-2.0" font-size="3.7">-2</tspan></text>
<line x1="465.6" y1="337.40" x2="468.7" y2="337.40" stroke="#333" stroke-width="0.95"/>
<text x="464.5" y="339.30" font-size="5.0" text-anchor="end" fill="#555">10<tspan dy="-2.0" font-size="3.7">-1</tspan></text>
<line x1="465.6" y1="326.50" x2="468.7" y2="326.50" stroke="#333" stroke-width="0.95"/>
<text x="464.5" y="328.40" font-size="5.0" text-anchor="end" fill="#555">10<tspan dy="-2.0" font-size="3.7">0</tspan></text>
<line x1="465.6" y1="315.60" x2="468.7" y2="315.60" stroke="#333" stroke-width="0.95"/>
<text x="464.5" y="317.50" font-size="5.0" text-anchor="end" fill="#555">10<tspan dy="-2.0" font-size="3.7">1</tspan></text>
<line x1="465.6" y1="305.00" x2="468.7" y2="305.00" stroke="#333" stroke-width="0.95"/>
<text x="464.5" y="306.90" font-size="5.0" text-anchor="end" fill="#555">10<tspan dy="-2.0" font-size="3.7">2</tspan></text>
<line x1="465.6" y1="294.20" x2="468.7" y2="294.20" stroke="#333" stroke-width="0.95"/>
<text x="464.5" y="296.10" font-size="5.0" text-anchor="end" fill="#555">10<tspan dy="-2.0" font-size="3.7">3</tspan></text>
<line x1="465.6" y1="283.20" x2="468.7" y2="283.20" stroke="#333" stroke-width="0.95"/>
<text x="464.5" y="285.10" font-size="5.0" text-anchor="end" fill="#555">10<tspan dy="-2.0" font-size="3.7">4</tspan></text>
<line x1="480.2" y1="348.20" x2="480.2" y2="350.80" stroke="#2e2e2e" stroke-width="0.9"/>
<text x="480.2" y="359.2" font-size="5.3" text-anchor="middle" fill="#333">TNF/LT</text>
<line x1="502.4" y1="348.20" x2="502.4" y2="350.80" stroke="#2e2e2e" stroke-width="0.9"/>
<text x="502.4" y="359.2" font-size="5.3" text-anchor="middle" fill="#333">EVs</text>
<path d="M480.1,283.1V285.9M480.1,284.5H503.1M503.1,283.1V285.9" fill="none" stroke="#444" stroke-width="0.9"/>
<rect x="488.55" y="281.55" width="1.3" height="1.3" fill="#555"/>
<rect x="490.95" y="281.55" width="1.3" height="1.3" fill="#555"/>
<rect x="493.35" y="281.55" width="1.3" height="1.3" fill="#555"/>
<circle cx="479.95" cy="287.64" r="1.15" fill="#15306f"/>
<circle cx="476.87" cy="291.70" r="1.15" fill="#15306f"/>
<circle cx="483.02" cy="290.84" r="1.15" fill="#15306f"/>
<circle cx="479.95" cy="293.30" r="1.15" fill="#15306f"/>
<circle cx="481.55" cy="295.76" r="1.15" fill="#15306f"/>
<circle cx="478.47" cy="298.72" r="1.15" fill="#15306f"/>
<circle cx="479.95" cy="302.54" r="1.15" fill="#15306f"/>
<circle cx="481.55" cy="305.49" r="1.15" fill="#15306f"/>
<circle cx="478.47" cy="308.08" r="1.15" fill="#15306f"/>
<circle cx="499.77" cy="313.25" r="1.15" fill="#15306f"/>
<circle cx="502.85" cy="313.50" r="1.15" fill="#15306f"/>
<circle cx="505.81" cy="312.88" r="1.15" fill="#15306f"/>
<circle cx="501.00" cy="317.19" r="1.15" fill="#15306f"/>
<circle cx="504.33" cy="316.95" r="1.15" fill="#15306f"/>
<circle cx="505.93" cy="317.93" r="1.15" fill="#15306f"/>
<circle cx="499.40" cy="320.02" r="1.15" fill="#15306f"/>
<circle cx="502.85" cy="320.39" r="1.15" fill="#15306f"/>
<circle cx="496.57" cy="322.49" r="1.15" fill="#15306f"/>
<circle cx="499.77" cy="324.09" r="1.15" fill="#15306f"/>
<circle cx="502.85" cy="324.58" r="1.15" fill="#15306f"/>
<circle cx="505.81" cy="324.33" r="1.15" fill="#15306f"/>
<circle cx="508.64" cy="323.35" r="1.15" fill="#15306f"/>
<circle cx="498.17" cy="326.18" r="1.15" fill="#15306f"/>
<circle cx="501.25" cy="325.81" r="1.15" fill="#15306f"/>
<circle cx="504.33" cy="325.57" r="1.15" fill="#15306f"/>
<circle cx="507.41" cy="326.18" r="1.15" fill="#15306f"/>
<circle cx="499.77" cy="328.65" r="1.15" fill="#15306f"/>
<circle cx="504.08" cy="328.28" r="1.15" fill="#15306f"/>
<circle cx="507.16" cy="327.78" r="1.15" fill="#15306f"/>
<circle cx="501.00" cy="329.88" r="1.15" fill="#15306f"/>
<circle cx="502.48" cy="332.34" r="1.15" fill="#15306f"/>
<circle cx="505.81" cy="332.09" r="1.15" fill="#15306f"/>
<circle cx="502.48" cy="339.73" r="1.15" fill="#15306f"/>
<circle cx="502.73" cy="344.29" r="1.15" fill="#15306f"/>
<line x1="472.7" y1="295.60" x2="487.5" y2="295.60" stroke="#222" stroke-width="1.15"/>
<line x1="495.3" y1="325.00" x2="509.9" y2="325.00" stroke="#222" stroke-width="1.15"/>
<text transform="translate(55.70,377.50) scale(0.92,1)" font-size="7.8" font-style="italic" text-anchor="middle" fill="#222">IL7</text>
<line x1="33.6" y1="442.80" x2="77.5" y2="442.80" stroke="#e05574" stroke-width="0.72" stroke-dasharray="0.95,0.4"/>
<path d="M33.60,382.70V449.20H77.50" fill="none" stroke="#3a3a3a" stroke-width="1.45"/>
<line x1="30.5" y1="449.20" x2="33.6" y2="449.20" stroke="#333" stroke-width="0.95"/>
<text x="28.0" y="451.40" font-size="6.1" text-anchor="end" fill="#555">0</text>
<line x1="30.5" y1="436.30" x2="33.6" y2="436.30" stroke="#333" stroke-width="0.95"/>
<text x="28.0" y="438.50" font-size="6.1" text-anchor="end" fill="#555">2</text>
<line x1="30.5" y1="423.40" x2="33.6" y2="423.40" stroke="#333" stroke-width="0.95"/>
<text x="28.0" y="425.60" font-size="6.1" text-anchor="end" fill="#555">4</text>
<line x1="30.5" y1="410.60" x2="33.6" y2="410.60" stroke="#333" stroke-width="0.95"/>
<text x="28.0" y="412.80" font-size="6.1" text-anchor="end" fill="#555">6</text>
<line x1="30.5" y1="397.70" x2="33.6" y2="397.70" stroke="#333" stroke-width="0.95"/>
<text x="28.0" y="399.90" font-size="6.1" text-anchor="end" fill="#555">8</text>
<line x1="30.5" y1="384.80" x2="33.6" y2="384.80" stroke="#333" stroke-width="0.95"/>
<text x="28.0" y="387.00" font-size="6.1" text-anchor="end" fill="#555">10</text>
<line x1="44.6" y1="449.20" x2="44.6" y2="451.80" stroke="#2e2e2e" stroke-width="0.9"/>
<text x="44.6" y="459.7" font-size="5.3" text-anchor="middle" fill="#333">TNF/LT</text>
<line x1="66.8" y1="449.20" x2="66.8" y2="451.80" stroke="#2e2e2e" stroke-width="0.9"/>
<text x="66.8" y="459.7" font-size="5.3" text-anchor="middle" fill="#333">EVs</text>
<path d="M42.8,388.1V390.9M42.8,389.5H66.2M66.2,388.1V390.9" fill="none" stroke="#444" stroke-width="0.9"/>
<rect x="51.45" y="386.55" width="1.3" height="1.3" fill="#555"/>
<rect x="53.85" y="386.55" width="1.3" height="1.3" fill="#555"/>
<rect x="56.25" y="386.55" width="1.3" height="1.3" fill="#555"/>
<circle cx="44.19" cy="431.53" r="1.15" fill="#15306f"/>
<circle cx="41.01" cy="440.59" r="1.15" fill="#15306f"/>
<circle cx="44.19" cy="439.53" r="1.15" fill="#15306f"/>
<circle cx="47.13" cy="440.36" r="1.15" fill="#15306f"/>
<circle cx="39.48" cy="443.30" r="1.15" fill="#15306f"/>
<circle cx="42.66" cy="442.71" r="1.15" fill="#15306f"/>
<circle cx="45.72" cy="443.89" r="1.15" fill="#15306f"/>
<circle cx="48.90" cy="443.30" r="1.15" fill="#15306f"/>
<circle cx="42.66" cy="446.01" r="1.15" fill="#15306f"/>
<circle cx="66.57" cy="396.19" r="1.15" fill="#15306f"/>
<circle cx="64.80" cy="400.08" r="1.15" fill="#15306f"/>
<circle cx="67.98" cy="399.37" r="1.15" fill="#15306f"/>
<circle cx="66.57" cy="407.38" r="1.15" fill="#15306f"/>
<circle cx="67.98" cy="415.62" r="1.15" fill="#15306f"/>
<circle cx="64.80" cy="417.74" r="1.15" fill="#15306f"/>
<circle cx="65.04" cy="418.92" r="1.15" fill="#15306f"/>
<circle cx="67.98" cy="420.57" r="1.15" fill="#15306f"/>
<circle cx="61.62" cy="423.28" r="1.15" fill="#15306f"/>
<circle cx="64.80" cy="423.87" r="1.15" fill="#15306f"/>
<circle cx="67.98" cy="423.87" r="1.15" fill="#15306f"/>
<circle cx="70.93" cy="422.10" r="1.15" fill="#15306f"/>
<circle cx="61.62" cy="429.99" r="1.15" fill="#15306f"/>
<circle cx="64.80" cy="430.94" r="1.15" fill="#15306f"/>
<circle cx="67.98" cy="431.17" r="1.15" fill="#15306f"/>
<circle cx="70.93" cy="429.99" r="1.15" fill="#15306f"/>
<circle cx="67.98" cy="433.88" r="1.15" fill="#15306f"/>
<circle cx="64.80" cy="435.65" r="1.15" fill="#15306f"/>
<circle cx="63.39" cy="439.18" r="1.15" fill="#15306f"/>
<circle cx="66.57" cy="439.18" r="1.15" fill="#15306f"/>
<circle cx="69.51" cy="438.59" r="1.15" fill="#15306f"/>
<circle cx="60.33" cy="440.95" r="1.15" fill="#15306f"/>
<circle cx="63.39" cy="441.54" r="1.15" fill="#15306f"/>
<circle cx="69.51" cy="442.13" r="1.15" fill="#15306f"/>
<circle cx="72.46" cy="441.30" r="1.15" fill="#15306f"/>
<circle cx="66.33" cy="443.66" r="1.15" fill="#15306f"/>
<line x1="36.5" y1="442.70" x2="51.6" y2="442.70" stroke="#222" stroke-width="1.15"/>
<line x1="58.9" y1="430.00" x2="73.6" y2="430.00" stroke="#222" stroke-width="1.15"/>
<text transform="translate(16.3,415.9) rotate(-90)" font-size="6.8" text-anchor="middle" fill="#444">2<tspan dy="-2.6" font-size="4.9">-ΔΔCt</tspan></text>
<text transform="translate(111.50,377.50) scale(0.92,1)" font-size="7.8" font-style="italic" text-anchor="middle" fill="#222">ANGPT1</text>
<line x1="89.4" y1="436.50" x2="134.0" y2="436.50" stroke="#e05574" stroke-width="0.72" stroke-dasharray="0.95,0.4"/>
<path d="M89.40,382.50V449.40H134.00" fill="none" stroke="#3a3a3a" stroke-width="1.45"/>
<line x1="86.3" y1="449.40" x2="89.4" y2="449.40" stroke="#333" stroke-width="0.95"/>
<text x="83.8" y="451.60" font-size="6.1" text-anchor="end" fill="#555">0</text>
<line x1="86.3" y1="436.50" x2="89.4" y2="436.50" stroke="#333" stroke-width="0.95"/>
<text x="83.8" y="438.70" font-size="6.1" text-anchor="end" fill="#555">1</text>
<line x1="86.3" y1="423.60" x2="89.4" y2="423.60" stroke="#333" stroke-width="0.95"/>
<text x="83.8" y="425.80" font-size="6.1" text-anchor="end" fill="#555">2</text>
<line x1="86.3" y1="410.70" x2="89.4" y2="410.70" stroke="#333" stroke-width="0.95"/>
<text x="83.8" y="412.90" font-size="6.1" text-anchor="end" fill="#555">3</text>
<line x1="86.3" y1="397.90" x2="89.4" y2="397.90" stroke="#333" stroke-width="0.95"/>
<text x="83.8" y="400.10" font-size="6.1" text-anchor="end" fill="#555">4</text>
<line x1="86.3" y1="385.10" x2="89.4" y2="385.10" stroke="#333" stroke-width="0.95"/>
<text x="83.8" y="387.30" font-size="6.1" text-anchor="end" fill="#555">5</text>
<line x1="100.4" y1="449.40" x2="100.4" y2="452.00" stroke="#2e2e2e" stroke-width="0.9"/>
<text x="100.4" y="459.7" font-size="5.3" text-anchor="middle" fill="#333">TNF/LT</text>
<line x1="122.6" y1="449.40" x2="122.6" y2="452.00" stroke="#2e2e2e" stroke-width="0.9"/>
<text x="122.6" y="459.7" font-size="5.3" text-anchor="middle" fill="#333">EVs</text>
<path d="M100.6,387.3V390.1M100.6,388.7H123.1M123.1,387.3V390.1" fill="none" stroke="#444" stroke-width="0.9"/>
<rect x="108.80" y="385.75" width="1.3" height="1.3" fill="#555"/>
<rect x="111.20" y="385.75" width="1.3" height="1.3" fill="#555"/>
<rect x="113.60" y="385.75" width="1.3" height="1.3" fill="#555"/>
<circle cx="100.59" cy="423.51" r="1.15" fill="#15306f"/>
<circle cx="100.59" cy="427.09" r="1.15" fill="#15306f"/>
<circle cx="102.17" cy="428.46" r="1.15" fill="#15306f"/>
<circle cx="99.01" cy="431.10" r="1.15" fill="#15306f"/>
<circle cx="99.01" cy="432.15" r="1.15" fill="#15306f"/>
<circle cx="101.86" cy="435.10" r="1.15" fill="#15306f"/>
<circle cx="97.43" cy="437.63" r="1.15" fill="#15306f"/>
<circle cx="103.54" cy="438.47" r="1.15" fill="#15306f"/>
<circle cx="100.59" cy="440.79" r="1.15" fill="#15306f"/>
<circle cx="122.72" cy="398.96" r="1.15" fill="#15306f"/>
<circle cx="122.72" cy="411.60" r="1.15" fill="#15306f"/>
<circle cx="119.56" cy="414.45" r="1.15" fill="#15306f"/>
<circle cx="122.72" cy="415.50" r="1.15" fill="#15306f"/>
<circle cx="125.67" cy="414.03" r="1.15" fill="#15306f"/>
<circle cx="116.61" cy="421.61" r="1.15" fill="#15306f"/>
<circle cx="121.14" cy="420.35" r="1.15" fill="#15306f"/>
<circle cx="124.30" cy="420.03" r="1.15" fill="#15306f"/>
<circle cx="119.56" cy="423.19" r="1.15" fill="#15306f"/>
<circle cx="122.72" cy="423.93" r="1.15" fill="#15306f"/>
<circle cx="125.67" cy="422.67" r="1.15" fill="#15306f"/>
<circle cx="128.83" cy="421.40" r="1.15" fill="#15306f"/>
<circle cx="121.14" cy="427.41" r="1.15" fill="#15306f"/>
<circle cx="124.30" cy="426.35" r="1.15" fill="#15306f"/>
<circle cx="118.29" cy="429.52" r="1.15" fill="#15306f"/>
<circle cx="121.14" cy="430.04" r="1.15" fill="#15306f"/>
<circle cx="124.30" cy="429.52" r="1.15" fill="#15306f"/>
<circle cx="127.46" cy="429.83" r="1.15" fill="#15306f"/>
<circle cx="121.14" cy="432.36" r="1.15" fill="#15306f"/>
<circle cx="124.30" cy="431.62" r="1.15" fill="#15306f"/>
<circle cx="118.29" cy="434.47" r="1.15" fill="#15306f"/>
<circle cx="121.14" cy="435.31" r="1.15" fill="#15306f"/>
<circle cx="124.30" cy="434.78" r="1.15" fill="#15306f"/>
<circle cx="127.15" cy="434.26" r="1.15" fill="#15306f"/>
<line x1="93.0" y1="431.80" x2="108.0" y2="431.80" stroke="#222" stroke-width="1.15"/>
<line x1="115.1" y1="426.70" x2="130.1" y2="426.70" stroke="#222" stroke-width="1.15"/>
<text transform="translate(170.50,377.50) scale(0.92,1)" font-size="7.8" font-style="italic" text-anchor="middle" fill="#222">ANGPT2</text>
<line x1="148.4" y1="445.10" x2="193.0" y2="445.10" stroke="#e05574" stroke-width="0.72" stroke-dasharray="0.95,0.4"/>
<path d="M148.40,382.50V449.40H193.00" fill="none" stroke="#3a3a3a" stroke-width="1.45"/>
<line x1="145.3" y1="449.40" x2="148.4" y2="449.40" stroke="#333" stroke-width="0.95"/>
<text x="142.8" y="451.60" font-size="6.1" text-anchor="end" fill="#555">0</text>
<line x1="145.3" y1="428.00" x2="148.4" y2="428.00" stroke="#333" stroke-width="0.95"/>
<text x="142.8" y="430.20" font-size="6.1" text-anchor="end" fill="#555">5</text>
<line x1="145.3" y1="406.50" x2="148.4" y2="406.50" stroke="#333" stroke-width="0.95"/>
<text x="142.8" y="408.70" font-size="6.1" text-anchor="end" fill="#555">10</text>
<line x1="145.3" y1="385.10" x2="148.4" y2="385.10" stroke="#333" stroke-width="0.95"/>
<text x="142.8" y="387.30" font-size="6.1" text-anchor="end" fill="#555">15</text>
<line x1="159.4" y1="449.40" x2="159.4" y2="452.00" stroke="#2e2e2e" stroke-width="0.9"/>
<text x="159.4" y="459.7" font-size="5.3" text-anchor="middle" fill="#333">TNF/LT</text>
<line x1="181.6" y1="449.40" x2="181.6" y2="452.00" stroke="#2e2e2e" stroke-width="0.9"/>
<text x="181.6" y="459.7" font-size="5.3" text-anchor="middle" fill="#333">EVs</text>
<path d="M159.2,384.8V387.6M159.2,386.2H181.5M181.5,384.8V387.6" fill="none" stroke="#444" stroke-width="0.9"/>
<rect x="167.30" y="383.25" width="1.3" height="1.3" fill="#555"/>
<rect x="169.70" y="383.25" width="1.3" height="1.3" fill="#555"/>
<rect x="172.10" y="383.25" width="1.3" height="1.3" fill="#555"/>
<circle cx="159.78" cy="443.89" r="1.15" fill="#15306f"/>
<circle cx="153.89" cy="446.84" r="1.15" fill="#15306f"/>
<circle cx="156.83" cy="447.43" r="1.15" fill="#15306f"/>
<circle cx="159.78" cy="447.19" r="1.15" fill="#15306f"/>
<circle cx="162.72" cy="446.84" r="1.15" fill="#15306f"/>
<circle cx="155.07" cy="448.60" r="1.15" fill="#15306f"/>
<circle cx="158.01" cy="448.84" r="1.15" fill="#15306f"/>
<circle cx="160.96" cy="448.60" r="1.15" fill="#15306f"/>
<circle cx="164.49" cy="448.60" r="1.15" fill="#15306f"/>
<circle cx="181.80" cy="391.12" r="1.15" fill="#15306f"/>
<circle cx="181.80" cy="408.32" r="1.15" fill="#15306f"/>
<circle cx="181.80" cy="411.50" r="1.15" fill="#15306f"/>
<circle cx="181.80" cy="422.10" r="1.15" fill="#15306f"/>
<circle cx="180.39" cy="431.88" r="1.15" fill="#15306f"/>
<circle cx="183.34" cy="433.06" r="1.15" fill="#15306f"/>
<circle cx="177.21" cy="440.12" r="1.15" fill="#15306f"/>
<circle cx="180.16" cy="440.36" r="1.15" fill="#15306f"/>
<circle cx="183.10" cy="440.12" r="1.15" fill="#15306f"/>
<circle cx="185.93" cy="439.42" r="1.15" fill="#15306f"/>
<circle cx="175.68" cy="442.13" r="1.15" fill="#15306f"/>
<circle cx="178.62" cy="442.71" r="1.15" fill="#15306f"/>
<circle cx="181.80" cy="442.48" r="1.15" fill="#15306f"/>
<circle cx="184.75" cy="442.95" r="1.15" fill="#15306f"/>
<circle cx="187.81" cy="442.71" r="1.15" fill="#15306f"/>
<circle cx="175.68" cy="445.66" r="1.15" fill="#15306f"/>
<circle cx="178.86" cy="446.25" r="1.15" fill="#15306f"/>
<circle cx="181.92" cy="445.66" r="1.15" fill="#15306f"/>
<circle cx="185.10" cy="446.25" r="1.15" fill="#15306f"/>
<circle cx="188.05" cy="446.01" r="1.15" fill="#15306f"/>
<circle cx="177.21" cy="444.48" r="1.15" fill="#15306f"/>
<circle cx="183.34" cy="444.48" r="1.15" fill="#15306f"/>
<circle cx="181.92" cy="448.02" r="1.15" fill="#15306f"/>
<line x1="152.7" y1="448.40" x2="166.8" y2="448.40" stroke="#222" stroke-width="1.15"/>
<line x1="174.5" y1="442.70" x2="189.8" y2="442.70" stroke="#222" stroke-width="1.15"/>
<text transform="translate(307.40,375.60) scale(0.92,1)" font-size="7.8" font-style="italic" text-anchor="middle" fill="#222">ICAM1</text>
<line x1="284.8" y1="433.00" x2="329.5" y2="433.00" stroke="#e05574" stroke-width="0.72" stroke-dasharray="0.95,0.4"/>
<line x1="283.5" y1="444.53" x2="284.8" y2="444.53" stroke="#333" stroke-width="0.4"/>
<line x1="283.5" y1="441.63" x2="284.8" y2="441.63" stroke="#333" stroke-width="0.4"/>
<line x1="283.5" y1="439.57" x2="284.8" y2="439.57" stroke="#333" stroke-width="0.4"/>
<line x1="283.5" y1="437.97" x2="284.8" y2="437.97" stroke="#333" stroke-width="0.4"/>
<line x1="283.5" y1="436.66" x2="284.8" y2="436.66" stroke="#333" stroke-width="0.4"/>
<line x1="283.5" y1="435.56" x2="284.8" y2="435.56" stroke="#333" stroke-width="0.4"/>
<line x1="283.5" y1="434.60" x2="284.8" y2="434.60" stroke="#333" stroke-width="0.4"/>
<line x1="283.5" y1="433.75" x2="284.8" y2="433.75" stroke="#333" stroke-width="0.4"/>
<line x1="283.5" y1="428.03" x2="284.8" y2="428.03" stroke="#333" stroke-width="0.4"/>
<line x1="283.5" y1="425.13" x2="284.8" y2="425.13" stroke="#333" stroke-width="0.4"/>
<line x1="283.5" y1="423.07" x2="284.8" y2="423.07" stroke="#333" stroke-width="0.4"/>
<line x1="283.5" y1="421.47" x2="284.8" y2="421.47" stroke="#333" stroke-width="0.4"/>
<line x1="283.5" y1="420.16" x2="284.8" y2="420.16" stroke="#333" stroke-width="0.4"/>
<line x1="283.5" y1="419.06" x2="284.8" y2="419.06" stroke="#333" stroke-width="0.4"/>
<line x1="283.5" y1="418.10" x2="284.8" y2="418.10" stroke="#333" stroke-width="0.4"/>
<line x1="283.5" y1="417.25" x2="284.8" y2="417.25" stroke="#333" stroke-width="0.4"/>
<line x1="283.5" y1="411.63" x2="284.8" y2="411.63" stroke="#333" stroke-width="0.4"/>
<line x1="283.5" y1="408.73" x2="284.8" y2="408.73" stroke="#333" stroke-width="0.4"/>
<line x1="283.5" y1="406.67" x2="284.8" y2="406.67" stroke="#333" stroke-width="0.4"/>
<line x1="283.5" y1="405.07" x2="284.8" y2="405.07" stroke="#333" stroke-width="0.4"/>
<line x1="283.5" y1="403.76" x2="284.8" y2="403.76" stroke="#333" stroke-width="0.4"/>
<line x1="283.5" y1="402.66" x2="284.8" y2="402.66" stroke="#333" stroke-width="0.4"/>
<line x1="283.5" y1="401.70" x2="284.8" y2="401.70" stroke="#333" stroke-width="0.4"/>
<line x1="283.5" y1="400.85" x2="284.8" y2="400.85" stroke="#333" stroke-width="0.4"/>
<line x1="283.5" y1="395.13" x2="284.8" y2="395.13" stroke="#333" stroke-width="0.4"/>
<line x1="283.5" y1="392.23" x2="284.8" y2="392.23" stroke="#333" stroke-width="0.4"/>
<line x1="283.5" y1="390.17" x2="284.8" y2="390.17" stroke="#333" stroke-width="0.4"/>
<line x1="283.5" y1="388.57" x2="284.8" y2="388.57" stroke="#333" stroke-width="0.4"/>
<line x1="283.5" y1="387.26" x2="284.8" y2="387.26" stroke="#333" stroke-width="0.4"/>
<line x1="283.5" y1="386.16" x2="284.8" y2="386.16" stroke="#333" stroke-width="0.4"/>
<line x1="283.5" y1="385.20" x2="284.8" y2="385.20" stroke="#333" stroke-width="0.4"/>
<line x1="283.5" y1="384.35" x2="284.8" y2="384.35" stroke="#333" stroke-width="0.4"/>
<path d="M284.80,381.40V449.50H329.50" fill="none" stroke="#3a3a3a" stroke-width="1.45"/>
<line x1="281.7" y1="449.50" x2="284.8" y2="449.50" stroke="#333" stroke-width="0.95"/>
<text x="280.6" y="451.40" font-size="5.0" text-anchor="end" fill="#555">10<tspan dy="-2.0" font-size="3.7">-1</tspan></text>
<line x1="281.7" y1="433.00" x2="284.8" y2="433.00" stroke="#333" stroke-width="0.95"/>
<text x="280.6" y="434.90" font-size="5.0" text-anchor="end" fill="#555">10<tspan dy="-2.0" font-size="3.7">0</tspan></text>
<line x1="281.7" y1="416.60" x2="284.8" y2="416.60" stroke="#333" stroke-width="0.95"/>
<text x="280.6" y="418.50" font-size="5.0" text-anchor="end" fill="#555">10<tspan dy="-2.0" font-size="3.7">1</tspan></text>
<line x1="281.7" y1="400.10" x2="284.8" y2="400.10" stroke="#333" stroke-width="0.95"/>
<text x="280.6" y="402.00" font-size="5.0" text-anchor="end" fill="#555">10<tspan dy="-2.0" font-size="3.7">2</tspan></text>
<line x1="281.7" y1="383.40" x2="284.8" y2="383.40" stroke="#333" stroke-width="0.95"/>
<text x="280.6" y="385.30" font-size="5.0" text-anchor="end" fill="#555">10<tspan dy="-2.0" font-size="3.7">3</tspan></text>
<line x1="296.3" y1="449.50" x2="296.3" y2="452.10" stroke="#2e2e2e" stroke-width="0.9"/>
<text x="296.3" y="459.7" font-size="5.3" text-anchor="middle" fill="#333">TNF/LT</text>
<line x1="318.5" y1="449.50" x2="318.5" y2="452.10" stroke="#2e2e2e" stroke-width="0.9"/>
<text x="318.5" y="459.7" font-size="5.3" text-anchor="middle" fill="#333">EVs</text>
<path d="M296.0,387.3V390.1M296.0,388.7H319.6M319.6,387.3V390.1" fill="none" stroke="#444" stroke-width="0.9"/>
<rect x="304.75" y="385.75" width="1.3" height="1.3" fill="#555"/>
<rect x="307.15" y="385.75" width="1.3" height="1.3" fill="#555"/>
<rect x="309.55" y="385.75" width="1.3" height="1.3" fill="#555"/>
<circle cx="294.49" cy="399.04" r="1.15" fill="#15306f"/>
<circle cx="297.66" cy="398.86" r="1.15" fill="#15306f"/>
<circle cx="291.33" cy="402.21" r="1.15" fill="#15306f"/>
<circle cx="294.49" cy="404.01" r="1.15" fill="#15306f"/>
<circle cx="297.66" cy="404.29" r="1.15" fill="#15306f"/>
<circle cx="301.09" cy="403.56" r="1.15" fill="#15306f"/>
<circle cx="297.84" cy="406.73" r="1.15" fill="#15306f"/>
<circle cx="294.49" cy="408.72" r="1.15" fill="#15306f"/>
<circle cx="295.85" cy="403.56" r="1.15" fill="#15306f"/>
<circle cx="313.75" cy="421.83" r="1.15" fill="#15306f"/>
<circle cx="316.65" cy="423.00" r="1.15" fill="#15306f"/>
<circle cx="320.26" cy="421.83" r="1.15" fill="#15306f"/>
<circle cx="323.43" cy="420.56" r="1.15" fill="#15306f"/>
<circle cx="312.12" cy="424.81" r="1.15" fill="#15306f"/>
<circle cx="315.56" cy="425.26" r="1.15" fill="#15306f"/>
<circle cx="318.63" cy="423.91" r="1.15" fill="#15306f"/>
<circle cx="321.62" cy="424.81" r="1.15" fill="#15306f"/>
<circle cx="324.78" cy="424.81" r="1.15" fill="#15306f"/>
<circle cx="313.75" cy="428.88" r="1.15" fill="#15306f"/>
<circle cx="316.65" cy="427.97" r="1.15" fill="#15306f"/>
<circle cx="319.81" cy="427.07" r="1.15" fill="#15306f"/>
<circle cx="322.97" cy="427.52" r="1.15" fill="#15306f"/>
<circle cx="313.75" cy="431.14" r="1.15" fill="#15306f"/>
<circle cx="316.65" cy="430.69" r="1.15" fill="#15306f"/>
<circle cx="319.81" cy="430.24" r="1.15" fill="#15306f"/>
<circle cx="322.97" cy="429.78" r="1.15" fill="#15306f"/>
<circle cx="317.10" cy="432.50" r="1.15" fill="#15306f"/>
<circle cx="320.08" cy="433.85" r="1.15" fill="#15306f"/>
<circle cx="323.43" cy="431.77" r="1.15" fill="#15306f"/>
<circle cx="318.63" cy="436.84" r="1.15" fill="#15306f"/>
<line x1="288.4" y1="404.00" x2="303.5" y2="404.00" stroke="#222" stroke-width="1.15"/>
<line x1="311.2" y1="427.30" x2="326.1" y2="427.30" stroke="#222" stroke-width="1.15"/>
<text transform="translate(267.5,415.4) rotate(-90)" font-size="6.8" text-anchor="middle" fill="#444">2<tspan dy="-2.6" font-size="4.9">-ΔΔCt</tspan></text>
<text transform="translate(366.80,375.60) scale(0.92,1)" font-size="7.8" font-style="italic" text-anchor="middle" fill="#222">VCAM1</text>
<line x1="344.2" y1="445.00" x2="389.5" y2="445.00" stroke="#e05574" stroke-width="0.72" stroke-dasharray="0.95,0.4"/>
<path d="M344.20,381.20V449.40H389.50" fill="none" stroke="#3a3a3a" stroke-width="1.45"/>
<line x1="341.1" y1="449.40" x2="344.2" y2="449.40" stroke="#333" stroke-width="0.95"/>
<text x="338.6" y="451.60" font-size="6.1" text-anchor="end" fill="#555">0</text>
<line x1="341.1" y1="427.30" x2="344.2" y2="427.30" stroke="#333" stroke-width="0.95"/>
<text x="338.6" y="429.50" font-size="6.1" text-anchor="end" fill="#555">5</text>
<line x1="341.1" y1="405.10" x2="344.2" y2="405.10" stroke="#333" stroke-width="0.95"/>
<text x="338.6" y="407.30" font-size="6.1" text-anchor="end" fill="#555">10</text>
<line x1="341.1" y1="382.90" x2="344.2" y2="382.90" stroke="#333" stroke-width="0.95"/>
<text x="338.6" y="385.10" font-size="6.1" text-anchor="end" fill="#555">15</text>
<line x1="355.7" y1="449.40" x2="355.7" y2="452.00" stroke="#2e2e2e" stroke-width="0.9"/>
<text x="355.7" y="459.7" font-size="5.3" text-anchor="middle" fill="#333">TNF/LT</text>
<line x1="377.9" y1="449.40" x2="377.9" y2="452.00" stroke="#2e2e2e" stroke-width="0.9"/>
<text x="377.9" y="459.7" font-size="5.3" text-anchor="middle" fill="#333">EVs</text>
<path d="M355.2,387.2V390.0M355.2,388.6H378.5M378.5,387.2V390.0" fill="none" stroke="#444" stroke-width="0.9"/>
<rect x="363.80" y="385.65" width="1.3" height="1.3" fill="#555"/>
<rect x="366.20" y="385.65" width="1.3" height="1.3" fill="#555"/>
<rect x="368.60" y="385.65" width="1.3" height="1.3" fill="#555"/>
<circle cx="355.18" cy="393.59" r="1.15" fill="#15306f"/>
<circle cx="355.18" cy="409.71" r="1.15" fill="#15306f"/>
<circle cx="355.18" cy="429.47" r="1.15" fill="#15306f"/>
<circle cx="356.94" cy="432.29" r="1.15" fill="#15306f"/>
<circle cx="354.00" cy="433.82" r="1.15" fill="#15306f"/>
<circle cx="355.41" cy="437.00" r="1.15" fill="#15306f"/>
<circle cx="352.00" cy="438.88" r="1.15" fill="#15306f"/>
<circle cx="358.35" cy="439.71" r="1.15" fill="#15306f"/>
<circle cx="355.18" cy="441.12" r="1.15" fill="#15306f"/>
<circle cx="377.88" cy="438.88" r="1.15" fill="#15306f"/>
<circle cx="373.41" cy="442.65" r="1.15" fill="#15306f"/>
<circle cx="376.35" cy="442.41" r="1.15" fill="#15306f"/>
<circle cx="379.29" cy="442.65" r="1.15" fill="#15306f"/>
<circle cx="382.24" cy="442.41" r="1.15" fill="#15306f"/>
<circle cx="371.65" cy="444.41" r="1.15" fill="#15306f"/>
<circle cx="374.59" cy="444.41" r="1.15" fill="#15306f"/>
<circle cx="377.53" cy="444.76" r="1.15" fill="#15306f"/>
<circle cx="380.47" cy="444.41" r="1.15" fill="#15306f"/>
<circle cx="384.00" cy="444.76" r="1.15" fill="#15306f"/>
<circle cx="372.82" cy="445.94" r="1.15" fill="#15306f"/>
<circle cx="375.76" cy="446.18" r="1.15" fill="#15306f"/>
<circle cx="378.71" cy="445.94" r="1.15" fill="#15306f"/>
<circle cx="381.65" cy="446.18" r="1.15" fill="#15306f"/>
<line x1="348.1" y1="433.80" x2="362.8" y2="433.80" stroke="#222" stroke-width="1.15"/>
<line x1="370.5" y1="444.40" x2="385.4" y2="444.40" stroke="#222" stroke-width="1.15"/>
<text transform="translate(428.50,375.60) scale(0.92,1)" font-size="7.8" font-style="italic" text-anchor="middle" fill="#222">ITGAV</text>
<line x1="405.9" y1="427.40" x2="450.5" y2="427.40" stroke="#e05574" stroke-width="0.72" stroke-dasharray="0.95,0.4"/>
<path d="M405.90,380.90V449.40H450.50" fill="none" stroke="#3a3a3a" stroke-width="1.45"/>
<line x1="402.8" y1="449.40" x2="405.9" y2="449.40" stroke="#333" stroke-width="0.95"/>
<text x="400.3" y="451.60" font-size="6.1" text-anchor="end" fill="#555">0</text>
<line x1="402.8" y1="427.30" x2="405.9" y2="427.30" stroke="#333" stroke-width="0.95"/>
<text x="400.3" y="429.50" font-size="6.1" text-anchor="end" fill="#555">1</text>
<line x1="402.8" y1="405.10" x2="405.9" y2="405.10" stroke="#333" stroke-width="0.95"/>
<text x="400.3" y="407.30" font-size="6.1" text-anchor="end" fill="#555">2</text>
<line x1="402.8" y1="383.00" x2="405.9" y2="383.00" stroke="#333" stroke-width="0.95"/>
<text x="400.3" y="385.20" font-size="6.1" text-anchor="end" fill="#555">3</text>
<line x1="417.4" y1="449.40" x2="417.4" y2="452.00" stroke="#2e2e2e" stroke-width="0.9"/>
<text x="417.4" y="459.7" font-size="5.3" text-anchor="middle" fill="#333">TNF/LT</text>
<line x1="439.6" y1="449.40" x2="439.6" y2="452.00" stroke="#2e2e2e" stroke-width="0.9"/>
<text x="439.6" y="459.7" font-size="5.3" text-anchor="middle" fill="#333">EVs</text>
<path d="M417.1,387.4V390.2M417.1,388.8H440.2M440.2,387.4V390.2" fill="none" stroke="#444" stroke-width="0.9"/>
<rect x="425.60" y="385.85" width="1.3" height="1.3" fill="#555"/>
<rect x="428.00" y="385.85" width="1.3" height="1.3" fill="#555"/>
<rect x="430.40" y="385.85" width="1.3" height="1.3" fill="#555"/>
<circle cx="416.87" cy="392.91" r="1.15" fill="#15306f"/>
<circle cx="415.28" cy="408.00" r="1.15" fill="#15306f"/>
<circle cx="418.45" cy="409.79" r="1.15" fill="#15306f"/>
<circle cx="417.08" cy="415.60" r="1.15" fill="#15306f"/>
<circle cx="419.72" cy="416.65" r="1.15" fill="#15306f"/>
<circle cx="413.91" cy="419.29" r="1.15" fill="#15306f"/>
<circle cx="417.08" cy="419.29" r="1.15" fill="#15306f"/>
<circle cx="418.66" cy="420.87" r="1.15" fill="#15306f"/>
<circle cx="415.50" cy="423.19" r="1.15" fill="#15306f"/>
<circle cx="437.97" cy="422.98" r="1.15" fill="#15306f"/>
<circle cx="441.03" cy="422.46" r="1.15" fill="#15306f"/>
<circle cx="433.43" cy="424.57" r="1.15" fill="#15306f"/>
<circle cx="436.60" cy="425.62" r="1.15" fill="#15306f"/>
<circle cx="439.76" cy="425.09" r="1.15" fill="#15306f"/>
<circle cx="442.93" cy="424.88" r="1.15" fill="#15306f"/>
<circle cx="445.88" cy="423.51" r="1.15" fill="#15306f"/>
<circle cx="435.01" cy="427.41" r="1.15" fill="#15306f"/>
<circle cx="437.97" cy="427.20" r="1.15" fill="#15306f"/>
<circle cx="441.03" cy="426.99" r="1.15" fill="#15306f"/>
<circle cx="444.19" cy="426.99" r="1.15" fill="#15306f"/>
<circle cx="437.97" cy="429.84" r="1.15" fill="#15306f"/>
<circle cx="441.35" cy="430.37" r="1.15" fill="#15306f"/>
<circle cx="433.43" cy="433.01" r="1.15" fill="#15306f"/>
<circle cx="436.60" cy="433.32" r="1.15" fill="#15306f"/>
<circle cx="439.76" cy="433.74" r="1.15" fill="#15306f"/>
<circle cx="442.72" cy="433.32" r="1.15" fill="#15306f"/>
<circle cx="445.88" cy="432.27" r="1.15" fill="#15306f"/>
<circle cx="435.01" cy="435.64" r="1.15" fill="#15306f"/>
<circle cx="437.97" cy="437.23" r="1.15" fill="#15306f"/>
<circle cx="441.35" cy="436.17" r="1.15" fill="#15306f"/>
<circle cx="444.19" cy="435.43" r="1.15" fill="#15306f"/>
<circle cx="437.97" cy="431.42" r="1.15" fill="#15306f"/>
<line x1="409.4" y1="416.90" x2="424.1" y2="416.90" stroke="#222" stroke-width="1.15"/>
<line x1="432.2" y1="429.50" x2="446.9" y2="429.50" stroke="#222" stroke-width="1.15"/>
<text transform="translate(55.40,476.90) scale(0.92,1)" font-size="7.8" font-style="italic" text-anchor="middle" fill="#222">PPARG</text>
<line x1="33.3" y1="537.30" x2="77.5" y2="537.30" stroke="#e05574" stroke-width="0.72" stroke-dasharray="0.95,0.4"/>
<path d="M33.30,483.50V550.10H77.50" fill="none" stroke="#3a3a3a" stroke-width="1.45"/>
<line x1="30.2" y1="550.10" x2="33.3" y2="550.10" stroke="#333" stroke-width="0.95"/>
<text x="27.7" y="552.30" font-size="6.1" text-anchor="end" fill="#555">0</text>
<line x1="30.2" y1="537.30" x2="33.3" y2="537.30" stroke="#333" stroke-width="0.95"/>
<text x="27.7" y="539.50" font-size="6.1" text-anchor="end" fill="#555">1</text>
<line x1="30.2" y1="524.50" x2="33.3" y2="524.50" stroke="#333" stroke-width="0.95"/>
<text x="27.7" y="526.70" font-size="6.1" text-anchor="end" fill="#555">2</text>
<line x1="30.2" y1="511.60" x2="33.3" y2="511.60" stroke="#333" stroke-width="0.95"/>
<text x="27.7" y="513.80" font-size="6.1" text-anchor="end" fill="#555">3</text>
<line x1="30.2" y1="498.70" x2="33.3" y2="498.70" stroke="#333" stroke-width="0.95"/>
<text x="27.7" y="500.90" font-size="6.1" text-anchor="end" fill="#555">4</text>
<line x1="30.2" y1="485.80" x2="33.3" y2="485.80" stroke="#333" stroke-width="0.95"/>
<text x="27.7" y="488.00" font-size="6.1" text-anchor="end" fill="#555">5</text>
<line x1="44.3" y1="550.10" x2="44.3" y2="552.70" stroke="#2e2e2e" stroke-width="0.9"/>
<text x="44.3" y="561.0" font-size="5.3" text-anchor="middle" fill="#333">TNF/LT</text>
<line x1="66.5" y1="550.10" x2="66.5" y2="552.70" stroke="#2e2e2e" stroke-width="0.9"/>
<text x="66.5" y="561.0" font-size="5.3" text-anchor="middle" fill="#333">EVs</text>
<path d="M43.5,484.5V487.3M43.5,485.9H65.9M65.9,484.5V487.3" fill="none" stroke="#444" stroke-width="0.9"/>
<rect x="51.65" y="482.95" width="1.3" height="1.3" fill="#555"/>
<rect x="54.05" y="482.95" width="1.3" height="1.3" fill="#555"/>
<rect x="56.45" y="482.95" width="1.3" height="1.3" fill="#555"/>
<circle cx="44.18" cy="534.34" r="1.15" fill="#15306f"/>
<circle cx="39.58" cy="538.95" r="1.15" fill="#15306f"/>
<circle cx="42.87" cy="539.87" r="1.15" fill="#15306f"/>
<circle cx="45.89" cy="540.26" r="1.15" fill="#15306f"/>
<circle cx="48.79" cy="538.95" r="1.15" fill="#15306f"/>
<circle cx="39.32" cy="543.82" r="1.15" fill="#15306f"/>
<circle cx="42.47" cy="544.47" r="1.15" fill="#15306f"/>
<circle cx="45.89" cy="544.21" r="1.15" fill="#15306f"/>
<circle cx="49.05" cy="543.55" r="1.15" fill="#15306f"/>
<circle cx="67.87" cy="489.87" r="1.15" fill="#15306f"/>
<circle cx="64.58" cy="492.76" r="1.15" fill="#15306f"/>
<circle cx="66.16" cy="500.13" r="1.15" fill="#15306f"/>
<circle cx="66.16" cy="508.68" r="1.15" fill="#15306f"/>
<circle cx="66.16" cy="515.26" r="1.15" fill="#15306f"/>
<circle cx="66.16" cy="518.42" r="1.15" fill="#15306f"/>
<circle cx="61.68" cy="523.16" r="1.15" fill="#15306f"/>
<circle cx="64.58" cy="522.37" r="1.15" fill="#15306f"/>
<circle cx="67.87" cy="523.16" r="1.15" fill="#15306f"/>
<circle cx="70.89" cy="524.47" r="1.15" fill="#15306f"/>
<circle cx="61.68" cy="526.05" r="1.15" fill="#15306f"/>
<circle cx="64.58" cy="526.71" r="1.15" fill="#15306f"/>
<circle cx="67.87" cy="528.42" r="1.15" fill="#15306f"/>
<circle cx="71.16" cy="528.03" r="1.15" fill="#15306f"/>
<circle cx="61.68" cy="532.63" r="1.15" fill="#15306f"/>
<circle cx="64.58" cy="532.63" r="1.15" fill="#15306f"/>
<circle cx="67.87" cy="532.37" r="1.15" fill="#15306f"/>
<circle cx="70.89" cy="533.29" r="1.15" fill="#15306f"/>
<circle cx="61.68" cy="536.32" r="1.15" fill="#15306f"/>
<circle cx="64.58" cy="535.00" r="1.15" fill="#15306f"/>
<circle cx="67.87" cy="535.26" r="1.15" fill="#15306f"/>
<circle cx="70.89" cy="535.00" r="1.15" fill="#15306f"/>
<circle cx="64.58" cy="537.89" r="1.15" fill="#15306f"/>
<circle cx="67.87" cy="536.84" r="1.15" fill="#15306f"/>
<line x1="36.7" y1="541.20" x2="51.7" y2="541.20" stroke="#222" stroke-width="1.15"/>
<line x1="58.7" y1="528.00" x2="73.5" y2="528.00" stroke="#222" stroke-width="1.15"/>
<text transform="translate(16.0,516.8) rotate(-90)" font-size="6.8" text-anchor="middle" fill="#444">2<tspan dy="-2.6" font-size="4.9">-ΔΔCt</tspan></text>
<text transform="translate(111.20,476.90) scale(0.92,1)" font-size="7.8" font-style="italic" text-anchor="middle" fill="#222">EBF1</text>
<line x1="89.1" y1="534.20" x2="134.0" y2="534.20" stroke="#e05574" stroke-width="0.72" stroke-dasharray="0.95,0.4"/>
<path d="M89.10,483.10V550.20H134.00" fill="none" stroke="#3a3a3a" stroke-width="1.45"/>
<line x1="86.0" y1="550.20" x2="89.1" y2="550.20" stroke="#333" stroke-width="0.95"/>
<text x="83.5" y="552.40" font-size="6.1" text-anchor="end" fill="#555">0</text>
<line x1="86.0" y1="534.10" x2="89.1" y2="534.10" stroke="#333" stroke-width="0.95"/>
<text x="83.5" y="536.30" font-size="6.1" text-anchor="end" fill="#555">1</text>
<line x1="86.0" y1="518.10" x2="89.1" y2="518.10" stroke="#333" stroke-width="0.95"/>
<text x="83.5" y="520.30" font-size="6.1" text-anchor="end" fill="#555">2</text>
<line x1="86.0" y1="502.10" x2="89.1" y2="502.10" stroke="#333" stroke-width="0.95"/>
<text x="83.5" y="504.30" font-size="6.1" text-anchor="end" fill="#555">3</text>
<line x1="86.0" y1="486.10" x2="89.1" y2="486.10" stroke="#333" stroke-width="0.95"/>
<text x="83.5" y="488.30" font-size="6.1" text-anchor="end" fill="#555">4</text>
<line x1="100.1" y1="550.20" x2="100.1" y2="552.80" stroke="#2e2e2e" stroke-width="0.9"/>
<text x="100.1" y="561.0" font-size="5.3" text-anchor="middle" fill="#333">TNF/LT</text>
<line x1="122.3" y1="550.20" x2="122.3" y2="552.80" stroke="#2e2e2e" stroke-width="0.9"/>
<text x="122.3" y="561.0" font-size="5.3" text-anchor="middle" fill="#333">EVs</text>
<path d="M100.1,488.7V491.5M100.1,490.1H122.4M122.4,488.7V491.5" fill="none" stroke="#444" stroke-width="0.9"/>
<rect x="108.20" y="487.15" width="1.3" height="1.3" fill="#555"/>
<rect x="110.60" y="487.15" width="1.3" height="1.3" fill="#555"/>
<rect x="113.00" y="487.15" width="1.3" height="1.3" fill="#555"/>
<circle cx="96.08" cy="540.27" r="1.15" fill="#15306f"/>
<circle cx="99.18" cy="541.15" r="1.15" fill="#15306f"/>
<circle cx="102.10" cy="541.15" r="1.15" fill="#15306f"/>
<circle cx="105.11" cy="540.53" r="1.15" fill="#15306f"/>
<circle cx="94.49" cy="542.48" r="1.15" fill="#15306f"/>
<circle cx="106.70" cy="543.19" r="1.15" fill="#15306f"/>
<circle cx="97.67" cy="544.07" r="1.15" fill="#15306f"/>
<circle cx="100.50" cy="545.31" r="1.15" fill="#15306f"/>
<circle cx="103.60" cy="544.69" r="1.15" fill="#15306f"/>
<circle cx="122.63" cy="504.16" r="1.15" fill="#15306f"/>
<circle cx="122.63" cy="515.93" r="1.15" fill="#15306f"/>
<circle cx="119.53" cy="520.80" r="1.15" fill="#15306f"/>
<circle cx="122.63" cy="520.18" r="1.15" fill="#15306f"/>
<circle cx="122.63" cy="523.45" r="1.15" fill="#15306f"/>
<circle cx="125.73" cy="522.57" r="1.15" fill="#15306f"/>
<circle cx="116.43" cy="527.43" r="1.15" fill="#15306f"/>
<circle cx="119.53" cy="528.76" r="1.15" fill="#15306f"/>
<circle cx="121.04" cy="526.37" r="1.15" fill="#15306f"/>
<circle cx="124.22" cy="526.73" r="1.15" fill="#15306f"/>
<circle cx="128.82" cy="528.14" r="1.15" fill="#15306f"/>
<circle cx="125.73" cy="530.09" r="1.15" fill="#15306f"/>
<circle cx="122.63" cy="530.53" r="1.15" fill="#15306f"/>
<circle cx="119.53" cy="532.30" r="1.15" fill="#15306f"/>
<circle cx="122.63" cy="532.30" r="1.15" fill="#15306f"/>
<circle cx="116.43" cy="534.07" r="1.15" fill="#15306f"/>
<circle cx="119.53" cy="534.51" r="1.15" fill="#15306f"/>
<circle cx="122.63" cy="535.22" r="1.15" fill="#15306f"/>
<circle cx="125.73" cy="534.07" r="1.15" fill="#15306f"/>
<circle cx="127.94" cy="533.45" r="1.15" fill="#15306f"/>
<circle cx="121.04" cy="539.82" r="1.15" fill="#15306f"/>
<circle cx="124.22" cy="538.76" r="1.15" fill="#15306f"/>
<circle cx="118.20" cy="532.92" r="1.15" fill="#15306f"/>
<line x1="93.0" y1="542.50" x2="108.0" y2="542.50" stroke="#222" stroke-width="1.15"/>
<line x1="115.1" y1="531.40" x2="130.2" y2="531.40" stroke="#222" stroke-width="1.15"/>
<text transform="translate(170.60,476.90) scale(0.92,1)" font-size="7.8" font-style="italic" text-anchor="middle" fill="#222">RUNX2</text>
<line x1="148.5" y1="534.30" x2="193.0" y2="534.30" stroke="#e05574" stroke-width="0.72" stroke-dasharray="0.95,0.4"/>
<path d="M148.50,483.10V550.30H193.00" fill="none" stroke="#3a3a3a" stroke-width="1.45"/>
<line x1="145.4" y1="550.30" x2="148.5" y2="550.30" stroke="#333" stroke-width="0.95"/>
<text x="142.9" y="552.50" font-size="6.1" text-anchor="end" fill="#555">0</text>
<line x1="145.4" y1="534.20" x2="148.5" y2="534.20" stroke="#333" stroke-width="0.95"/>
<text x="142.9" y="536.40" font-size="6.1" text-anchor="end" fill="#555">1</text>
<line x1="145.4" y1="518.20" x2="148.5" y2="518.20" stroke="#333" stroke-width="0.95"/>
<text x="142.9" y="520.40" font-size="6.1" text-anchor="end" fill="#555">2</text>
<line x1="145.4" y1="502.20" x2="148.5" y2="502.20" stroke="#333" stroke-width="0.95"/>
<text x="142.9" y="504.40" font-size="6.1" text-anchor="end" fill="#555">3</text>
<line x1="145.4" y1="486.10" x2="148.5" y2="486.10" stroke="#333" stroke-width="0.95"/>
<text x="142.9" y="488.30" font-size="6.1" text-anchor="end" fill="#555">4</text>
<line x1="159.5" y1="550.30" x2="159.5" y2="552.90" stroke="#2e2e2e" stroke-width="0.9"/>
<text x="159.5" y="561.0" font-size="5.3" text-anchor="middle" fill="#333">TNF/LT</text>
<line x1="181.7" y1="550.30" x2="181.7" y2="552.90" stroke="#2e2e2e" stroke-width="0.9"/>
<text x="181.7" y="561.0" font-size="5.3" text-anchor="middle" fill="#333">EVs</text>
<path d="M159.0,487.3V490.1M159.0,488.7H182.4M182.4,487.3V490.1" fill="none" stroke="#444" stroke-width="0.9"/>
<rect x="167.65" y="485.75" width="1.3" height="1.3" fill="#555"/>
<rect x="170.05" y="485.75" width="1.3" height="1.3" fill="#555"/>
<rect x="172.45" y="485.75" width="1.3" height="1.3" fill="#555"/>
<circle cx="158.24" cy="537.36" r="1.15" fill="#15306f"/>
<circle cx="155.26" cy="538.30" r="1.15" fill="#15306f"/>
<circle cx="161.50" cy="538.02" r="1.15" fill="#15306f"/>
<circle cx="164.57" cy="538.30" r="1.15" fill="#15306f"/>
<circle cx="156.85" cy="539.69" r="1.15" fill="#15306f"/>
<circle cx="159.92" cy="538.95" r="1.15" fill="#15306f"/>
<circle cx="162.90" cy="540.62" r="1.15" fill="#15306f"/>
<circle cx="159.92" cy="543.23" r="1.15" fill="#15306f"/>
<circle cx="153.77" cy="538.58" r="1.15" fill="#15306f"/>
<circle cx="178.73" cy="500.59" r="1.15" fill="#15306f"/>
<circle cx="181.99" cy="501.70" r="1.15" fill="#15306f"/>
<circle cx="185.06" cy="500.40" r="1.15" fill="#15306f"/>
<circle cx="183.38" cy="503.85" r="1.15" fill="#15306f"/>
<circle cx="180.12" cy="505.71" r="1.15" fill="#15306f"/>
<circle cx="181.71" cy="512.88" r="1.15" fill="#15306f"/>
<circle cx="183.38" cy="515.67" r="1.15" fill="#15306f"/>
<circle cx="177.05" cy="518.09" r="1.15" fill="#15306f"/>
<circle cx="180.12" cy="517.35" r="1.15" fill="#15306f"/>
<circle cx="180.12" cy="519.02" r="1.15" fill="#15306f"/>
<circle cx="186.18" cy="519.02" r="1.15" fill="#15306f"/>
<circle cx="183.20" cy="521.35" r="1.15" fill="#15306f"/>
<circle cx="177.05" cy="524.80" r="1.15" fill="#15306f"/>
<circle cx="180.12" cy="525.91" r="1.15" fill="#15306f"/>
<circle cx="183.38" cy="525.91" r="1.15" fill="#15306f"/>
<circle cx="186.36" cy="523.86" r="1.15" fill="#15306f"/>
<circle cx="175.75" cy="527.59" r="1.15" fill="#15306f"/>
<circle cx="178.91" cy="528.99" r="1.15" fill="#15306f"/>
<circle cx="181.99" cy="529.64" r="1.15" fill="#15306f"/>
<circle cx="185.06" cy="528.71" r="1.15" fill="#15306f"/>
<circle cx="188.04" cy="527.12" r="1.15" fill="#15306f"/>
<circle cx="175.75" cy="531.31" r="1.15" fill="#15306f"/>
<circle cx="178.91" cy="532.06" r="1.15" fill="#15306f"/>
<circle cx="181.99" cy="532.99" r="1.15" fill="#15306f"/>
<circle cx="185.06" cy="532.24" r="1.15" fill="#15306f"/>
<circle cx="188.04" cy="531.50" r="1.15" fill="#15306f"/>
<line x1="152.2" y1="538.60" x2="167.1" y2="538.60" stroke="#222" stroke-width="1.15"/>
<line x1="174.5" y1="524.30" x2="189.4" y2="524.30" stroke="#222" stroke-width="1.15"/>
<text transform="translate(234.10,476.90) scale(0.92,1)" font-size="7.8" font-style="italic" text-anchor="middle" fill="#222">SP7</text>
<line x1="212.0" y1="529.20" x2="256.0" y2="529.20" stroke="#e05574" stroke-width="0.72" stroke-dasharray="0.95,0.4"/>
<line x1="210.7" y1="547.28" x2="212.0" y2="547.28" stroke="#333" stroke-width="0.4"/>
<line x1="210.7" y1="545.40" x2="212.0" y2="545.40" stroke="#333" stroke-width="0.4"/>
<line x1="210.7" y1="544.07" x2="212.0" y2="544.07" stroke="#333" stroke-width="0.4"/>
<line x1="210.7" y1="543.04" x2="212.0" y2="543.04" stroke="#333" stroke-width="0.4"/>
<line x1="210.7" y1="542.19" x2="212.0" y2="542.19" stroke="#333" stroke-width="0.4"/>
<line x1="210.7" y1="541.47" x2="212.0" y2="541.47" stroke="#333" stroke-width="0.4"/>
<line x1="210.7" y1="540.85" x2="212.0" y2="540.85" stroke="#333" stroke-width="0.4"/>
<line x1="210.7" y1="540.31" x2="212.0" y2="540.31" stroke="#333" stroke-width="0.4"/>
<line x1="210.7" y1="536.58" x2="212.0" y2="536.58" stroke="#333" stroke-width="0.4"/>
<line x1="210.7" y1="534.70" x2="212.0" y2="534.70" stroke="#333" stroke-width="0.4"/>
<line x1="210.7" y1="533.37" x2="212.0" y2="533.37" stroke="#333" stroke-width="0.4"/>
<line x1="210.7" y1="532.34" x2="212.0" y2="532.34" stroke="#333" stroke-width="0.4"/>
<line x1="210.7" y1="531.49" x2="212.0" y2="531.49" stroke="#333" stroke-width="0.4"/>
<line x1="210.7" y1="530.77" x2="212.0" y2="530.77" stroke="#333" stroke-width="0.4"/>
<line x1="210.7" y1="530.15" x2="212.0" y2="530.15" stroke="#333" stroke-width="0.4"/>
<line x1="210.7" y1="529.61" x2="212.0" y2="529.61" stroke="#333" stroke-width="0.4"/>
<line x1="210.7" y1="525.98" x2="212.0" y2="525.98" stroke="#333" stroke-width="0.4"/>
<line x1="210.7" y1="524.10" x2="212.0" y2="524.10" stroke="#333" stroke-width="0.4"/>
<line x1="210.7" y1="522.77" x2="212.0" y2="522.77" stroke="#333" stroke-width="0.4"/>
<line x1="210.7" y1="521.74" x2="212.0" y2="521.74" stroke="#333" stroke-width="0.4"/>
<line x1="210.7" y1="520.89" x2="212.0" y2="520.89" stroke="#333" stroke-width="0.4"/>
<line x1="210.7" y1="520.17" x2="212.0" y2="520.17" stroke="#333" stroke-width="0.4"/>
<line x1="210.7" y1="519.55" x2="212.0" y2="519.55" stroke="#333" stroke-width="0.4"/>
<line x1="210.7" y1="519.01" x2="212.0" y2="519.01" stroke="#333" stroke-width="0.4"/>
<line x1="210.7" y1="515.28" x2="212.0" y2="515.28" stroke="#333" stroke-width="0.4"/>
<line x1="210.7" y1="513.40" x2="212.0" y2="513.40" stroke="#333" stroke-width="0.4"/>
<line x1="210.7" y1="512.07" x2="212.0" y2="512.07" stroke="#333" stroke-width="0.4"/>
<line x1="210.7" y1="511.04" x2="212.0" y2="511.04" stroke="#333" stroke-width="0.4"/>
<line x1="210.7" y1="510.19" x2="212.0" y2="510.19" stroke="#333" stroke-width="0.4"/>
<line x1="210.7" y1="509.47" x2="212.0" y2="509.47" stroke="#333" stroke-width="0.4"/>
<line x1="210.7" y1="508.85" x2="212.0" y2="508.85" stroke="#333" stroke-width="0.4"/>
<line x1="210.7" y1="508.31" x2="212.0" y2="508.31" stroke="#333" stroke-width="0.4"/>
<line x1="210.7" y1="504.58" x2="212.0" y2="504.58" stroke="#333" stroke-width="0.4"/>
<line x1="210.7" y1="502.70" x2="212.0" y2="502.70" stroke="#333" stroke-width="0.4"/>
<line x1="210.7" y1="501.37" x2="212.0" y2="501.37" stroke="#333" stroke-width="0.4"/>
<line x1="210.7" y1="500.34" x2="212.0" y2="500.34" stroke="#333" stroke-width="0.4"/>
<line x1="210.7" y1="499.49" x2="212.0" y2="499.49" stroke="#333" stroke-width="0.4"/>
<line x1="210.7" y1="498.77" x2="212.0" y2="498.77" stroke="#333" stroke-width="0.4"/>
<line x1="210.7" y1="498.15" x2="212.0" y2="498.15" stroke="#333" stroke-width="0.4"/>
<line x1="210.7" y1="497.61" x2="212.0" y2="497.61" stroke="#333" stroke-width="0.4"/>
<line x1="210.7" y1="493.98" x2="212.0" y2="493.98" stroke="#333" stroke-width="0.4"/>
<line x1="210.7" y1="492.10" x2="212.0" y2="492.10" stroke="#333" stroke-width="0.4"/>
<line x1="210.7" y1="490.77" x2="212.0" y2="490.77" stroke="#333" stroke-width="0.4"/>
<line x1="210.7" y1="489.74" x2="212.0" y2="489.74" stroke="#333" stroke-width="0.4"/>
<line x1="210.7" y1="488.89" x2="212.0" y2="488.89" stroke="#333" stroke-width="0.4"/>
<line x1="210.7" y1="488.17" x2="212.0" y2="488.17" stroke="#333" stroke-width="0.4"/>
<line x1="210.7" y1="487.55" x2="212.0" y2="487.55" stroke="#333" stroke-width="0.4"/>
<line x1="210.7" y1="487.01" x2="212.0" y2="487.01" stroke="#333" stroke-width="0.4"/>
<path d="M212.00,483.10V550.50H256.00" fill="none" stroke="#3a3a3a" stroke-width="1.45"/>
<line x1="208.9" y1="550.50" x2="212.0" y2="550.50" stroke="#333" stroke-width="0.95"/>
<text x="207.8" y="552.40" font-size="5.0" text-anchor="end" fill="#555">10<tspan dy="-2.0" font-size="3.7">-2</tspan></text>
<line x1="208.9" y1="539.80" x2="212.0" y2="539.80" stroke="#333" stroke-width="0.95"/>
<text x="207.8" y="541.70" font-size="5.0" text-anchor="end" fill="#555">10<tspan dy="-2.0" font-size="3.7">-1</tspan></text>
<line x1="208.9" y1="529.20" x2="212.0" y2="529.20" stroke="#333" stroke-width="0.95"/>
<text x="207.8" y="531.10" font-size="5.0" text-anchor="end" fill="#555">10<tspan dy="-2.0" font-size="3.7">0</tspan></text>
<line x1="208.9" y1="518.50" x2="212.0" y2="518.50" stroke="#333" stroke-width="0.95"/>
<text x="207.8" y="520.40" font-size="5.0" text-anchor="end" fill="#555">10<tspan dy="-2.0" font-size="3.7">1</tspan></text>
<line x1="208.9" y1="507.80" x2="212.0" y2="507.80" stroke="#333" stroke-width="0.95"/>
<text x="207.8" y="509.70" font-size="5.0" text-anchor="end" fill="#555">10<tspan dy="-2.0" font-size="3.7">2</tspan></text>
<line x1="208.9" y1="497.20" x2="212.0" y2="497.20" stroke="#333" stroke-width="0.95"/>
<text x="207.8" y="499.10" font-size="5.0" text-anchor="end" fill="#555">10<tspan dy="-2.0" font-size="3.7">3</tspan></text>
<line x1="208.9" y1="486.50" x2="212.0" y2="486.50" stroke="#333" stroke-width="0.95"/>
<text x="207.8" y="488.40" font-size="5.0" text-anchor="end" fill="#555">10<tspan dy="-2.0" font-size="3.7">4</tspan></text>
<line x1="223.0" y1="550.50" x2="223.0" y2="553.10" stroke="#2e2e2e" stroke-width="0.9"/>
<text x="223.0" y="561.0" font-size="5.3" text-anchor="middle" fill="#333">TNF/LT</text>
<line x1="245.2" y1="550.50" x2="245.2" y2="553.10" stroke="#2e2e2e" stroke-width="0.9"/>
<text x="245.2" y="561.0" font-size="5.3" text-anchor="middle" fill="#333">EVs</text>
<path d="M223.4,489.1V491.9M223.4,490.5H245.4M245.4,489.1V491.9" fill="none" stroke="#444" stroke-width="0.9"/>
<rect x="231.35" y="487.55" width="1.3" height="1.3" fill="#555"/>
<rect x="233.75" y="487.55" width="1.3" height="1.3" fill="#555"/>
<rect x="236.15" y="487.55" width="1.3" height="1.3" fill="#555"/>
<circle cx="221.28" cy="523.23" r="1.15" fill="#15306f"/>
<circle cx="224.45" cy="524.61" r="1.15" fill="#15306f"/>
<circle cx="224.45" cy="526.93" r="1.15" fill="#15306f"/>
<circle cx="221.28" cy="528.19" r="1.15" fill="#15306f"/>
<circle cx="221.28" cy="539.06" r="1.15" fill="#15306f"/>
<circle cx="224.45" cy="539.38" r="1.15" fill="#15306f"/>
<circle cx="219.60" cy="541.49" r="1.15" fill="#15306f"/>
<circle cx="222.76" cy="542.75" r="1.15" fill="#15306f"/>
<circle cx="225.93" cy="541.49" r="1.15" fill="#15306f"/>
<circle cx="245.02" cy="496.86" r="1.15" fill="#15306f"/>
<circle cx="242.07" cy="500.23" r="1.15" fill="#15306f"/>
<circle cx="248.08" cy="500.02" r="1.15" fill="#15306f"/>
<circle cx="245.02" cy="502.87" r="1.15" fill="#15306f"/>
<circle cx="246.29" cy="507.09" r="1.15" fill="#15306f"/>
<circle cx="243.44" cy="509.52" r="1.15" fill="#15306f"/>
<circle cx="240.28" cy="511.10" r="1.15" fill="#15306f"/>
<circle cx="246.61" cy="511.95" r="1.15" fill="#15306f"/>
<circle cx="249.46" cy="511.31" r="1.15" fill="#15306f"/>
<circle cx="243.44" cy="512.68" r="1.15" fill="#15306f"/>
<circle cx="240.28" cy="515.11" r="1.15" fill="#15306f"/>
<circle cx="243.44" cy="515.32" r="1.15" fill="#15306f"/>
<circle cx="246.61" cy="514.06" r="1.15" fill="#15306f"/>
<circle cx="249.46" cy="514.79" r="1.15" fill="#15306f"/>
<circle cx="240.28" cy="517.64" r="1.15" fill="#15306f"/>
<circle cx="243.44" cy="517.96" r="1.15" fill="#15306f"/>
<circle cx="246.61" cy="517.22" r="1.15" fill="#15306f"/>
<circle cx="249.46" cy="517.43" r="1.15" fill="#15306f"/>
<circle cx="240.28" cy="519.54" r="1.15" fill="#15306f"/>
<circle cx="243.44" cy="520.07" r="1.15" fill="#15306f"/>
<circle cx="246.61" cy="520.60" r="1.15" fill="#15306f"/>
<circle cx="249.46" cy="519.75" r="1.15" fill="#15306f"/>
<circle cx="246.61" cy="521.97" r="1.15" fill="#15306f"/>
<circle cx="243.44" cy="524.29" r="1.15" fill="#15306f"/>
<line x1="215.4" y1="539.30" x2="230.1" y2="539.30" stroke="#222" stroke-width="1.15"/>
<line x1="237.5" y1="514.80" x2="252.6" y2="514.80" stroke="#222" stroke-width="1.15"/>
</svg></body></html>
